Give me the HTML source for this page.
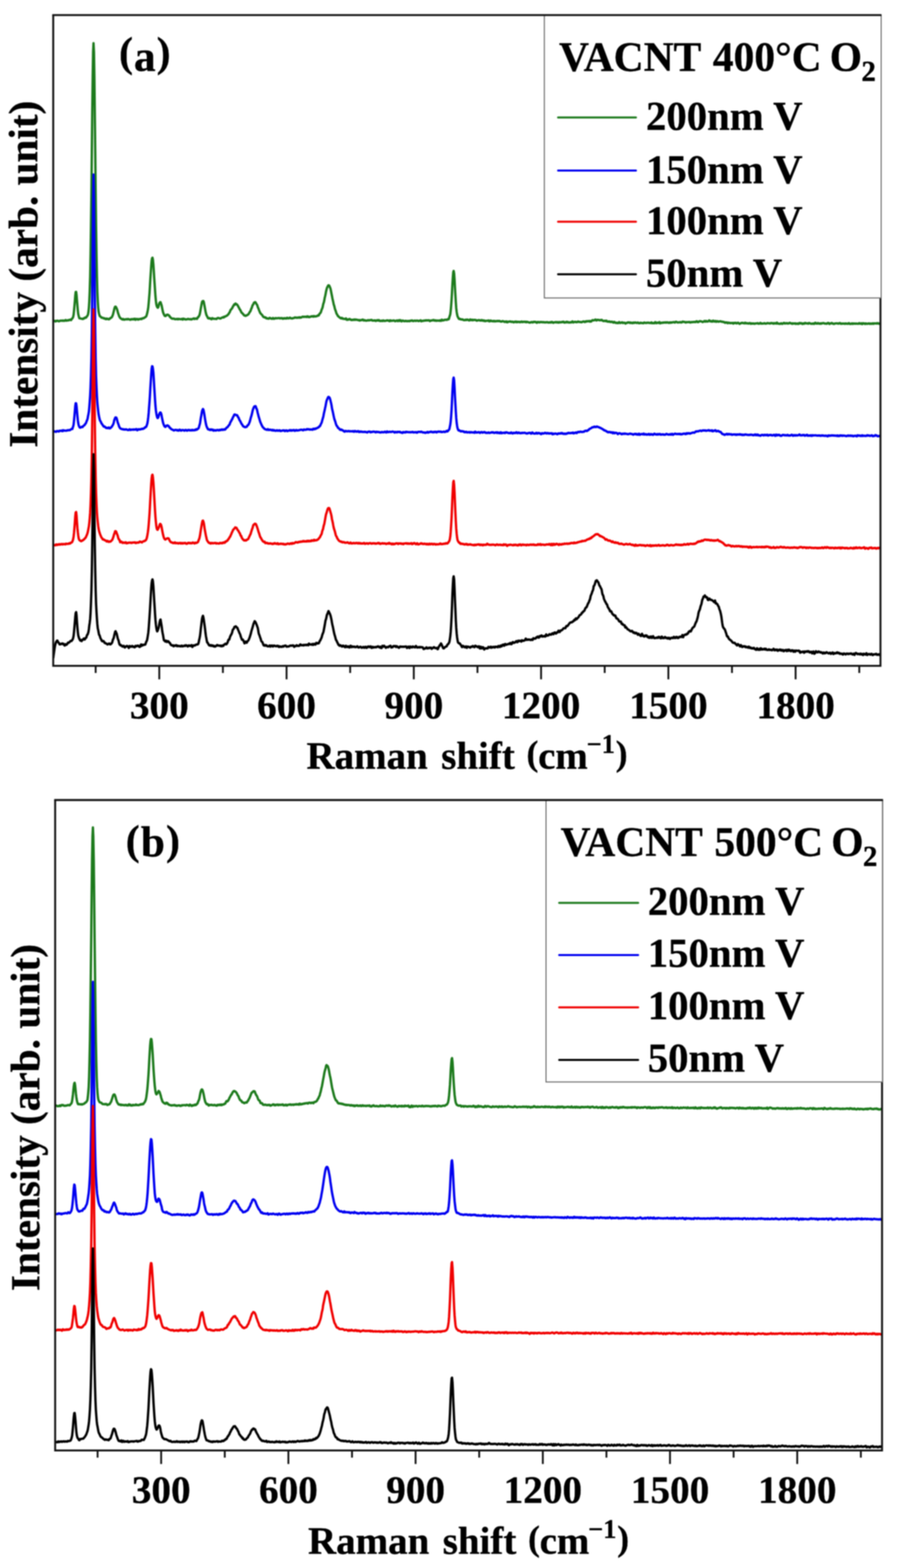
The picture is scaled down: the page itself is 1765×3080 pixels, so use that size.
<!DOCTYPE html>
<html><head><meta charset="utf-8"><style>
html,body{margin:0;padding:0;background:#fff;overflow:hidden;}
svg{display:block;filter:blur(1px);}
.t{font-family:'Liberation Serif', 'Times New Roman', serif;font-weight:bold;stroke:#000;stroke-width:0.6px;stroke-linejoin:round;font-size:76.5px;fill:#000;}
.yl{font-family:'Liberation Serif', 'Times New Roman', serif;font-weight:bold;stroke:#000;stroke-width:0.6px;stroke-linejoin:round;font-size:81px;fill:#000;}
.pl{font-family:'Liberation Serif', 'Times New Roman', serif;font-weight:bold;stroke:#000;stroke-width:0.6px;stroke-linejoin:round;font-size:85px;fill:#000;}
.lt{font-family:'Liberation Serif', 'Times New Roman', serif;font-weight:bold;stroke:#000;stroke-width:0.6px;stroke-linejoin:round;font-size:81.5px;fill:#000;}
.lt2{font-family:'Liberation Serif', 'Times New Roman', serif;font-weight:bold;stroke:#000;stroke-width:0.6px;stroke-linejoin:round;font-size:80px;fill:#000;}
</style></head><body>
<svg width="1765" height="3080" viewBox="0 0 1765 3080">
<rect width="100%" height="100%" fill="#fff"/>
<clipPath id="clipa"><rect x="104.5" y="29.6" width="1624.1" height="1278.3"/></clipPath>
<g clip-path="url(#clipa)">
<path d="M104.5,630.2 L105.3,629.8 L106.2,630.5 L107.0,630.3 L107.8,630.7 L108.7,631.4 L109.5,630.5 L110.3,630.2 L111.2,630.6 L112.0,630.1 L112.8,629.9 L113.7,630.2 L114.5,630.4 L115.3,631.3 L116.2,631.1 L117.0,630.5 L117.8,630.1 L118.7,629.9 L119.5,630.0 L120.3,629.7 L121.2,629.9 L122.0,630.2 L122.8,629.6 L123.7,629.6 L124.5,630.2 L125.3,629.7 L126.2,630.0 L127.0,630.1 L127.8,629.4 L128.7,628.6 L129.5,628.9 L130.3,630.0 L131.2,629.8 L132.0,629.4 L132.8,629.2 L133.7,628.9 L134.5,629.4 L135.3,629.0 L136.1,628.4 L137.0,628.5 L137.8,627.8 L138.6,627.9 L139.5,628.8 L140.3,627.6 L141.1,626.1 L142.0,625.5 L142.8,624.4 L143.6,622.5 L144.5,618.2 L145.3,610.6 L146.1,601.6 L147.0,591.2 L147.8,580.3 L148.6,573.5 L149.5,573.4 L150.3,579.5 L151.1,589.8 L152.0,600.4 L152.8,610.1 L153.6,616.9 L154.5,620.6 L155.3,623.8 L156.1,625.3 L157.0,625.3 L157.8,625.6 L158.6,625.8 L159.5,625.9 L160.3,626.2 L161.1,626.2 L162.0,626.4 L162.8,626.6 L163.6,625.5 L164.5,625.4 L165.3,625.6 L166.1,624.3 L167.0,623.9 L167.8,623.8 L168.6,624.2 L169.5,623.3 L170.3,621.7 L171.1,621.0 L172.0,619.6 L172.8,617.5 L173.6,613.0 L174.5,604.8 L175.3,592.2 L176.1,573.6 L177.0,543.2 L177.8,499.7 L178.6,444.6 L179.5,376.2 L180.3,299.1 L181.1,220.7 L182.0,150.4 L182.8,101.7 L183.6,84.8 L184.5,102.5 L185.3,150.6 L186.1,220.2 L187.0,298.4 L187.8,375.3 L188.6,444.4 L189.5,500.4 L190.3,542.6 L191.1,572.7 L192.0,592.4 L192.8,604.6 L193.6,612.1 L194.5,616.2 L195.3,619.3 L196.1,621.1 L196.9,621.5 L197.8,622.3 L198.6,623.2 L199.4,624.0 L200.3,624.1 L201.1,624.0 L201.9,624.3 L202.8,624.8 L203.6,625.5 L204.4,625.5 L205.3,625.1 L206.1,626.2 L206.9,626.5 L207.8,627.0 L208.6,626.4 L209.4,625.6 L210.3,626.7 L211.1,626.5 L211.9,626.3 L212.8,626.7 L213.6,627.3 L214.4,627.2 L215.3,626.0 L216.1,625.2 L216.9,625.0 L217.8,624.1 L218.6,623.7 L219.4,623.2 L220.3,621.5 L221.1,619.7 L221.9,617.4 L222.8,613.8 L223.6,610.5 L224.4,606.9 L225.3,603.9 L226.1,602.4 L226.9,602.2 L227.8,603.2 L228.6,604.9 L229.4,606.7 L230.3,609.0 L231.1,612.4 L231.9,615.4 L232.8,617.6 L233.6,620.1 L234.4,622.2 L235.3,623.4 L236.1,624.8 L236.9,625.3 L237.8,625.8 L238.6,626.7 L239.4,626.6 L240.3,627.5 L241.1,627.6 L241.9,626.7 L242.8,627.1 L243.6,627.9 L244.4,628.0 L245.3,627.6 L246.1,627.2 L246.9,627.1 L247.8,627.2 L248.6,626.9 L249.4,627.4 L250.3,627.3 L251.1,626.5 L251.9,626.8 L252.8,627.0 L253.6,627.3 L254.4,627.7 L255.2,628.0 L256.1,628.1 L256.9,627.3 L257.7,626.9 L258.6,627.0 L259.4,627.4 L260.2,627.3 L261.1,626.5 L261.9,626.7 L262.7,627.3 L263.6,626.5 L264.4,626.2 L265.2,627.7 L266.1,628.2 L266.9,626.8 L267.7,626.5 L268.6,627.0 L269.4,626.5 L270.2,627.2 L271.1,627.9 L271.9,626.9 L272.7,626.8 L273.6,627.1 L274.4,626.9 L275.2,626.5 L276.1,626.2 L276.9,626.1 L277.7,626.8 L278.6,626.4 L279.4,625.4 L280.2,625.0 L281.1,625.1 L281.9,625.3 L282.7,624.6 L283.6,623.9 L284.4,623.5 L285.2,623.1 L286.1,622.2 L286.9,621.6 L287.7,619.9 L288.6,616.6 L289.4,613.4 L290.2,609.4 L291.1,603.9 L291.9,595.5 L292.7,585.9 L293.6,575.1 L294.4,561.7 L295.2,547.6 L296.1,534.2 L296.9,522.1 L297.7,512.2 L298.6,507.1 L299.4,506.2 L300.2,510.0 L301.1,519.3 L301.9,531.4 L302.7,544.9 L303.6,558.0 L304.4,570.1 L305.2,581.8 L306.1,591.2 L306.9,597.6 L307.7,601.1 L308.6,603.1 L309.4,604.4 L310.2,604.4 L311.1,602.2 L311.9,598.6 L312.7,595.8 L313.6,594.7 L314.4,593.6 L315.2,593.5 L316.0,596.0 L316.9,598.6 L317.7,601.8 L318.5,606.0 L319.4,610.4 L320.2,613.6 L321.0,615.8 L321.9,617.7 L322.7,619.3 L323.5,620.7 L324.4,620.7 L325.2,620.7 L326.0,620.0 L326.9,618.5 L327.7,618.4 L328.5,618.3 L329.4,618.1 L330.2,618.5 L331.0,619.5 L331.9,619.7 L332.7,620.7 L333.5,622.5 L334.4,623.1 L335.2,623.7 L336.0,624.7 L336.9,625.4 L337.7,625.9 L338.5,626.1 L339.4,625.9 L340.2,625.9 L341.0,625.9 L341.9,626.1 L342.7,626.7 L343.5,627.0 L344.4,626.7 L345.2,626.8 L346.0,626.9 L346.9,626.7 L347.7,626.3 L348.5,626.8 L349.4,627.4 L350.2,626.6 L351.0,626.2 L351.9,626.7 L352.7,626.8 L353.5,626.9 L354.4,627.1 L355.2,626.9 L356.0,626.9 L356.9,626.2 L357.7,626.2 L358.5,627.8 L359.4,627.3 L360.2,625.9 L361.0,626.4 L361.9,627.0 L362.7,626.5 L363.5,627.1 L364.4,627.7 L365.2,627.4 L366.0,627.2 L366.9,627.3 L367.7,627.1 L368.5,626.6 L369.4,626.4 L370.2,626.8 L371.0,627.0 L371.9,627.0 L372.7,627.1 L373.5,626.7 L374.4,626.7 L375.2,627.4 L376.0,627.5 L376.8,626.7 L377.7,626.6 L378.5,626.5 L379.3,625.9 L380.2,625.3 L381.0,626.0 L381.8,626.7 L382.7,625.9 L383.5,625.5 L384.3,625.9 L385.2,625.8 L386.0,626.3 L386.8,626.4 L387.7,624.7 L388.5,623.2 L389.3,622.9 L390.2,621.6 L391.0,620.1 L391.8,618.4 L392.7,614.8 L393.5,610.2 L394.3,605.4 L395.2,600.6 L396.0,596.2 L396.8,592.9 L397.7,591.6 L398.5,591.3 L399.3,591.3 L400.2,593.6 L401.0,598.2 L401.8,602.3 L402.7,607.1 L403.5,611.7 L404.3,615.1 L405.2,618.6 L406.0,620.1 L406.8,621.6 L407.7,623.6 L408.5,625.0 L409.3,625.4 L410.2,625.0 L411.0,624.8 L411.8,625.8 L412.7,625.7 L413.5,625.5 L414.3,626.8 L415.2,627.1 L416.0,625.7 L416.8,624.9 L417.7,625.8 L418.5,626.1 L419.3,625.9 L420.2,626.2 L421.0,626.3 L421.8,626.2 L422.7,626.2 L423.5,626.4 L424.3,626.4 L425.2,626.6 L426.0,625.6 L426.8,624.8 L427.7,624.8 L428.5,624.6 L429.3,624.7 L430.2,624.9 L431.0,625.5 L431.8,625.7 L432.7,625.5 L433.5,625.4 L434.3,624.8 L435.2,624.1 L436.0,623.8 L436.8,623.7 L437.6,623.1 L438.5,623.7 L439.3,623.5 L440.1,622.1 L441.0,622.3 L441.8,622.1 L442.6,621.5 L443.5,620.8 L444.3,620.7 L445.1,620.3 L446.0,619.6 L446.8,619.0 L447.6,617.8 L448.5,617.2 L449.3,615.9 L450.1,614.2 L451.0,613.4 L451.8,611.3 L452.6,609.0 L453.5,608.1 L454.3,607.3 L455.1,606.1 L456.0,605.0 L456.8,603.2 L457.6,601.5 L458.5,600.4 L459.3,598.7 L460.1,597.8 L461.0,598.6 L461.8,597.8 L462.6,596.2 L463.5,597.2 L464.3,597.7 L465.1,597.7 L466.0,599.0 L466.8,600.1 L467.6,601.7 L468.5,603.5 L469.3,604.6 L470.1,606.5 L471.0,608.0 L471.8,609.0 L472.6,610.6 L473.5,612.6 L474.3,614.1 L475.1,614.6 L476.0,615.5 L476.8,616.4 L477.6,617.5 L478.5,618.4 L479.3,619.5 L480.1,619.8 L481.0,619.5 L481.8,620.4 L482.6,620.4 L483.5,619.8 L484.3,619.5 L485.1,619.1 L486.0,618.4 L486.8,618.1 L487.6,617.2 L488.5,616.3 L489.3,614.7 L490.1,613.1 L491.0,612.2 L491.8,610.9 L492.6,608.6 L493.5,606.0 L494.3,604.7 L495.1,601.9 L495.9,599.5 L496.8,598.6 L497.6,597.0 L498.4,595.1 L499.3,594.1 L500.1,594.1 L500.9,593.4 L501.8,593.9 L502.6,595.7 L503.4,597.0 L504.3,598.3 L505.1,599.6 L505.9,602.5 L506.8,604.8 L507.6,606.5 L508.4,608.8 L509.3,611.0 L510.1,612.9 L510.9,614.7 L511.8,615.8 L512.6,616.6 L513.4,617.7 L514.3,618.3 L515.1,619.2 L515.9,620.9 L516.8,622.1 L517.6,622.9 L518.4,622.7 L519.3,623.1 L520.1,623.9 L520.9,623.4 L521.8,623.8 L522.6,625.0 L523.4,625.5 L524.3,625.1 L525.1,625.4 L525.9,626.0 L526.8,625.9 L527.6,626.0 L528.4,625.3 L529.3,624.4 L530.1,624.6 L530.9,625.2 L531.8,625.6 L532.6,625.6 L533.4,626.1 L534.3,626.2 L535.1,625.3 L535.9,624.6 L536.8,625.2 L537.6,626.2 L538.4,626.0 L539.3,625.8 L540.1,625.2 L540.9,624.8 L541.8,625.1 L542.6,625.0 L543.4,625.3 L544.3,625.3 L545.1,625.1 L545.9,624.8 L546.8,624.8 L547.6,624.8 L548.4,624.9 L549.3,625.5 L550.1,625.1 L550.9,625.0 L551.8,625.2 L552.6,624.9 L553.4,624.9 L554.3,625.6 L555.1,626.2 L555.9,625.8 L556.7,625.2 L557.6,625.7 L558.4,625.5 L559.2,624.9 L560.1,625.5 L560.9,625.2 L561.7,625.7 L562.6,625.5 L563.4,624.2 L564.2,624.3 L565.1,625.0 L565.9,625.4 L566.7,625.3 L567.6,625.0 L568.4,624.4 L569.2,623.9 L570.1,624.8 L570.9,625.3 L571.7,625.2 L572.6,625.4 L573.4,625.1 L574.2,625.6 L575.1,625.1 L575.9,624.7 L576.7,624.7 L577.6,624.5 L578.4,623.8 L579.2,623.6 L580.1,624.0 L580.9,623.9 L581.7,624.2 L582.6,623.8 L583.4,624.0 L584.2,624.3 L585.1,624.1 L585.9,623.6 L586.7,623.3 L587.6,624.2 L588.4,623.5 L589.2,623.2 L590.1,624.0 L590.9,623.8 L591.7,623.5 L592.6,622.9 L593.4,622.2 L594.2,622.1 L595.1,622.0 L595.9,622.3 L596.7,622.7 L597.6,622.1 L598.4,622.2 L599.2,622.3 L600.1,622.1 L600.9,622.7 L601.7,622.6 L602.6,621.7 L603.4,621.4 L604.2,622.5 L605.1,622.7 L605.9,621.9 L606.7,622.7 L607.6,623.0 L608.4,622.6 L609.2,622.2 L610.1,621.7 L610.9,621.5 L611.7,621.4 L612.6,621.7 L613.4,621.1 L614.2,621.2 L615.1,622.1 L615.9,621.0 L616.7,620.8 L617.5,621.6 L618.4,621.4 L619.2,621.6 L620.0,621.5 L620.9,621.0 L621.7,621.1 L622.5,620.5 L623.4,620.5 L624.2,619.7 L625.0,618.9 L625.9,619.5 L626.7,617.9 L627.5,616.1 L628.4,615.4 L629.2,614.6 L630.0,613.2 L630.9,610.1 L631.7,607.6 L632.5,606.1 L633.4,603.5 L634.2,599.4 L635.0,596.0 L635.9,593.6 L636.7,590.0 L637.5,585.0 L638.4,581.5 L639.2,577.8 L640.0,573.1 L640.9,569.4 L641.7,566.2 L642.5,564.1 L643.4,562.6 L644.2,560.9 L645.0,560.3 L645.9,560.7 L646.7,561.6 L647.5,563.7 L648.4,565.6 L649.2,568.4 L650.0,572.5 L650.9,577.2 L651.7,581.0 L652.5,585.4 L653.4,589.4 L654.2,592.9 L655.0,597.2 L655.9,599.9 L656.7,602.9 L657.5,606.5 L658.4,609.0 L659.2,611.1 L660.0,613.8 L660.9,616.4 L661.7,617.4 L662.5,618.9 L663.4,620.9 L664.2,621.1 L665.0,622.0 L665.9,623.0 L666.7,623.6 L667.5,624.2 L668.4,624.2 L669.2,625.5 L670.0,625.3 L670.9,624.4 L671.7,624.7 L672.5,626.0 L673.4,626.2 L674.2,625.9 L675.0,626.4 L675.9,626.3 L676.7,626.6 L677.5,626.8 L678.3,626.5 L679.2,625.5 L680.0,626.4 L680.8,628.2 L681.7,627.6 L682.5,627.9 L683.3,628.2 L684.2,627.0 L685.0,627.1 L685.8,626.7 L686.7,626.5 L687.5,627.7 L688.3,627.9 L689.2,628.1 L690.0,628.7 L690.8,628.2 L691.7,628.0 L692.5,628.5 L693.3,628.2 L694.2,628.4 L695.0,627.6 L695.8,627.5 L696.7,628.3 L697.5,627.7 L698.3,627.6 L699.2,628.1 L700.0,628.0 L700.8,628.1 L701.7,628.3 L702.5,628.6 L703.3,628.9 L704.2,629.0 L705.0,628.7 L705.8,629.5 L706.7,629.7 L707.5,628.9 L708.3,628.8 L709.2,628.7 L710.0,628.9 L710.8,628.2 L711.7,627.8 L712.5,627.8 L713.3,628.7 L714.2,629.6 L715.0,628.9 L715.8,628.7 L716.7,629.4 L717.5,629.6 L718.3,629.9 L719.2,629.7 L720.0,629.8 L720.8,629.7 L721.7,629.1 L722.5,628.9 L723.3,629.3 L724.2,629.5 L725.0,628.9 L725.8,629.2 L726.7,628.8 L727.5,628.7 L728.3,628.8 L729.2,628.3 L730.0,628.7 L730.8,629.6 L731.7,629.8 L732.5,629.6 L733.3,629.8 L734.2,629.8 L735.0,629.5 L735.8,629.2 L736.6,629.5 L737.5,630.5 L738.3,630.2 L739.1,629.7 L740.0,629.2 L740.8,628.9 L741.6,629.7 L742.5,629.6 L743.3,628.7 L744.1,628.8 L745.0,630.0 L745.8,630.5 L746.6,630.4 L747.5,630.6 L748.3,630.3 L749.1,629.8 L750.0,630.1 L750.8,630.7 L751.6,630.3 L752.5,629.4 L753.3,629.7 L754.1,630.3 L755.0,630.5 L755.8,630.2 L756.6,630.1 L757.5,630.0 L758.3,629.9 L759.1,629.6 L760.0,629.2 L760.8,629.2 L761.6,629.6 L762.5,629.7 L763.3,629.8 L764.1,630.8 L765.0,630.9 L765.8,629.4 L766.6,629.3 L767.5,630.1 L768.3,629.8 L769.1,630.1 L770.0,630.1 L770.8,629.9 L771.6,629.6 L772.5,629.6 L773.3,629.9 L774.1,629.5 L775.0,630.2 L775.8,630.9 L776.6,630.5 L777.5,630.5 L778.3,629.9 L779.1,629.3 L780.0,629.9 L780.8,630.8 L781.6,630.1 L782.5,629.1 L783.3,630.0 L784.1,630.5 L785.0,628.9 L785.8,628.9 L786.6,629.8 L787.5,630.5 L788.3,631.2 L789.1,629.8 L790.0,629.7 L790.8,630.2 L791.6,629.8 L792.5,630.3 L793.3,630.9 L794.1,630.7 L795.0,630.8 L795.8,630.8 L796.6,630.0 L797.4,630.4 L798.3,630.7 L799.1,630.9 L799.9,630.9 L800.8,630.4 L801.6,630.7 L802.4,630.6 L803.3,630.9 L804.1,631.0 L804.9,630.2 L805.8,629.9 L806.6,629.8 L807.4,630.1 L808.3,629.8 L809.1,629.4 L809.9,630.1 L810.8,630.7 L811.6,630.7 L812.4,630.4 L813.3,629.9 L814.1,629.8 L814.9,629.9 L815.8,630.3 L816.6,630.4 L817.4,629.7 L818.3,629.7 L819.1,629.7 L819.9,629.8 L820.8,630.5 L821.6,630.7 L822.4,630.5 L823.3,630.1 L824.1,630.3 L824.9,629.9 L825.8,629.2 L826.6,630.2 L827.4,631.1 L828.3,630.3 L829.1,630.3 L829.9,630.4 L830.8,629.8 L831.6,630.1 L832.4,630.0 L833.3,629.5 L834.1,629.6 L834.9,629.8 L835.8,629.5 L836.6,629.1 L837.4,629.4 L838.3,629.5 L839.1,629.2 L839.9,629.4 L840.8,629.2 L841.6,629.0 L842.4,629.4 L843.3,630.0 L844.1,630.8 L844.9,630.1 L845.8,629.6 L846.6,629.7 L847.4,629.7 L848.3,629.2 L849.1,629.0 L849.9,629.3 L850.8,628.6 L851.6,628.6 L852.4,629.6 L853.3,629.9 L854.1,629.8 L854.9,629.2 L855.8,630.0 L856.6,630.2 L857.4,629.6 L858.2,630.0 L859.1,629.7 L859.9,629.6 L860.7,629.7 L861.6,629.7 L862.4,630.1 L863.2,629.9 L864.1,629.0 L864.9,629.4 L865.7,630.3 L866.6,629.4 L867.4,628.0 L868.2,628.8 L869.1,629.6 L869.9,628.9 L870.7,628.8 L871.6,629.1 L872.4,628.5 L873.2,628.1 L874.1,628.1 L874.9,628.1 L875.7,628.1 L876.6,628.3 L877.4,628.4 L878.2,627.8 L879.1,627.0 L879.9,626.7 L880.7,627.2 L881.6,625.8 L882.4,622.2 L883.2,620.2 L884.1,616.8 L884.9,610.1 L885.7,600.7 L886.6,588.7 L887.4,574.5 L888.2,559.2 L889.1,544.4 L889.9,534.4 L890.7,532.1 L891.6,537.4 L892.4,549.0 L893.2,564.3 L894.1,579.8 L894.9,593.6 L895.7,605.0 L896.6,612.6 L897.4,617.6 L898.2,621.1 L899.1,622.9 L899.9,624.4 L900.7,626.0 L901.6,626.6 L902.4,626.5 L903.2,626.3 L904.1,627.1 L904.9,627.5 L905.7,627.2 L906.6,627.5 L907.4,627.8 L908.2,627.3 L909.1,627.9 L909.9,628.8 L910.7,628.7 L911.6,628.7 L912.4,628.9 L913.2,628.5 L914.1,627.9 L914.9,628.6 L915.7,628.7 L916.5,627.9 L917.4,627.6 L918.2,628.3 L919.0,628.4 L919.9,628.6 L920.7,629.5 L921.5,629.4 L922.4,628.4 L923.2,627.5 L924.0,628.0 L924.9,628.9 L925.7,628.7 L926.5,628.0 L927.4,628.1 L928.2,629.2 L929.0,628.9 L929.9,628.3 L930.7,628.3 L931.5,628.6 L932.4,628.3 L933.2,628.5 L934.0,628.7 L934.9,628.7 L935.7,629.8 L936.5,629.9 L937.4,629.2 L938.2,629.2 L939.0,629.2 L939.9,628.6 L940.7,628.9 L941.5,629.5 L942.4,629.2 L943.2,629.1 L944.0,629.8 L944.9,629.5 L945.7,628.6 L946.5,629.2 L947.4,629.8 L948.2,629.2 L949.0,629.5 L949.9,630.3 L950.7,629.5 L951.5,629.8 L952.4,630.9 L953.2,630.6 L954.0,630.2 L954.9,630.1 L955.7,630.1 L956.5,630.0 L957.4,630.0 L958.2,630.2 L959.0,629.4 L959.9,629.8 L960.7,631.3 L961.5,631.3 L962.4,630.3 L963.2,629.5 L964.0,629.9 L964.9,630.8 L965.7,630.8 L966.5,630.8 L967.4,631.1 L968.2,630.3 L969.0,630.7 L969.9,631.1 L970.7,630.3 L971.5,631.0 L972.4,631.3 L973.2,630.7 L974.0,630.8 L974.9,631.0 L975.7,630.7 L976.5,630.3 L977.3,630.5 L978.2,630.9 L979.0,630.8 L979.8,630.3 L980.7,630.6 L981.5,630.8 L982.3,631.4 L983.2,631.7 L984.0,631.6 L984.8,631.7 L985.7,631.2 L986.5,630.9 L987.3,630.8 L988.2,631.3 L989.0,631.3 L989.8,631.9 L990.7,632.4 L991.5,631.8 L992.3,631.6 L993.2,632.3 L994.0,632.7 L994.8,631.3 L995.7,632.0 L996.5,633.0 L997.3,632.2 L998.2,632.0 L999.0,631.9 L999.8,631.5 L1000.7,631.8 L1001.5,631.8 L1002.3,631.4 L1003.2,632.1 L1004.0,632.4 L1004.8,632.3 L1005.7,632.0 L1006.5,631.8 L1007.3,632.5 L1008.2,633.1 L1009.0,633.1 L1009.8,632.4 L1010.7,631.9 L1011.5,631.6 L1012.3,632.3 L1013.2,632.9 L1014.0,632.0 L1014.8,631.7 L1015.7,632.2 L1016.5,632.8 L1017.3,632.4 L1018.2,632.0 L1019.0,632.0 L1019.8,632.6 L1020.7,633.1 L1021.5,632.3 L1022.3,632.3 L1023.2,631.9 L1024.0,631.5 L1024.8,632.6 L1025.7,632.6 L1026.5,632.0 L1027.3,632.1 L1028.2,632.5 L1029.0,631.9 L1029.8,632.1 L1030.7,632.4 L1031.5,631.8 L1032.3,632.7 L1033.2,633.0 L1034.0,632.0 L1034.8,632.1 L1035.7,632.6 L1036.5,632.8 L1037.3,632.8 L1038.1,633.1 L1039.0,633.6 L1039.8,633.7 L1040.6,633.5 L1041.5,633.5 L1042.3,633.2 L1043.1,632.6 L1044.0,632.5 L1044.8,633.0 L1045.6,633.4 L1046.5,633.1 L1047.3,632.2 L1048.1,632.0 L1049.0,632.4 L1049.8,632.5 L1050.6,632.1 L1051.5,632.2 L1052.3,633.0 L1053.1,633.5 L1054.0,634.1 L1054.8,633.4 L1055.6,632.4 L1056.5,632.9 L1057.3,633.0 L1058.1,632.6 L1059.0,633.4 L1059.8,633.1 L1060.6,632.5 L1061.5,632.7 L1062.3,632.5 L1063.1,632.6 L1064.0,633.0 L1064.8,633.0 L1065.6,632.6 L1066.5,633.2 L1067.3,632.9 L1068.1,632.8 L1069.0,633.3 L1069.8,633.4 L1070.6,633.1 L1071.5,633.0 L1072.3,633.2 L1073.1,633.0 L1074.0,632.7 L1074.8,632.8 L1075.6,633.4 L1076.5,633.2 L1077.3,633.7 L1078.1,633.4 L1079.0,633.1 L1079.8,633.5 L1080.6,632.9 L1081.5,633.5 L1082.3,633.5 L1083.1,632.4 L1084.0,632.5 L1084.8,632.9 L1085.6,633.9 L1086.5,634.1 L1087.3,633.4 L1088.1,633.4 L1089.0,633.1 L1089.8,632.9 L1090.6,632.6 L1091.5,632.8 L1092.3,633.4 L1093.1,632.9 L1094.0,632.5 L1094.8,633.0 L1095.6,633.7 L1096.5,633.8 L1097.3,632.8 L1098.1,632.5 L1098.9,633.3 L1099.8,633.4 L1100.6,632.9 L1101.4,632.8 L1102.3,633.0 L1103.1,632.9 L1103.9,632.2 L1104.8,632.6 L1105.6,632.5 L1106.4,631.9 L1107.3,633.0 L1108.1,633.7 L1108.9,633.2 L1109.8,632.9 L1110.6,633.4 L1111.4,633.1 L1112.3,632.0 L1113.1,632.1 L1113.9,633.2 L1114.8,633.1 L1115.6,632.5 L1116.4,633.1 L1117.3,633.7 L1118.1,633.6 L1118.9,633.1 L1119.8,633.0 L1120.6,633.1 L1121.4,633.4 L1122.3,633.0 L1123.1,631.8 L1123.9,631.4 L1124.8,632.7 L1125.6,633.3 L1126.4,632.7 L1127.3,632.5 L1128.1,632.3 L1128.9,632.0 L1129.8,632.6 L1130.6,632.5 L1131.4,632.4 L1132.3,632.9 L1133.1,632.8 L1133.9,632.3 L1134.8,631.5 L1135.6,631.7 L1136.4,632.2 L1137.3,632.4 L1138.1,632.4 L1138.9,632.7 L1139.8,632.5 L1140.6,632.7 L1141.4,632.9 L1142.3,633.0 L1143.1,632.4 L1143.9,631.8 L1144.8,631.8 L1145.6,631.3 L1146.4,631.6 L1147.3,632.1 L1148.1,632.7 L1148.9,631.9 L1149.8,631.2 L1150.6,632.0 L1151.4,631.5 L1152.3,630.8 L1153.1,630.7 L1153.9,631.1 L1154.8,631.1 L1155.6,631.0 L1156.4,630.5 L1157.2,630.9 L1158.1,631.8 L1158.9,630.7 L1159.7,631.1 L1160.6,631.6 L1161.4,630.6 L1162.2,629.7 L1163.1,628.9 L1163.9,629.0 L1164.7,629.3 L1165.6,629.4 L1166.4,628.9 L1167.2,628.9 L1168.1,628.2 L1168.9,627.7 L1169.7,628.2 L1170.6,629.4 L1171.4,629.4 L1172.2,628.3 L1173.1,628.5 L1173.9,628.4 L1174.7,628.3 L1175.6,628.6 L1176.4,628.9 L1177.2,629.2 L1178.1,628.7 L1178.9,628.6 L1179.7,629.0 L1180.6,628.7 L1181.4,628.3 L1182.2,629.3 L1183.1,630.0 L1183.9,630.1 L1184.7,630.7 L1185.6,630.6 L1186.4,630.1 L1187.2,630.2 L1188.1,630.0 L1188.9,630.8 L1189.7,630.3 L1190.6,629.9 L1191.4,631.1 L1192.2,631.7 L1193.1,631.7 L1193.9,631.5 L1194.7,632.0 L1195.6,631.4 L1196.4,631.2 L1197.2,632.0 L1198.1,632.5 L1198.9,632.4 L1199.7,632.5 L1200.6,632.0 L1201.4,631.8 L1202.2,632.6 L1203.1,632.8 L1203.9,633.6 L1204.7,633.8 L1205.6,632.3 L1206.4,632.5 L1207.2,633.4 L1208.1,633.6 L1208.9,634.2 L1209.7,634.4 L1210.6,634.0 L1211.4,633.8 L1212.2,634.4 L1213.1,634.8 L1213.9,634.6 L1214.7,633.9 L1215.6,632.7 L1216.4,633.4 L1217.2,634.5 L1218.0,634.4 L1218.9,633.9 L1219.7,633.6 L1220.5,633.5 L1221.4,633.0 L1222.2,633.9 L1223.0,634.6 L1223.9,634.1 L1224.7,634.0 L1225.5,633.9 L1226.4,634.0 L1227.2,634.7 L1228.0,635.6 L1228.9,635.2 L1229.7,634.4 L1230.5,634.3 L1231.4,634.3 L1232.2,633.5 L1233.0,633.2 L1233.9,633.5 L1234.7,633.4 L1235.5,633.4 L1236.4,634.2 L1237.2,634.5 L1238.0,633.5 L1238.9,633.8 L1239.7,634.0 L1240.5,634.5 L1241.4,634.9 L1242.2,634.1 L1243.0,633.5 L1243.9,633.8 L1244.7,634.5 L1245.5,634.1 L1246.4,633.6 L1247.2,633.4 L1248.0,633.8 L1248.9,634.1 L1249.7,634.2 L1250.5,634.4 L1251.4,633.7 L1252.2,633.5 L1253.0,633.8 L1253.9,634.8 L1254.7,635.0 L1255.5,634.5 L1256.4,634.8 L1257.2,634.3 L1258.0,633.8 L1258.9,634.4 L1259.7,634.5 L1260.5,634.6 L1261.4,634.4 L1262.2,634.7 L1263.0,635.0 L1263.9,634.4 L1264.7,633.5 L1265.5,633.6 L1266.4,634.2 L1267.2,634.2 L1268.0,634.5 L1268.9,634.4 L1269.7,633.8 L1270.5,633.9 L1271.4,634.1 L1272.2,634.0 L1273.0,633.7 L1273.9,634.1 L1274.7,634.3 L1275.5,634.5 L1276.4,634.5 L1277.2,634.2 L1278.0,634.4 L1278.8,633.3 L1279.7,633.6 L1280.5,634.9 L1281.3,634.5 L1282.2,634.5 L1283.0,634.6 L1283.8,634.7 L1284.7,635.0 L1285.5,633.7 L1286.3,632.7 L1287.2,632.9 L1288.0,634.5 L1288.8,634.9 L1289.7,634.3 L1290.5,634.1 L1291.3,633.6 L1292.2,634.0 L1293.0,634.4 L1293.8,633.5 L1294.7,632.8 L1295.5,634.2 L1296.3,635.1 L1297.2,634.5 L1298.0,633.9 L1298.8,633.9 L1299.7,634.2 L1300.5,634.3 L1301.3,633.8 L1302.2,633.4 L1303.0,633.8 L1303.8,633.9 L1304.7,633.6 L1305.5,633.1 L1306.3,633.3 L1307.2,633.7 L1308.0,633.9 L1308.8,633.3 L1309.7,633.0 L1310.5,633.2 L1311.3,633.6 L1312.2,634.2 L1313.0,634.1 L1313.8,633.5 L1314.7,633.2 L1315.5,634.1 L1316.3,633.8 L1317.2,633.2 L1318.0,633.7 L1318.8,633.7 L1319.7,633.3 L1320.5,633.2 L1321.3,632.9 L1322.2,632.9 L1323.0,632.7 L1323.8,632.7 L1324.7,633.6 L1325.5,633.3 L1326.3,632.2 L1327.2,632.0 L1328.0,632.0 L1328.8,632.6 L1329.7,633.2 L1330.5,633.4 L1331.3,633.4 L1332.2,633.0 L1333.0,633.1 L1333.8,633.3 L1334.7,633.2 L1335.5,632.6 L1336.3,633.0 L1337.2,633.5 L1338.0,633.1 L1338.8,633.1 L1339.6,632.0 L1340.5,631.7 L1341.3,632.2 L1342.1,632.2 L1343.0,632.0 L1343.8,632.6 L1344.6,632.6 L1345.5,632.7 L1346.3,633.5 L1347.1,632.9 L1348.0,632.8 L1348.8,633.0 L1349.6,632.7 L1350.5,632.7 L1351.3,632.7 L1352.1,632.7 L1353.0,632.2 L1353.8,632.6 L1354.6,633.5 L1355.5,633.5 L1356.3,633.0 L1357.1,632.6 L1358.0,633.0 L1358.8,632.8 L1359.6,632.6 L1360.5,632.9 L1361.3,632.4 L1362.1,632.4 L1363.0,632.5 L1363.8,632.3 L1364.6,632.8 L1365.5,632.7 L1366.3,631.7 L1367.1,631.2 L1368.0,631.0 L1368.8,631.5 L1369.6,632.8 L1370.5,632.8 L1371.3,632.5 L1372.1,631.9 L1373.0,631.1 L1373.8,630.8 L1374.6,631.0 L1375.5,631.2 L1376.3,631.1 L1377.1,631.4 L1378.0,631.7 L1378.8,632.1 L1379.6,632.7 L1380.5,632.1 L1381.3,631.6 L1382.1,631.5 L1383.0,630.5 L1383.8,631.0 L1384.6,631.8 L1385.5,631.0 L1386.3,630.5 L1387.1,631.4 L1388.0,631.6 L1388.8,631.2 L1389.6,631.4 L1390.5,631.2 L1391.3,630.4 L1392.1,629.4 L1393.0,629.5 L1393.8,630.6 L1394.6,631.4 L1395.5,631.1 L1396.3,630.6 L1397.1,631.0 L1397.9,631.9 L1398.8,631.6 L1399.6,630.0 L1400.4,629.9 L1401.3,630.6 L1402.1,631.5 L1402.9,631.6 L1403.8,630.9 L1404.6,630.4 L1405.4,631.1 L1406.3,632.1 L1407.1,631.6 L1407.9,630.7 L1408.8,630.9 L1409.6,631.7 L1410.4,632.0 L1411.3,631.7 L1412.1,631.4 L1412.9,631.4 L1413.8,631.3 L1414.6,631.1 L1415.4,631.3 L1416.3,631.8 L1417.1,632.1 L1417.9,632.0 L1418.8,631.9 L1419.6,632.3 L1420.4,632.8 L1421.3,632.5 L1422.1,632.7 L1422.9,633.7 L1423.8,634.1 L1424.6,633.5 L1425.4,633.2 L1426.3,633.6 L1427.1,633.4 L1427.9,634.5 L1428.8,634.9 L1429.6,633.7 L1430.4,633.8 L1431.3,634.0 L1432.1,634.0 L1432.9,634.8 L1433.8,634.7 L1434.6,634.3 L1435.4,634.6 L1436.3,634.4 L1437.1,634.7 L1437.9,634.3 L1438.8,634.5 L1439.6,635.6 L1440.4,634.4 L1441.3,634.1 L1442.1,634.7 L1442.9,634.8 L1443.8,634.1 L1444.6,634.0 L1445.4,635.1 L1446.3,635.3 L1447.1,634.7 L1447.9,634.4 L1448.8,633.8 L1449.6,634.3 L1450.4,635.1 L1451.3,635.5 L1452.1,636.2 L1452.9,635.8 L1453.8,635.1 L1454.6,635.0 L1455.4,634.3 L1456.3,634.4 L1457.1,634.2 L1457.9,634.1 L1458.7,634.6 L1459.6,634.6 L1460.4,634.9 L1461.2,635.3 L1462.1,635.0 L1462.9,633.8 L1463.7,634.1 L1464.6,635.0 L1465.4,635.3 L1466.2,634.9 L1467.1,634.9 L1467.9,635.3 L1468.7,635.2 L1469.6,635.7 L1470.4,635.1 L1471.2,634.5 L1472.1,634.8 L1472.9,634.8 L1473.7,636.1 L1474.6,635.8 L1475.4,635.1 L1476.2,635.5 L1477.1,635.8 L1477.9,635.8 L1478.7,635.2 L1479.6,635.2 L1480.4,635.6 L1481.2,636.1 L1482.1,635.9 L1482.9,635.4 L1483.7,635.3 L1484.6,635.2 L1485.4,635.3 L1486.2,635.3 L1487.1,634.8 L1487.9,634.7 L1488.7,635.6 L1489.6,636.0 L1490.4,635.6 L1491.2,635.5 L1492.1,635.3 L1492.9,634.3 L1493.7,635.1 L1494.6,635.8 L1495.4,635.4 L1496.2,635.5 L1497.1,635.6 L1497.9,635.5 L1498.7,635.5 L1499.6,635.5 L1500.4,634.9 L1501.2,634.8 L1502.1,635.5 L1502.9,635.8 L1503.7,635.8 L1504.6,635.6 L1505.4,635.1 L1506.2,634.6 L1507.1,635.0 L1507.9,634.8 L1508.7,634.9 L1509.6,635.1 L1510.4,635.0 L1511.2,635.4 L1512.1,635.4 L1512.9,634.7 L1513.7,634.5 L1514.6,634.7 L1515.4,634.6 L1516.2,635.0 L1517.1,635.5 L1517.9,635.0 L1518.7,634.8 L1519.5,635.8 L1520.4,635.3 L1521.2,634.7 L1522.0,634.8 L1522.9,635.2 L1523.7,635.6 L1524.5,634.6 L1525.4,633.7 L1526.2,634.4 L1527.0,635.7 L1527.9,635.8 L1528.7,635.7 L1529.5,635.9 L1530.4,635.9 L1531.2,636.2 L1532.0,636.0 L1532.9,635.4 L1533.7,634.9 L1534.5,635.4 L1535.4,636.1 L1536.2,636.1 L1537.0,635.4 L1537.9,635.0 L1538.7,634.2 L1539.5,634.2 L1540.4,635.5 L1541.2,635.4 L1542.0,634.8 L1542.9,635.2 L1543.7,635.3 L1544.5,634.7 L1545.4,634.7 L1546.2,635.3 L1547.0,635.6 L1547.9,635.3 L1548.7,635.3 L1549.5,634.6 L1550.4,634.0 L1551.2,634.3 L1552.0,634.9 L1552.9,635.3 L1553.7,635.1 L1554.5,635.7 L1555.4,636.1 L1556.2,635.1 L1557.0,635.1 L1557.9,635.7 L1558.7,635.5 L1559.5,635.4 L1560.4,635.3 L1561.2,635.0 L1562.0,636.2 L1562.9,636.1 L1563.7,635.6 L1564.5,635.9 L1565.4,635.3 L1566.2,635.6 L1567.0,636.4 L1567.9,636.0 L1568.7,635.0 L1569.5,634.4 L1570.4,634.7 L1571.2,635.4 L1572.0,634.9 L1572.9,634.5 L1573.7,635.2 L1574.5,635.7 L1575.4,636.4 L1576.2,635.8 L1577.0,635.1 L1577.9,635.8 L1578.7,636.0 L1579.5,635.2 L1580.3,634.4 L1581.2,634.4 L1582.0,634.9 L1582.8,635.5 L1583.7,635.1 L1584.5,635.2 L1585.3,635.2 L1586.2,635.0 L1587.0,635.9 L1587.8,635.4 L1588.7,634.4 L1589.5,634.9 L1590.3,635.0 L1591.2,635.5 L1592.0,635.9 L1592.8,636.0 L1593.7,635.9 L1594.5,635.6 L1595.3,636.0 L1596.2,635.7 L1597.0,635.3 L1597.8,636.1 L1598.7,636.3 L1599.5,635.0 L1600.3,634.1 L1601.2,634.1 L1602.0,634.9 L1602.8,635.8 L1603.7,635.8 L1604.5,635.6 L1605.3,634.8 L1606.2,634.6 L1607.0,635.4 L1607.8,635.6 L1608.7,635.9 L1609.5,635.2 L1610.3,635.5 L1611.2,636.0 L1612.0,635.0 L1612.8,635.3 L1613.7,635.4 L1614.5,634.7 L1615.3,634.8 L1616.2,634.7 L1617.0,634.6 L1617.8,635.0 L1618.7,635.5 L1619.5,635.6 L1620.3,635.5 L1621.2,635.5 L1622.0,635.7 L1622.8,635.9 L1623.7,635.7 L1624.5,634.9 L1625.3,634.4 L1626.2,634.3 L1627.0,634.6 L1627.8,636.0 L1628.7,636.4 L1629.5,635.3 L1630.3,635.2 L1631.2,635.3 L1632.0,635.2 L1632.8,634.4 L1633.7,634.8 L1634.5,635.5 L1635.3,635.3 L1636.2,636.2 L1637.0,636.3 L1637.8,636.3 L1638.6,635.7 L1639.5,635.2 L1640.3,635.3 L1641.1,635.2 L1642.0,635.2 L1642.8,635.1 L1643.6,635.2 L1644.5,635.3 L1645.3,635.6 L1646.1,635.9 L1647.0,635.1 L1647.8,635.0 L1648.6,634.6 L1649.5,634.8 L1650.3,635.9 L1651.1,635.3 L1652.0,635.9 L1652.8,636.0 L1653.6,635.6 L1654.5,635.8 L1655.3,635.6 L1656.1,635.7 L1657.0,635.6 L1657.8,635.8 L1658.6,636.1 L1659.5,635.4 L1660.3,635.2 L1661.1,635.6 L1662.0,635.7 L1662.8,636.0 L1663.6,635.9 L1664.5,636.0 L1665.3,635.9 L1666.1,634.8 L1667.0,634.9 L1667.8,635.9 L1668.6,636.3 L1669.5,636.4 L1670.3,635.8 L1671.1,635.9 L1672.0,636.1 L1672.8,635.1 L1673.6,635.7 L1674.5,636.2 L1675.3,635.5 L1676.1,635.4 L1677.0,635.8 L1677.8,635.6 L1678.6,635.9 L1679.5,635.9 L1680.3,635.4 L1681.1,635.7 L1682.0,635.7 L1682.8,635.9 L1683.6,635.8 L1684.5,635.8 L1685.3,636.0 L1686.1,635.2 L1687.0,634.7 L1687.8,635.5 L1688.6,635.7 L1689.5,635.9 L1690.3,635.9 L1691.1,634.9 L1692.0,635.4 L1692.8,636.6 L1693.6,635.9 L1694.5,634.9 L1695.3,635.3 L1696.1,635.5 L1697.0,635.3 L1697.8,636.3 L1698.6,636.4 L1699.4,635.3 L1700.3,635.4 L1701.1,635.8 L1701.9,636.1 L1702.8,636.1 L1703.6,635.5 L1704.4,635.8 L1705.3,635.7 L1706.1,635.2 L1706.9,635.7 L1707.8,636.3 L1708.6,636.1 L1709.4,635.4 L1710.3,635.6 L1711.1,636.2 L1711.9,636.2 L1712.8,635.5 L1713.6,635.0 L1714.4,635.5 L1715.3,636.2 L1716.1,635.4 L1716.9,635.1 L1717.8,635.2 L1718.6,635.3 L1719.4,635.4 L1720.3,635.6 L1721.1,635.1 L1721.9,634.7 L1722.8,635.5 L1723.6,635.5 L1724.4,634.9 L1725.3,635.8 L1726.1,635.9 L1726.9,635.9 L1727.8,636.2 L1728.6,635.8" fill="none" stroke="#1c7a1c" stroke-width="4.6" stroke-linejoin="round"/>
<path d="M104.5,848.0 L105.3,847.9 L106.2,847.7 L107.0,847.0 L107.8,847.6 L108.7,848.0 L109.5,848.1 L110.3,848.3 L111.2,847.0 L112.0,846.6 L112.8,846.9 L113.7,846.9 L114.5,847.2 L115.3,847.6 L116.2,846.9 L117.0,846.0 L117.8,846.3 L118.7,846.3 L119.5,846.0 L120.3,846.5 L121.2,846.1 L122.0,845.4 L122.8,846.8 L123.7,846.5 L124.5,845.1 L125.3,845.7 L126.2,845.8 L127.0,845.8 L127.8,846.0 L128.7,846.0 L129.5,845.9 L130.3,845.9 L131.2,845.9 L132.0,845.3 L132.8,845.0 L133.7,845.0 L134.5,845.2 L135.3,845.0 L136.1,844.9 L137.0,845.0 L137.8,844.6 L138.6,844.0 L139.5,843.3 L140.3,842.6 L141.1,842.7 L142.0,842.7 L142.8,840.1 L143.6,837.8 L144.5,834.0 L145.3,826.4 L146.1,817.7 L147.0,807.2 L147.8,797.3 L148.6,792.0 L149.5,792.2 L150.3,798.0 L151.1,807.3 L152.0,817.3 L152.8,825.3 L153.6,831.1 L154.5,835.2 L155.3,837.4 L156.1,839.1 L157.0,840.0 L157.8,839.9 L158.6,839.7 L159.5,839.0 L160.3,838.3 L161.1,838.8 L162.0,838.9 L162.8,837.7 L163.6,836.9 L164.5,836.0 L165.3,835.5 L166.1,834.9 L167.0,833.1 L167.8,832.5 L168.6,831.4 L169.5,829.0 L170.3,826.7 L171.1,825.1 L172.0,822.3 L172.8,817.5 L173.6,813.7 L174.5,808.7 L175.3,800.3 L176.1,789.8 L177.0,777.0 L177.8,760.3 L178.6,736.6 L179.5,702.3 L180.3,652.7 L181.1,581.8 L182.0,487.9 L182.8,389.9 L183.6,342.8 L184.5,388.2 L185.3,485.8 L186.1,580.1 L187.0,652.4 L187.8,703.4 L188.6,738.0 L189.5,761.1 L190.3,777.8 L191.1,790.8 L192.0,800.0 L192.8,807.4 L193.6,813.7 L194.5,818.4 L195.3,822.2 L196.1,825.2 L196.9,827.0 L197.8,828.0 L198.6,830.2 L199.4,832.0 L200.3,832.7 L201.1,834.3 L201.9,835.5 L202.8,836.4 L203.6,837.9 L204.4,838.3 L205.3,837.8 L206.1,838.4 L206.9,839.2 L207.8,840.2 L208.6,840.8 L209.4,840.5 L210.3,840.2 L211.1,840.9 L211.9,841.1 L212.8,840.2 L213.6,839.7 L214.4,840.6 L215.3,841.5 L216.1,841.3 L216.9,840.8 L217.8,839.7 L218.6,839.1 L219.4,838.4 L220.3,836.7 L221.1,835.6 L221.9,834.2 L222.8,832.0 L223.6,828.7 L224.4,825.0 L225.3,822.8 L226.1,820.8 L226.9,819.9 L227.8,820.1 L228.6,820.7 L229.4,823.1 L230.3,826.5 L231.1,829.7 L231.9,831.9 L232.8,834.1 L233.6,837.0 L234.4,838.9 L235.3,840.2 L236.1,841.6 L236.9,841.8 L237.8,842.1 L238.6,842.8 L239.4,842.8 L240.3,843.2 L241.1,842.9 L241.9,843.2 L242.8,843.8 L243.6,843.6 L244.4,843.8 L245.3,843.5 L246.1,843.9 L246.9,843.6 L247.8,843.2 L248.6,843.7 L249.4,844.0 L250.3,844.5 L251.1,844.7 L251.9,844.7 L252.8,844.7 L253.6,843.6 L254.4,843.2 L255.2,844.1 L256.1,844.7 L256.9,844.5 L257.7,843.9 L258.6,843.8 L259.4,843.9 L260.2,843.8 L261.1,844.2 L261.9,843.8 L262.7,843.4 L263.6,844.0 L264.4,843.8 L265.2,843.9 L266.1,843.8 L266.9,843.0 L267.7,842.8 L268.6,843.9 L269.4,845.2 L270.2,844.9 L271.1,843.7 L271.9,843.1 L272.7,843.3 L273.6,843.7 L274.4,843.8 L275.2,843.2 L276.1,842.9 L276.9,843.1 L277.7,842.9 L278.6,842.2 L279.4,842.0 L280.2,842.6 L281.1,842.3 L281.9,841.7 L282.7,841.2 L283.6,841.0 L284.4,839.8 L285.2,839.1 L286.1,839.2 L286.9,838.4 L287.7,836.8 L288.6,834.0 L289.4,831.3 L290.2,826.1 L291.1,819.2 L291.9,811.0 L292.7,800.0 L293.6,788.4 L294.4,776.2 L295.2,761.4 L296.1,747.5 L296.9,735.0 L297.7,724.4 L298.6,719.4 L299.4,719.7 L300.2,724.0 L301.1,731.8 L301.9,744.3 L302.7,758.4 L303.6,772.5 L304.4,785.7 L305.2,797.1 L306.1,806.2 L306.9,811.9 L307.7,816.3 L308.6,819.6 L309.4,821.2 L310.2,820.8 L311.1,818.7 L311.9,815.8 L312.7,813.1 L313.6,811.6 L314.4,810.2 L315.2,810.3 L316.0,811.5 L316.9,814.5 L317.7,818.8 L318.5,822.7 L319.4,826.9 L320.2,830.5 L321.0,833.0 L321.9,835.2 L322.7,837.1 L323.5,837.7 L324.4,838.6 L325.2,838.3 L326.0,836.6 L326.9,836.0 L327.7,836.1 L328.5,835.5 L329.4,835.8 L330.2,836.9 L331.0,836.8 L331.9,837.8 L332.7,839.7 L333.5,840.5 L334.4,840.8 L335.2,841.8 L336.0,842.8 L336.9,843.3 L337.7,843.6 L338.5,844.0 L339.4,844.3 L340.2,844.7 L341.0,845.4 L341.9,845.4 L342.7,844.7 L343.5,844.6 L344.4,844.5 L345.2,844.3 L346.0,844.6 L346.9,845.2 L347.7,845.4 L348.5,844.7 L349.4,845.1 L350.2,845.9 L351.0,845.7 L351.9,844.9 L352.7,844.0 L353.5,844.5 L354.4,845.4 L355.2,845.9 L356.0,845.7 L356.9,844.7 L357.7,844.8 L358.5,845.0 L359.4,844.9 L360.2,844.7 L361.0,845.4 L361.9,846.0 L362.7,845.7 L363.5,844.9 L364.4,844.4 L365.2,845.0 L366.0,845.5 L366.9,845.9 L367.7,845.9 L368.5,844.8 L369.4,844.7 L370.2,844.9 L371.0,844.5 L371.9,844.7 L372.7,845.4 L373.5,845.4 L374.4,844.7 L375.2,845.0 L376.0,845.5 L376.8,845.3 L377.7,844.4 L378.5,844.7 L379.3,845.2 L380.2,844.9 L381.0,845.2 L381.8,844.7 L382.7,844.2 L383.5,844.8 L384.3,844.1 L385.2,843.2 L386.0,844.1 L386.8,843.7 L387.7,842.6 L388.5,842.4 L389.3,841.8 L390.2,840.5 L391.0,837.5 L391.8,834.7 L392.7,831.5 L393.5,826.2 L394.3,820.7 L395.2,816.3 L396.0,811.1 L396.8,806.9 L397.7,804.8 L398.5,803.4 L399.3,804.7 L400.2,808.6 L401.0,813.0 L401.8,818.0 L402.7,823.8 L403.5,828.4 L404.3,832.6 L405.2,836.1 L406.0,838.6 L406.8,840.1 L407.7,842.0 L408.5,843.4 L409.3,843.5 L410.2,843.2 L411.0,843.6 L411.8,844.6 L412.7,844.8 L413.5,844.3 L414.3,843.4 L415.2,843.7 L416.0,844.5 L416.8,844.8 L417.7,843.8 L418.5,844.4 L419.3,845.9 L420.2,845.7 L421.0,845.3 L421.8,844.9 L422.7,845.1 L423.5,845.8 L424.3,845.7 L425.2,845.1 L426.0,844.5 L426.8,844.6 L427.7,844.8 L428.5,845.2 L429.3,845.5 L430.2,844.6 L431.0,844.3 L431.8,844.7 L432.7,845.0 L433.5,844.0 L434.3,844.3 L435.2,844.3 L436.0,843.5 L436.8,844.5 L437.6,844.2 L438.5,844.1 L439.3,844.1 L440.1,843.1 L441.0,843.2 L441.8,843.8 L442.6,843.0 L443.5,842.0 L444.3,840.6 L445.1,839.8 L446.0,839.6 L446.8,839.0 L447.6,837.9 L448.5,836.4 L449.3,835.5 L450.1,834.7 L451.0,833.2 L451.8,830.6 L452.6,829.0 L453.5,827.6 L454.3,826.0 L455.1,824.3 L456.0,823.2 L456.8,820.9 L457.6,819.1 L458.5,818.0 L459.3,815.9 L460.1,814.4 L461.0,814.0 L461.8,814.8 L462.6,814.7 L463.5,815.3 L464.3,815.6 L465.1,815.3 L466.0,816.3 L466.8,818.1 L467.6,819.8 L468.5,820.4 L469.3,822.7 L470.1,825.0 L471.0,826.2 L471.8,827.7 L472.6,829.2 L473.5,831.1 L474.3,832.9 L475.1,833.4 L476.0,835.0 L476.8,836.5 L477.6,837.5 L478.5,837.9 L479.3,838.0 L480.1,838.8 L481.0,839.0 L481.8,839.2 L482.6,838.9 L483.5,838.5 L484.3,838.4 L485.1,837.2 L486.0,835.4 L486.8,835.2 L487.6,834.6 L488.5,832.7 L489.3,830.9 L490.1,829.0 L491.0,826.0 L491.8,822.8 L492.6,819.8 L493.5,817.0 L494.3,814.2 L495.1,810.7 L495.9,807.0 L496.8,803.9 L497.6,801.8 L498.4,800.0 L499.3,798.5 L500.1,798.2 L500.9,797.9 L501.8,797.8 L502.6,800.1 L503.4,802.4 L504.3,803.8 L505.1,807.1 L505.9,811.0 L506.8,814.2 L507.6,817.4 L508.4,820.3 L509.3,823.0 L510.1,825.8 L510.9,828.5 L511.8,830.6 L512.6,832.4 L513.4,834.4 L514.3,836.0 L515.1,837.7 L515.9,839.0 L516.8,839.7 L517.6,840.7 L518.4,841.5 L519.3,842.4 L520.1,843.0 L520.9,843.2 L521.8,843.2 L522.6,843.9 L523.4,844.1 L524.3,844.4 L525.1,843.7 L525.9,842.9 L526.8,844.0 L527.6,844.6 L528.4,844.8 L529.3,844.3 L530.1,843.9 L530.9,844.3 L531.8,844.5 L532.6,844.8 L533.4,845.3 L534.3,844.5 L535.1,844.4 L535.9,845.5 L536.8,845.8 L537.6,845.1 L538.4,844.9 L539.3,845.6 L540.1,846.2 L540.9,846.0 L541.8,846.1 L542.6,845.9 L543.4,845.0 L544.3,845.5 L545.1,845.6 L545.9,846.3 L546.8,846.1 L547.6,845.4 L548.4,845.2 L549.3,845.3 L550.1,846.6 L550.9,846.6 L551.8,846.5 L552.6,846.2 L553.4,846.0 L554.3,845.9 L555.1,845.3 L555.9,845.8 L556.7,845.7 L557.6,845.4 L558.4,845.8 L559.2,846.8 L560.1,846.5 L560.9,845.6 L561.7,846.0 L562.6,845.4 L563.4,845.8 L564.2,846.8 L565.1,846.4 L565.9,846.0 L566.7,846.0 L567.6,845.9 L568.4,844.9 L569.2,845.5 L570.1,845.9 L570.9,844.9 L571.7,845.8 L572.6,846.0 L573.4,845.0 L574.2,845.3 L575.1,845.4 L575.9,845.2 L576.7,844.6 L577.6,844.9 L578.4,846.1 L579.2,846.2 L580.1,845.8 L580.9,845.3 L581.7,844.6 L582.6,845.0 L583.4,845.7 L584.2,845.5 L585.1,845.5 L585.9,845.0 L586.7,845.2 L587.6,845.1 L588.4,844.6 L589.2,844.5 L590.1,844.2 L590.9,844.1 L591.7,844.0 L592.6,844.2 L593.4,844.5 L594.2,844.9 L595.1,845.3 L595.9,844.7 L596.7,843.6 L597.6,843.9 L598.4,844.2 L599.2,844.1 L600.1,844.2 L600.9,844.0 L601.7,843.7 L602.6,842.8 L603.4,843.3 L604.2,843.5 L605.1,843.0 L605.9,843.0 L606.7,843.2 L607.6,843.8 L608.4,844.0 L609.2,843.7 L610.1,843.4 L610.9,843.5 L611.7,843.7 L612.6,843.8 L613.4,844.2 L614.2,843.0 L615.1,842.1 L615.9,842.7 L616.7,843.2 L617.5,843.0 L618.4,841.8 L619.2,842.0 L620.0,842.3 L620.9,841.4 L621.7,841.1 L622.5,841.0 L623.4,840.4 L624.2,840.0 L625.0,839.2 L625.9,839.3 L626.7,838.0 L627.5,836.8 L628.4,836.7 L629.2,834.9 L630.0,832.9 L630.9,831.3 L631.7,829.4 L632.5,826.3 L633.4,823.0 L634.2,820.5 L635.0,817.2 L635.9,812.1 L636.7,808.8 L637.5,805.2 L638.4,800.9 L639.2,797.4 L640.0,792.9 L640.9,788.3 L641.7,785.7 L642.5,784.0 L643.4,782.0 L644.2,780.2 L645.0,779.5 L645.9,780.1 L646.7,780.6 L647.5,782.2 L648.4,785.1 L649.2,788.6 L650.0,791.6 L650.9,796.1 L651.7,801.5 L652.5,805.2 L653.4,809.1 L654.2,812.8 L655.0,816.8 L655.9,820.8 L656.7,823.8 L657.5,826.2 L658.4,828.5 L659.2,831.7 L660.0,833.9 L660.9,836.1 L661.7,837.3 L662.5,837.8 L663.4,840.1 L664.2,840.9 L665.0,841.1 L665.9,841.8 L666.7,843.2 L667.5,844.0 L668.4,844.2 L669.2,844.5 L670.0,843.7 L670.9,844.1 L671.7,845.1 L672.5,845.2 L673.4,845.2 L674.2,846.1 L675.0,847.2 L675.9,847.6 L676.7,847.9 L677.5,847.2 L678.3,846.4 L679.2,846.6 L680.0,846.9 L680.8,847.1 L681.7,847.5 L682.5,846.9 L683.3,846.7 L684.2,846.9 L685.0,846.6 L685.8,847.3 L686.7,847.4 L687.5,847.1 L688.3,847.0 L689.2,847.1 L690.0,847.2 L690.8,847.3 L691.7,847.5 L692.5,846.7 L693.3,846.8 L694.2,847.6 L695.0,848.2 L695.8,847.8 L696.7,846.5 L697.5,846.8 L698.3,847.3 L699.2,847.8 L700.0,848.0 L700.8,847.2 L701.7,847.1 L702.5,847.6 L703.3,846.8 L704.2,847.2 L705.0,848.6 L705.8,848.4 L706.7,847.7 L707.5,847.6 L708.3,848.3 L709.2,848.0 L710.0,847.7 L710.8,848.2 L711.7,848.4 L712.5,848.4 L713.3,848.6 L714.2,848.4 L715.0,848.1 L715.8,848.2 L716.7,848.6 L717.5,848.1 L718.3,848.6 L719.2,848.7 L720.0,848.9 L720.8,849.5 L721.7,848.6 L722.5,848.1 L723.3,848.2 L724.2,847.9 L725.0,847.8 L725.8,847.8 L726.7,848.2 L727.5,849.1 L728.3,848.5 L729.2,848.4 L730.0,848.6 L730.8,848.6 L731.7,848.1 L732.5,847.7 L733.3,847.9 L734.2,848.0 L735.0,848.2 L735.8,848.1 L736.6,848.8 L737.5,849.3 L738.3,848.7 L739.1,848.1 L740.0,848.1 L740.8,848.7 L741.6,848.8 L742.5,848.6 L743.3,848.6 L744.1,848.5 L745.0,849.0 L745.8,849.5 L746.6,849.3 L747.5,849.5 L748.3,849.2 L749.1,848.5 L750.0,848.6 L750.8,849.1 L751.6,849.0 L752.5,848.7 L753.3,849.1 L754.1,849.0 L755.0,848.3 L755.8,847.9 L756.6,848.5 L757.5,849.3 L758.3,849.5 L759.1,848.5 L760.0,847.5 L760.8,848.3 L761.6,848.9 L762.5,848.5 L763.3,848.8 L764.1,848.4 L765.0,847.9 L765.8,848.2 L766.6,848.4 L767.5,848.6 L768.3,848.4 L769.1,848.0 L770.0,847.9 L770.8,847.9 L771.6,847.8 L772.5,848.2 L773.3,848.2 L774.1,849.2 L775.0,849.7 L775.8,848.6 L776.6,848.3 L777.5,848.7 L778.3,848.8 L779.1,849.4 L780.0,849.0 L780.8,848.2 L781.6,848.5 L782.5,848.3 L783.3,848.6 L784.1,848.5 L785.0,848.1 L785.8,849.0 L786.6,849.5 L787.5,849.4 L788.3,849.5 L789.1,850.1 L790.0,850.5 L790.8,849.3 L791.6,848.6 L792.5,849.0 L793.3,849.5 L794.1,849.2 L795.0,848.6 L795.8,849.5 L796.6,849.2 L797.4,848.2 L798.3,848.5 L799.1,848.8 L799.9,848.6 L800.8,848.7 L801.6,848.9 L802.4,849.0 L803.3,848.9 L804.1,848.8 L804.9,849.2 L805.8,848.9 L806.6,848.9 L807.4,849.2 L808.3,848.8 L809.1,848.6 L809.9,848.2 L810.8,848.7 L811.6,849.4 L812.4,849.0 L813.3,849.2 L814.1,849.3 L814.9,848.8 L815.8,849.2 L816.6,848.9 L817.4,848.9 L818.3,849.9 L819.1,849.8 L819.9,849.2 L820.8,848.2 L821.6,848.3 L822.4,848.3 L823.3,848.3 L824.1,848.4 L824.9,848.3 L825.8,848.7 L826.6,848.1 L827.4,847.9 L828.3,848.4 L829.1,849.0 L829.9,849.4 L830.8,849.4 L831.6,849.4 L832.4,849.7 L833.3,849.6 L834.1,849.5 L834.9,850.3 L835.8,849.5 L836.6,849.5 L837.4,849.8 L838.3,849.1 L839.1,848.4 L839.9,848.7 L840.8,849.9 L841.6,849.4 L842.4,848.8 L843.3,848.8 L844.1,848.2 L844.9,848.5 L845.8,848.0 L846.6,847.8 L847.4,848.6 L848.3,848.5 L849.1,848.5 L849.9,849.2 L850.8,848.7 L851.6,848.3 L852.4,849.0 L853.3,848.8 L854.1,848.0 L854.9,848.1 L855.8,848.3 L856.6,849.0 L857.4,849.4 L858.2,848.3 L859.1,848.2 L859.9,847.9 L860.7,847.6 L861.6,848.1 L862.4,848.1 L863.2,847.8 L864.1,848.1 L864.9,847.8 L865.7,847.9 L866.6,848.7 L867.4,848.6 L868.2,848.7 L869.1,848.2 L869.9,848.3 L870.7,848.2 L871.6,847.7 L872.4,848.4 L873.2,848.6 L874.1,848.2 L874.9,848.0 L875.7,847.5 L876.6,846.4 L877.4,846.6 L878.2,847.6 L879.1,847.1 L879.9,845.8 L880.7,844.8 L881.6,844.2 L882.4,842.1 L883.2,838.1 L884.1,833.7 L884.9,827.4 L885.7,817.8 L886.6,804.4 L887.4,787.9 L888.2,770.6 L889.1,755.0 L889.9,744.4 L890.7,741.6 L891.6,747.3 L892.4,761.1 L893.2,777.8 L894.1,794.1 L894.9,808.6 L895.7,820.9 L896.6,830.6 L897.4,836.3 L898.2,840.6 L899.1,843.4 L899.9,845.1 L900.7,845.7 L901.6,845.2 L902.4,846.2 L903.2,846.3 L904.1,846.7 L904.9,847.5 L905.7,847.2 L906.6,846.7 L907.4,846.9 L908.2,847.3 L909.1,847.7 L909.9,847.4 L910.7,847.7 L911.6,849.0 L912.4,848.8 L913.2,848.4 L914.1,849.0 L914.9,848.5 L915.7,848.1 L916.5,849.1 L917.4,849.4 L918.2,849.5 L919.0,849.1 L919.9,848.8 L920.7,848.8 L921.5,848.7 L922.4,849.8 L923.2,848.9 L924.0,849.0 L924.9,849.3 L925.7,848.8 L926.5,849.2 L927.4,849.5 L928.2,849.5 L929.0,849.5 L929.9,849.3 L930.7,848.9 L931.5,850.1 L932.4,849.4 L933.2,848.0 L934.0,848.8 L934.9,849.8 L935.7,849.8 L936.5,849.4 L937.4,849.5 L938.2,849.4 L939.0,848.8 L939.9,848.9 L940.7,849.1 L941.5,849.9 L942.4,850.3 L943.2,849.2 L944.0,849.1 L944.9,848.9 L945.7,848.6 L946.5,849.4 L947.4,849.9 L948.2,849.3 L949.0,849.4 L949.9,848.9 L950.7,848.6 L951.5,849.0 L952.4,849.3 L953.2,850.2 L954.0,850.2 L954.9,849.7 L955.7,850.1 L956.5,850.5 L957.4,850.1 L958.2,850.1 L959.0,849.4 L959.9,849.7 L960.7,850.4 L961.5,850.5 L962.4,850.1 L963.2,849.8 L964.0,849.7 L964.9,849.1 L965.7,849.1 L966.5,849.7 L967.4,849.3 L968.2,849.0 L969.0,849.6 L969.9,850.4 L970.7,850.5 L971.5,849.9 L972.4,849.7 L973.2,849.2 L974.0,849.3 L974.9,850.3 L975.7,850.4 L976.5,849.2 L977.3,849.8 L978.2,850.5 L979.0,849.9 L979.8,849.8 L980.7,850.9 L981.5,850.9 L982.3,849.4 L983.2,849.1 L984.0,850.4 L984.8,851.1 L985.7,850.3 L986.5,850.1 L987.3,850.2 L988.2,850.4 L989.0,850.1 L989.8,849.8 L990.7,850.1 L991.5,850.7 L992.3,849.4 L993.2,849.2 L994.0,849.7 L994.8,849.2 L995.7,849.8 L996.5,850.0 L997.3,850.2 L998.2,850.7 L999.0,850.7 L999.8,850.4 L1000.7,850.7 L1001.5,851.0 L1002.3,850.8 L1003.2,849.5 L1004.0,849.6 L1004.8,850.7 L1005.7,850.8 L1006.5,851.5 L1007.3,851.1 L1008.2,850.1 L1009.0,850.1 L1009.8,850.5 L1010.7,850.6 L1011.5,850.7 L1012.3,850.3 L1013.2,849.3 L1014.0,849.1 L1014.8,850.3 L1015.7,850.9 L1016.5,850.7 L1017.3,850.1 L1018.2,849.5 L1019.0,849.7 L1019.8,850.7 L1020.7,850.8 L1021.5,851.0 L1022.3,851.0 L1023.2,850.4 L1024.0,850.8 L1024.8,850.6 L1025.7,850.1 L1026.5,850.5 L1027.3,850.4 L1028.2,850.2 L1029.0,850.2 L1029.8,850.0 L1030.7,850.2 L1031.5,850.4 L1032.3,851.1 L1033.2,851.2 L1034.0,851.3 L1034.8,851.7 L1035.7,850.7 L1036.5,850.7 L1037.3,850.9 L1038.1,850.8 L1039.0,850.1 L1039.8,850.2 L1040.6,850.2 L1041.5,850.6 L1042.3,851.8 L1043.1,851.5 L1044.0,850.7 L1044.8,849.6 L1045.6,849.8 L1046.5,851.2 L1047.3,851.3 L1048.1,851.4 L1049.0,851.7 L1049.8,851.7 L1050.6,851.8 L1051.5,851.2 L1052.3,850.5 L1053.1,850.2 L1054.0,851.2 L1054.8,851.7 L1055.6,851.1 L1056.5,850.6 L1057.3,850.3 L1058.1,851.0 L1059.0,851.1 L1059.8,850.9 L1060.6,851.6 L1061.5,852.4 L1062.3,852.8 L1063.1,852.2 L1064.0,851.0 L1064.8,850.9 L1065.6,851.2 L1066.5,851.7 L1067.3,851.3 L1068.1,851.2 L1069.0,850.9 L1069.8,850.1 L1070.6,850.5 L1071.5,851.1 L1072.3,851.0 L1073.1,850.6 L1074.0,851.5 L1074.8,851.0 L1075.6,850.6 L1076.5,851.1 L1077.3,851.0 L1078.1,851.7 L1079.0,851.4 L1079.8,851.0 L1080.6,851.2 L1081.5,851.5 L1082.3,851.4 L1083.1,850.9 L1084.0,852.1 L1084.8,853.0 L1085.6,852.2 L1086.5,851.7 L1087.3,852.4 L1088.1,852.2 L1089.0,851.9 L1089.8,851.8 L1090.6,851.5 L1091.5,851.8 L1092.3,852.0 L1093.1,852.4 L1094.0,853.0 L1094.8,852.8 L1095.6,851.6 L1096.5,851.3 L1097.3,851.6 L1098.1,851.7 L1098.9,851.3 L1099.8,851.7 L1100.6,851.4 L1101.4,850.7 L1102.3,851.5 L1103.1,851.5 L1103.9,850.6 L1104.8,851.4 L1105.6,852.3 L1106.4,852.2 L1107.3,852.3 L1108.1,851.6 L1108.9,851.7 L1109.8,852.4 L1110.6,852.0 L1111.4,851.8 L1112.3,852.2 L1113.1,851.4 L1113.9,850.8 L1114.8,851.2 L1115.6,850.6 L1116.4,850.0 L1117.3,850.7 L1118.1,850.7 L1118.9,850.7 L1119.8,851.0 L1120.6,850.4 L1121.4,850.6 L1122.3,850.3 L1123.1,850.2 L1123.9,850.7 L1124.8,849.6 L1125.6,850.2 L1126.4,851.2 L1127.3,850.5 L1128.1,850.3 L1128.9,850.5 L1129.8,849.7 L1130.6,849.4 L1131.4,850.2 L1132.3,850.7 L1133.1,849.8 L1133.9,849.0 L1134.8,848.4 L1135.6,848.2 L1136.4,848.8 L1137.3,848.9 L1138.1,848.5 L1138.9,848.0 L1139.8,847.8 L1140.6,848.0 L1141.4,848.4 L1142.3,848.6 L1143.1,848.5 L1143.9,848.4 L1144.8,847.8 L1145.6,848.2 L1146.4,848.2 L1147.3,847.5 L1148.1,846.6 L1148.9,846.2 L1149.8,846.1 L1150.6,846.1 L1151.4,846.6 L1152.3,846.6 L1153.1,845.5 L1153.9,845.6 L1154.8,845.2 L1155.6,844.1 L1156.4,843.8 L1157.2,842.7 L1158.1,842.1 L1158.9,841.8 L1159.7,841.4 L1160.6,841.1 L1161.4,840.6 L1162.2,839.6 L1163.1,839.3 L1163.9,839.2 L1164.7,839.1 L1165.6,839.1 L1166.4,838.1 L1167.2,838.1 L1168.1,838.2 L1168.9,838.8 L1169.7,839.0 L1170.6,838.4 L1171.4,837.8 L1172.2,837.9 L1173.1,838.4 L1173.9,838.4 L1174.7,839.1 L1175.6,839.3 L1176.4,839.4 L1177.2,840.2 L1178.1,840.2 L1178.9,840.4 L1179.7,841.0 L1180.6,841.6 L1181.4,842.0 L1182.2,842.2 L1183.1,842.9 L1183.9,843.5 L1184.7,844.3 L1185.6,844.4 L1186.4,845.3 L1187.2,845.8 L1188.1,845.6 L1188.9,846.1 L1189.7,846.5 L1190.6,847.0 L1191.4,848.0 L1192.2,848.0 L1193.1,848.2 L1193.9,849.3 L1194.7,849.1 L1195.6,848.5 L1196.4,848.7 L1197.2,848.6 L1198.1,848.7 L1198.9,849.6 L1199.7,849.6 L1200.6,849.3 L1201.4,849.0 L1202.2,849.5 L1203.1,851.0 L1203.9,850.0 L1204.7,849.4 L1205.6,850.6 L1206.4,851.1 L1207.2,850.7 L1208.1,850.1 L1208.9,850.0 L1209.7,850.3 L1210.6,850.5 L1211.4,850.9 L1212.2,852.0 L1213.1,852.8 L1213.9,851.6 L1214.7,851.3 L1215.6,851.1 L1216.4,850.8 L1217.2,851.4 L1218.0,851.4 L1218.9,851.9 L1219.7,852.3 L1220.5,853.0 L1221.4,852.8 L1222.2,851.9 L1223.0,852.2 L1223.9,852.0 L1224.7,851.8 L1225.5,852.3 L1226.4,851.6 L1227.2,851.6 L1228.0,852.2 L1228.9,852.0 L1229.7,852.3 L1230.5,852.3 L1231.4,852.5 L1232.2,852.8 L1233.0,852.9 L1233.9,852.7 L1234.7,852.3 L1235.5,852.2 L1236.4,852.1 L1237.2,851.6 L1238.0,852.2 L1238.9,852.2 L1239.7,852.2 L1240.5,852.7 L1241.4,852.5 L1242.2,853.1 L1243.0,853.8 L1243.9,853.4 L1244.7,852.8 L1245.5,852.5 L1246.4,852.3 L1247.2,852.8 L1248.0,852.2 L1248.9,852.2 L1249.7,853.5 L1250.5,853.4 L1251.4,852.6 L1252.2,853.2 L1253.0,853.9 L1253.9,853.3 L1254.7,851.9 L1255.5,852.6 L1256.4,854.0 L1257.2,853.4 L1258.0,853.2 L1258.9,852.8 L1259.7,852.5 L1260.5,852.5 L1261.4,852.6 L1262.2,853.3 L1263.0,852.7 L1263.9,851.7 L1264.7,853.1 L1265.5,853.6 L1266.4,853.2 L1267.2,853.2 L1268.0,852.6 L1268.9,853.4 L1269.7,854.0 L1270.5,853.7 L1271.4,853.1 L1272.2,853.4 L1273.0,852.7 L1273.9,852.3 L1274.7,853.7 L1275.5,853.9 L1276.4,853.8 L1277.2,853.0 L1278.0,852.7 L1278.8,853.6 L1279.7,853.3 L1280.5,853.1 L1281.3,853.9 L1282.2,854.2 L1283.0,853.4 L1283.8,852.6 L1284.7,851.8 L1285.5,852.4 L1286.3,853.2 L1287.2,852.8 L1288.0,853.3 L1288.8,853.7 L1289.7,853.1 L1290.5,852.6 L1291.3,853.6 L1292.2,853.5 L1293.0,852.6 L1293.8,853.2 L1294.7,853.2 L1295.5,852.4 L1296.3,853.1 L1297.2,853.9 L1298.0,853.8 L1298.8,853.3 L1299.7,853.4 L1300.5,853.4 L1301.3,853.1 L1302.2,853.3 L1303.0,853.9 L1303.8,853.8 L1304.7,853.5 L1305.5,854.0 L1306.3,853.8 L1307.2,853.1 L1308.0,852.4 L1308.8,852.4 L1309.7,852.8 L1310.5,853.3 L1311.3,853.5 L1312.2,853.3 L1313.0,853.8 L1313.8,853.7 L1314.7,853.5 L1315.5,852.9 L1316.3,852.6 L1317.2,853.7 L1318.0,853.7 L1318.8,852.7 L1319.7,852.2 L1320.5,852.8 L1321.3,854.0 L1322.2,853.1 L1323.0,852.8 L1323.8,852.8 L1324.7,852.0 L1325.5,851.8 L1326.3,852.2 L1327.2,852.3 L1328.0,852.5 L1328.8,852.8 L1329.7,852.6 L1330.5,852.4 L1331.3,852.7 L1332.2,852.6 L1333.0,852.2 L1333.8,852.6 L1334.7,852.2 L1335.5,852.2 L1336.3,853.2 L1337.2,853.0 L1338.0,852.7 L1338.8,853.1 L1339.6,852.8 L1340.5,852.1 L1341.3,852.3 L1342.1,851.7 L1343.0,851.7 L1343.8,852.0 L1344.6,851.8 L1345.5,852.7 L1346.3,852.8 L1347.1,851.4 L1348.0,850.9 L1348.8,851.5 L1349.6,851.9 L1350.5,851.2 L1351.3,850.7 L1352.1,851.1 L1353.0,851.0 L1353.8,851.1 L1354.6,851.8 L1355.5,851.4 L1356.3,851.0 L1357.1,850.8 L1358.0,850.5 L1358.8,850.3 L1359.6,849.8 L1360.5,849.8 L1361.3,849.6 L1362.1,849.7 L1363.0,850.1 L1363.8,849.6 L1364.6,848.9 L1365.5,848.0 L1366.3,847.4 L1367.1,847.7 L1368.0,847.5 L1368.8,847.2 L1369.6,847.1 L1370.5,847.0 L1371.3,847.1 L1372.1,846.7 L1373.0,846.4 L1373.8,846.0 L1374.6,846.0 L1375.5,845.8 L1376.3,846.1 L1377.1,846.8 L1378.0,846.1 L1378.8,845.9 L1379.6,845.6 L1380.5,845.2 L1381.3,845.6 L1382.1,845.6 L1383.0,845.7 L1383.8,845.5 L1384.6,845.3 L1385.5,846.0 L1386.3,846.3 L1387.1,846.1 L1388.0,845.8 L1388.8,845.8 L1389.6,845.6 L1390.5,845.2 L1391.3,844.8 L1392.1,845.2 L1393.0,846.1 L1393.8,846.0 L1394.6,845.7 L1395.5,845.6 L1396.3,846.1 L1397.1,846.6 L1397.9,845.3 L1398.8,845.6 L1399.6,847.1 L1400.4,846.7 L1401.3,846.0 L1402.1,846.0 L1402.9,846.1 L1403.8,845.3 L1404.6,845.1 L1405.4,846.2 L1406.3,847.2 L1407.1,847.3 L1407.9,846.5 L1408.8,846.6 L1409.6,846.6 L1410.4,846.4 L1411.3,847.2 L1412.1,847.8 L1412.9,848.3 L1413.8,848.3 L1414.6,848.2 L1415.4,849.3 L1416.3,850.2 L1417.1,851.4 L1417.9,852.5 L1418.8,852.2 L1419.6,852.9 L1420.4,853.3 L1421.3,853.3 L1422.1,854.2 L1422.9,854.2 L1423.8,853.4 L1424.6,853.0 L1425.4,853.2 L1426.3,852.6 L1427.1,852.1 L1427.9,853.5 L1428.8,853.5 L1429.6,853.0 L1430.4,852.8 L1431.3,852.3 L1432.1,853.1 L1432.9,853.2 L1433.8,853.2 L1434.6,853.0 L1435.4,852.8 L1436.3,853.7 L1437.1,854.1 L1437.9,853.5 L1438.8,853.5 L1439.6,853.7 L1440.4,853.4 L1441.3,853.3 L1442.1,853.2 L1442.9,853.5 L1443.8,854.1 L1444.6,853.4 L1445.4,853.7 L1446.3,854.2 L1447.1,853.3 L1447.9,853.3 L1448.8,853.5 L1449.6,853.7 L1450.4,853.8 L1451.3,853.3 L1452.1,852.8 L1452.9,853.4 L1453.8,853.9 L1454.6,853.4 L1455.4,853.4 L1456.3,853.9 L1457.1,854.6 L1457.9,854.3 L1458.7,853.7 L1459.6,854.2 L1460.4,854.5 L1461.2,854.4 L1462.1,853.6 L1462.9,853.2 L1463.7,853.4 L1464.6,853.7 L1465.4,854.0 L1466.2,853.9 L1467.1,854.0 L1467.9,854.3 L1468.7,854.4 L1469.6,854.5 L1470.4,854.1 L1471.2,854.3 L1472.1,854.4 L1472.9,853.7 L1473.7,853.7 L1474.6,854.0 L1475.4,853.9 L1476.2,854.0 L1477.1,854.6 L1477.9,854.7 L1478.7,854.4 L1479.6,855.0 L1480.4,854.7 L1481.2,853.9 L1482.1,853.4 L1482.9,853.5 L1483.7,854.9 L1484.6,854.8 L1485.4,853.8 L1486.2,854.5 L1487.1,854.8 L1487.9,853.7 L1488.7,854.2 L1489.6,855.3 L1490.4,855.1 L1491.2,855.2 L1492.1,855.5 L1492.9,856.0 L1493.7,855.4 L1494.6,854.7 L1495.4,854.2 L1496.2,854.2 L1497.1,854.4 L1497.9,854.4 L1498.7,855.3 L1499.6,855.2 L1500.4,854.7 L1501.2,854.1 L1502.1,854.0 L1502.9,854.7 L1503.7,855.0 L1504.6,854.7 L1505.4,854.2 L1506.2,853.9 L1507.1,854.9 L1507.9,855.6 L1508.7,855.0 L1509.6,854.7 L1510.4,854.8 L1511.2,854.3 L1512.1,854.5 L1512.9,854.7 L1513.7,854.3 L1514.6,854.5 L1515.4,855.2 L1516.2,855.4 L1517.1,855.1 L1517.9,855.0 L1518.7,854.2 L1519.5,854.1 L1520.4,854.3 L1521.2,855.0 L1522.0,856.2 L1522.9,854.6 L1523.7,853.8 L1524.5,855.0 L1525.4,855.3 L1526.2,854.2 L1527.0,854.1 L1527.9,854.8 L1528.7,854.5 L1529.5,854.0 L1530.4,854.4 L1531.2,855.5 L1532.0,855.9 L1532.9,855.8 L1533.7,856.1 L1534.5,855.9 L1535.4,855.0 L1536.2,854.5 L1537.0,854.4 L1537.9,854.5 L1538.7,854.4 L1539.5,854.7 L1540.4,855.2 L1541.2,855.0 L1542.0,854.6 L1542.9,854.9 L1543.7,855.4 L1544.5,855.2 L1545.4,854.7 L1546.2,854.2 L1547.0,855.1 L1547.9,855.7 L1548.7,855.2 L1549.5,855.2 L1550.4,855.2 L1551.2,855.7 L1552.0,855.1 L1552.9,854.8 L1553.7,854.5 L1554.5,853.9 L1555.4,854.4 L1556.2,855.3 L1557.0,856.1 L1557.9,855.6 L1558.7,854.7 L1559.5,854.6 L1560.4,855.2 L1561.2,855.6 L1562.0,855.0 L1562.9,854.6 L1563.7,855.1 L1564.5,855.5 L1565.4,855.1 L1566.2,855.1 L1567.0,854.7 L1567.9,854.7 L1568.7,854.2 L1569.5,853.4 L1570.4,854.4 L1571.2,855.2 L1572.0,855.3 L1572.9,855.1 L1573.7,854.8 L1574.5,855.3 L1575.4,855.0 L1576.2,854.4 L1577.0,854.8 L1577.9,854.9 L1578.7,854.3 L1579.5,855.2 L1580.3,855.9 L1581.2,855.1 L1582.0,855.1 L1582.8,855.1 L1583.7,854.2 L1584.5,854.1 L1585.3,855.5 L1586.2,856.0 L1587.0,855.3 L1587.8,855.7 L1588.7,855.6 L1589.5,855.3 L1590.3,855.9 L1591.2,855.4 L1592.0,854.8 L1592.8,855.7 L1593.7,856.3 L1594.5,855.8 L1595.3,854.9 L1596.2,855.0 L1597.0,855.4 L1597.8,855.3 L1598.7,855.2 L1599.5,855.1 L1600.3,855.2 L1601.2,855.1 L1602.0,855.3 L1602.8,855.2 L1603.7,855.8 L1604.5,855.8 L1605.3,855.5 L1606.2,855.7 L1607.0,855.2 L1607.8,855.4 L1608.7,855.8 L1609.5,855.3 L1610.3,855.8 L1611.2,856.3 L1612.0,855.9 L1612.8,855.6 L1613.7,855.0 L1614.5,855.6 L1615.3,855.9 L1616.2,855.3 L1617.0,855.9 L1617.8,855.9 L1618.7,855.8 L1619.5,856.3 L1620.3,856.3 L1621.2,855.6 L1622.0,855.8 L1622.8,856.3 L1623.7,856.4 L1624.5,857.1 L1625.3,856.7 L1626.2,855.4 L1627.0,855.5 L1627.8,856.1 L1628.7,855.4 L1629.5,855.6 L1630.3,855.9 L1631.2,855.7 L1632.0,855.5 L1632.8,855.0 L1633.7,855.5 L1634.5,855.5 L1635.3,855.3 L1636.2,855.8 L1637.0,855.6 L1637.8,855.4 L1638.6,855.8 L1639.5,856.0 L1640.3,855.8 L1641.1,855.6 L1642.0,855.9 L1642.8,856.4 L1643.6,855.5 L1644.5,855.3 L1645.3,856.4 L1646.1,856.6 L1647.0,855.9 L1647.8,856.4 L1648.6,855.7 L1649.5,855.1 L1650.3,855.9 L1651.1,855.8 L1652.0,855.4 L1652.8,855.2 L1653.6,856.1 L1654.5,856.2 L1655.3,855.6 L1656.1,855.6 L1657.0,855.8 L1657.8,855.9 L1658.6,855.9 L1659.5,856.1 L1660.3,856.4 L1661.1,856.5 L1662.0,856.8 L1662.8,856.1 L1663.6,856.0 L1664.5,855.8 L1665.3,855.3 L1666.1,856.3 L1667.0,856.1 L1667.8,855.9 L1668.6,856.1 L1669.5,855.4 L1670.3,855.9 L1671.1,856.4 L1672.0,856.0 L1672.8,855.7 L1673.6,855.7 L1674.5,856.8 L1675.3,857.0 L1676.1,856.5 L1677.0,856.1 L1677.8,856.0 L1678.6,856.3 L1679.5,856.0 L1680.3,855.9 L1681.1,856.6 L1682.0,857.2 L1682.8,856.5 L1683.6,855.0 L1684.5,855.2 L1685.3,855.8 L1686.1,855.4 L1687.0,855.9 L1687.8,855.5 L1688.6,855.6 L1689.5,856.4 L1690.3,856.4 L1691.1,856.4 L1692.0,855.3 L1692.8,855.0 L1693.6,856.4 L1694.5,856.4 L1695.3,855.8 L1696.1,855.8 L1697.0,855.8 L1697.8,856.2 L1698.6,856.4 L1699.4,856.0 L1700.3,855.9 L1701.1,856.3 L1701.9,856.1 L1702.8,854.9 L1703.6,855.4 L1704.4,855.6 L1705.3,855.2 L1706.1,855.6 L1706.9,855.5 L1707.8,856.3 L1708.6,856.3 L1709.4,855.8 L1710.3,855.7 L1711.1,855.1 L1711.9,855.1 L1712.8,856.0 L1713.6,856.8 L1714.4,856.2 L1715.3,856.4 L1716.1,856.0 L1716.9,856.0 L1717.8,856.1 L1718.6,854.7 L1719.4,855.1 L1720.3,855.2 L1721.1,855.3 L1721.9,856.3 L1722.8,856.8 L1723.6,857.0 L1724.4,857.0 L1725.3,856.3 L1726.1,856.2 L1726.9,856.7 L1727.8,856.2 L1728.6,856.4" fill="none" stroke="#0000f0" stroke-width="4.6" stroke-linejoin="round"/>
<path d="M104.5,1070.4 L105.3,1070.6 L106.2,1070.5 L107.0,1070.8 L107.8,1071.2 L108.7,1071.0 L109.5,1070.2 L110.3,1069.3 L111.2,1070.0 L112.0,1070.5 L112.8,1069.5 L113.7,1069.8 L114.5,1069.9 L115.3,1069.2 L116.2,1068.9 L117.0,1069.3 L117.8,1069.9 L118.7,1069.1 L119.5,1068.9 L120.3,1069.3 L121.2,1068.6 L122.0,1068.6 L122.8,1069.5 L123.7,1069.2 L124.5,1068.8 L125.3,1068.5 L126.2,1068.9 L127.0,1069.0 L127.8,1069.1 L128.7,1069.1 L129.5,1067.9 L130.3,1068.1 L131.2,1068.3 L132.0,1068.4 L132.8,1068.3 L133.7,1068.1 L134.5,1068.2 L135.3,1068.0 L136.1,1067.0 L137.0,1067.0 L137.8,1067.6 L138.6,1066.6 L139.5,1065.7 L140.3,1065.6 L141.1,1065.4 L142.0,1063.8 L142.8,1062.0 L143.6,1059.1 L144.5,1054.1 L145.3,1046.9 L146.1,1037.8 L147.0,1025.9 L147.8,1013.9 L148.6,1006.5 L149.5,1005.8 L150.3,1013.0 L151.1,1025.4 L152.0,1037.2 L152.8,1045.3 L153.6,1051.8 L154.5,1057.3 L155.3,1059.9 L156.1,1061.0 L157.0,1061.8 L157.8,1062.3 L158.6,1062.7 L159.5,1063.1 L160.3,1062.6 L161.1,1061.9 L162.0,1061.8 L162.8,1061.0 L163.6,1060.4 L164.5,1059.9 L165.3,1059.0 L166.1,1058.3 L167.0,1057.1 L167.8,1056.4 L168.6,1055.2 L169.5,1053.1 L170.3,1051.3 L171.1,1049.2 L172.0,1046.4 L172.8,1042.7 L173.6,1038.8 L174.5,1033.9 L175.3,1027.6 L176.1,1018.9 L177.0,1007.2 L177.8,991.1 L178.6,969.0 L179.5,937.3 L180.3,892.2 L181.1,827.0 L182.0,739.5 L182.8,649.6 L183.6,607.7 L184.5,649.9 L185.3,739.7 L186.1,827.0 L187.0,892.2 L187.8,936.5 L188.6,968.1 L189.5,990.9 L190.3,1006.8 L191.1,1017.8 L192.0,1026.2 L192.8,1033.3 L193.6,1038.8 L194.5,1043.1 L195.3,1045.9 L196.1,1048.1 L196.9,1050.6 L197.8,1052.5 L198.6,1054.4 L199.4,1056.1 L200.3,1056.9 L201.1,1058.4 L201.9,1059.8 L202.8,1059.7 L203.6,1059.5 L204.4,1060.2 L205.3,1061.1 L206.1,1061.1 L206.9,1061.7 L207.8,1062.0 L208.6,1062.2 L209.4,1063.7 L210.3,1063.5 L211.1,1062.4 L211.9,1063.0 L212.8,1064.1 L213.6,1064.5 L214.4,1063.8 L215.3,1063.5 L216.1,1064.0 L216.9,1063.9 L217.8,1063.1 L218.6,1062.2 L219.4,1061.4 L220.3,1060.4 L221.1,1058.7 L221.9,1056.4 L222.8,1054.0 L223.6,1050.8 L224.4,1048.5 L225.3,1046.0 L226.1,1043.5 L226.9,1043.3 L227.8,1043.9 L228.6,1045.8 L229.4,1048.4 L230.3,1050.2 L231.1,1052.5 L231.9,1055.8 L232.8,1058.5 L233.6,1059.8 L234.4,1060.1 L235.3,1063.0 L236.1,1065.1 L236.9,1063.8 L237.8,1063.7 L238.6,1064.2 L239.4,1065.3 L240.3,1066.4 L241.1,1066.2 L241.9,1065.5 L242.8,1065.8 L243.6,1066.3 L244.4,1065.8 L245.3,1066.4 L246.1,1066.1 L246.9,1065.2 L247.8,1065.9 L248.6,1067.2 L249.4,1066.7 L250.3,1066.3 L251.1,1066.7 L251.9,1066.3 L252.8,1065.9 L253.6,1066.0 L254.4,1065.9 L255.2,1065.8 L256.1,1066.2 L256.9,1065.8 L257.7,1066.0 L258.6,1066.6 L259.4,1066.1 L260.2,1065.6 L261.1,1065.7 L261.9,1065.7 L262.7,1065.5 L263.6,1065.6 L264.4,1065.2 L265.2,1065.4 L266.1,1066.6 L266.9,1066.7 L267.7,1065.9 L268.6,1066.2 L269.4,1065.8 L270.2,1065.5 L271.1,1065.9 L271.9,1065.7 L272.7,1065.7 L273.6,1064.8 L274.4,1063.8 L275.2,1064.0 L276.1,1064.4 L276.9,1064.4 L277.7,1065.0 L278.6,1065.6 L279.4,1064.6 L280.2,1063.9 L281.1,1063.6 L281.9,1063.0 L282.7,1063.1 L283.6,1063.0 L284.4,1062.0 L285.2,1061.8 L286.1,1061.4 L286.9,1059.9 L287.7,1058.5 L288.6,1055.1 L289.4,1050.9 L290.2,1046.0 L291.1,1039.4 L291.9,1031.0 L292.7,1020.6 L293.6,1008.5 L294.4,994.2 L295.2,978.8 L296.1,963.7 L296.9,950.0 L297.7,939.8 L298.6,933.5 L299.4,932.5 L300.2,937.2 L301.1,946.9 L301.9,959.5 L302.7,973.9 L303.6,989.7 L304.4,1003.6 L305.2,1015.7 L306.1,1025.9 L306.9,1033.2 L307.7,1037.9 L308.6,1040.3 L309.4,1040.6 L310.2,1039.1 L311.1,1037.5 L311.9,1035.8 L312.7,1033.3 L313.6,1030.5 L314.4,1029.1 L315.2,1029.5 L316.0,1030.8 L316.9,1033.6 L317.7,1037.5 L318.5,1042.3 L319.4,1046.7 L320.2,1050.4 L321.0,1053.6 L321.9,1056.4 L322.7,1058.1 L323.5,1059.1 L324.4,1059.9 L325.2,1059.5 L326.0,1058.8 L326.9,1058.3 L327.7,1057.9 L328.5,1057.2 L329.4,1057.4 L330.2,1057.5 L331.0,1057.5 L331.9,1059.2 L332.7,1061.3 L333.5,1062.6 L334.4,1063.7 L335.2,1064.7 L336.0,1065.3 L336.9,1065.4 L337.7,1065.6 L338.5,1066.0 L339.4,1066.7 L340.2,1066.1 L341.0,1066.1 L341.9,1066.9 L342.7,1066.5 L343.5,1065.5 L344.4,1066.1 L345.2,1067.1 L346.0,1066.7 L346.9,1066.6 L347.7,1067.0 L348.5,1066.6 L349.4,1067.0 L350.2,1067.6 L351.0,1066.8 L351.9,1066.9 L352.7,1066.7 L353.5,1066.4 L354.4,1067.5 L355.2,1067.6 L356.0,1066.7 L356.9,1066.5 L357.7,1066.9 L358.5,1067.7 L359.4,1067.2 L360.2,1066.5 L361.0,1066.9 L361.9,1067.1 L362.7,1066.7 L363.5,1066.4 L364.4,1066.8 L365.2,1067.7 L366.0,1068.1 L366.9,1067.8 L367.7,1067.9 L368.5,1066.9 L369.4,1066.2 L370.2,1066.7 L371.0,1066.5 L371.9,1066.4 L372.7,1067.3 L373.5,1067.1 L374.4,1066.6 L375.2,1066.8 L376.0,1067.3 L376.8,1067.1 L377.7,1066.4 L378.5,1065.6 L379.3,1066.0 L380.2,1066.5 L381.0,1066.8 L381.8,1067.5 L382.7,1066.6 L383.5,1065.9 L384.3,1066.2 L385.2,1066.7 L386.0,1066.4 L386.8,1066.0 L387.7,1065.3 L388.5,1064.9 L389.3,1063.0 L390.2,1060.4 L391.0,1058.8 L391.8,1055.8 L392.7,1051.6 L393.5,1046.2 L394.3,1041.0 L395.2,1035.7 L396.0,1030.7 L396.8,1026.3 L397.7,1022.9 L398.5,1022.7 L399.3,1024.5 L400.2,1027.9 L401.0,1033.2 L401.8,1039.0 L402.7,1043.7 L403.5,1048.2 L404.3,1052.3 L405.2,1056.1 L406.0,1059.8 L406.8,1061.8 L407.7,1063.1 L408.5,1064.3 L409.3,1065.6 L410.2,1066.4 L411.0,1066.5 L411.8,1066.4 L412.7,1067.2 L413.5,1067.7 L414.3,1066.6 L415.2,1066.5 L416.0,1067.1 L416.8,1066.6 L417.7,1067.0 L418.5,1067.3 L419.3,1066.9 L420.2,1066.9 L421.0,1066.8 L421.8,1066.8 L422.7,1066.3 L423.5,1066.9 L424.3,1067.7 L425.2,1067.2 L426.0,1066.9 L426.8,1067.2 L427.7,1067.5 L428.5,1067.5 L429.3,1067.6 L430.2,1067.6 L431.0,1067.2 L431.8,1066.3 L432.7,1066.7 L433.5,1067.0 L434.3,1066.6 L435.2,1067.3 L436.0,1067.2 L436.8,1066.0 L437.6,1066.2 L438.5,1066.5 L439.3,1065.5 L440.1,1065.3 L441.0,1066.2 L441.8,1065.5 L442.6,1063.8 L443.5,1063.4 L444.3,1063.7 L445.1,1062.4 L446.0,1062.2 L446.8,1061.9 L447.6,1059.8 L448.5,1059.0 L449.3,1058.3 L450.1,1056.3 L451.0,1054.9 L451.8,1054.4 L452.6,1052.2 L453.5,1050.3 L454.3,1048.7 L455.1,1046.2 L456.0,1044.7 L456.8,1042.9 L457.6,1040.8 L458.5,1040.1 L459.3,1039.0 L460.1,1038.3 L461.0,1037.2 L461.8,1035.9 L462.6,1036.4 L463.5,1036.6 L464.3,1036.8 L465.1,1038.3 L466.0,1040.2 L466.8,1041.4 L467.6,1042.0 L468.5,1043.5 L469.3,1045.4 L470.1,1046.7 L471.0,1047.6 L471.8,1050.4 L472.6,1052.4 L473.5,1052.5 L474.3,1055.1 L475.1,1057.1 L476.0,1057.9 L476.8,1059.5 L477.6,1060.2 L478.5,1060.6 L479.3,1061.7 L480.1,1061.2 L481.0,1061.1 L481.8,1061.5 L482.6,1061.8 L483.5,1061.4 L484.3,1060.3 L485.1,1060.1 L486.0,1059.7 L486.8,1059.1 L487.6,1058.3 L488.5,1056.0 L489.3,1054.4 L490.1,1052.7 L491.0,1050.6 L491.8,1049.5 L492.6,1046.8 L493.5,1043.7 L494.3,1041.3 L495.1,1038.8 L495.9,1036.8 L496.8,1033.4 L497.6,1031.0 L498.4,1030.8 L499.3,1029.7 L500.1,1028.8 L500.9,1028.9 L501.8,1029.0 L502.6,1029.9 L503.4,1031.8 L504.3,1034.1 L505.1,1036.4 L505.9,1038.8 L506.8,1042.0 L507.6,1044.8 L508.4,1046.8 L509.3,1049.7 L510.1,1052.5 L510.9,1054.6 L511.8,1056.4 L512.6,1057.2 L513.4,1059.2 L514.3,1060.5 L515.1,1061.4 L515.9,1063.0 L516.8,1063.6 L517.6,1064.1 L518.4,1064.7 L519.3,1063.9 L520.1,1065.1 L520.9,1066.9 L521.8,1066.5 L522.6,1066.6 L523.4,1066.3 L524.3,1066.2 L525.1,1067.1 L525.9,1067.7 L526.8,1067.4 L527.6,1067.4 L528.4,1067.9 L529.3,1067.8 L530.1,1067.4 L530.9,1067.3 L531.8,1067.5 L532.6,1068.0 L533.4,1068.1 L534.3,1068.1 L535.1,1068.7 L535.9,1067.9 L536.8,1067.5 L537.6,1068.2 L538.4,1067.8 L539.3,1066.8 L540.1,1067.3 L540.9,1067.9 L541.8,1067.8 L542.6,1068.2 L543.4,1068.4 L544.3,1067.4 L545.1,1067.1 L545.9,1068.5 L546.8,1069.1 L547.6,1068.6 L548.4,1068.3 L549.3,1068.5 L550.1,1068.5 L550.9,1068.0 L551.8,1067.8 L552.6,1068.3 L553.4,1068.4 L554.3,1068.6 L555.1,1068.3 L555.9,1068.0 L556.7,1069.1 L557.6,1069.4 L558.4,1068.8 L559.2,1068.9 L560.1,1069.5 L560.9,1069.4 L561.7,1068.7 L562.6,1068.5 L563.4,1068.6 L564.2,1067.9 L565.1,1067.6 L565.9,1068.0 L566.7,1068.1 L567.6,1068.5 L568.4,1068.7 L569.2,1068.0 L570.1,1067.5 L570.9,1067.2 L571.7,1067.5 L572.6,1068.4 L573.4,1067.7 L574.2,1066.7 L575.1,1067.0 L575.9,1067.4 L576.7,1067.5 L577.6,1066.9 L578.4,1066.2 L579.2,1066.1 L580.1,1065.3 L580.9,1064.8 L581.7,1065.3 L582.6,1065.5 L583.4,1065.3 L584.2,1065.8 L585.1,1065.5 L585.9,1064.7 L586.7,1064.4 L587.6,1064.5 L588.4,1064.8 L589.2,1064.3 L590.1,1063.7 L590.9,1064.3 L591.7,1064.1 L592.6,1064.0 L593.4,1063.9 L594.2,1062.9 L595.1,1063.7 L595.9,1063.1 L596.7,1062.7 L597.6,1063.7 L598.4,1063.6 L599.2,1063.7 L600.1,1063.0 L600.9,1063.0 L601.7,1063.6 L602.6,1062.6 L603.4,1062.4 L604.2,1063.3 L605.1,1062.4 L605.9,1062.2 L606.7,1063.5 L607.6,1063.1 L608.4,1062.4 L609.2,1062.6 L610.1,1063.2 L610.9,1062.8 L611.7,1061.3 L612.6,1061.8 L613.4,1062.3 L614.2,1061.6 L615.1,1061.8 L615.9,1062.2 L616.7,1060.4 L617.5,1060.8 L618.4,1061.7 L619.2,1061.4 L620.0,1061.2 L620.9,1060.8 L621.7,1061.2 L622.5,1060.5 L623.4,1060.1 L624.2,1059.8 L625.0,1058.8 L625.9,1057.9 L626.7,1056.7 L627.5,1055.7 L628.4,1054.9 L629.2,1052.7 L630.0,1051.1 L630.9,1050.0 L631.7,1047.7 L632.5,1043.9 L633.4,1041.1 L634.2,1039.4 L635.0,1035.1 L635.9,1031.4 L636.7,1029.0 L637.5,1024.6 L638.4,1019.6 L639.2,1014.9 L640.0,1010.8 L640.9,1008.1 L641.7,1005.4 L642.5,1002.5 L643.4,999.8 L644.2,998.3 L645.0,998.2 L645.9,997.8 L646.7,998.7 L647.5,1001.4 L648.4,1004.3 L649.2,1007.3 L650.0,1009.9 L650.9,1014.2 L651.7,1019.7 L652.5,1022.9 L653.4,1026.9 L654.2,1031.6 L655.0,1035.6 L655.9,1039.1 L656.7,1041.5 L657.5,1044.0 L658.4,1047.6 L659.2,1051.1 L660.0,1052.9 L660.9,1054.1 L661.7,1056.2 L662.5,1058.0 L663.4,1059.1 L664.2,1060.3 L665.0,1061.6 L665.9,1062.4 L666.7,1063.1 L667.5,1063.2 L668.4,1063.5 L669.2,1064.2 L670.0,1063.9 L670.9,1064.1 L671.7,1065.1 L672.5,1065.4 L673.4,1065.0 L674.2,1064.9 L675.0,1064.7 L675.9,1065.2 L676.7,1065.9 L677.5,1066.1 L678.3,1065.8 L679.2,1065.8 L680.0,1066.2 L680.8,1065.9 L681.7,1065.4 L682.5,1065.4 L683.3,1065.8 L684.2,1066.4 L685.0,1067.3 L685.8,1067.1 L686.7,1067.2 L687.5,1066.7 L688.3,1065.7 L689.2,1066.9 L690.0,1067.4 L690.8,1067.6 L691.7,1067.3 L692.5,1067.1 L693.3,1066.5 L694.2,1066.5 L695.0,1067.2 L695.8,1066.7 L696.7,1066.8 L697.5,1067.3 L698.3,1067.2 L699.2,1066.5 L700.0,1066.4 L700.8,1066.6 L701.7,1066.7 L702.5,1067.5 L703.3,1067.5 L704.2,1066.5 L705.0,1067.1 L705.8,1067.6 L706.7,1066.8 L707.5,1066.9 L708.3,1067.7 L709.2,1067.8 L710.0,1067.5 L710.8,1067.8 L711.7,1067.4 L712.5,1067.4 L713.3,1067.7 L714.2,1066.8 L715.0,1066.6 L715.8,1067.4 L716.7,1068.3 L717.5,1067.9 L718.3,1067.8 L719.2,1067.2 L720.0,1067.0 L720.8,1067.4 L721.7,1067.3 L722.5,1068.1 L723.3,1068.1 L724.2,1067.3 L725.0,1067.1 L725.8,1067.0 L726.7,1066.9 L727.5,1066.8 L728.3,1067.5 L729.2,1068.0 L730.0,1067.7 L730.8,1067.6 L731.7,1067.0 L732.5,1067.2 L733.3,1067.4 L734.2,1067.1 L735.0,1067.1 L735.8,1067.7 L736.6,1068.0 L737.5,1067.3 L738.3,1067.7 L739.1,1067.9 L740.0,1067.3 L740.8,1067.3 L741.6,1067.1 L742.5,1066.4 L743.3,1067.3 L744.1,1067.5 L745.0,1066.9 L745.8,1068.1 L746.6,1068.4 L747.5,1068.1 L748.3,1067.9 L749.1,1067.5 L750.0,1067.2 L750.8,1067.0 L751.6,1067.3 L752.5,1067.7 L753.3,1067.6 L754.1,1067.2 L755.0,1067.4 L755.8,1067.8 L756.6,1067.6 L757.5,1068.3 L758.3,1068.6 L759.1,1068.0 L760.0,1067.7 L760.8,1067.5 L761.6,1067.4 L762.5,1068.0 L763.3,1067.8 L764.1,1066.5 L765.0,1067.0 L765.8,1067.8 L766.6,1068.1 L767.5,1067.9 L768.3,1067.9 L769.1,1069.2 L770.0,1069.0 L770.8,1067.9 L771.6,1068.0 L772.5,1069.1 L773.3,1068.5 L774.1,1068.0 L775.0,1068.7 L775.8,1068.3 L776.6,1067.8 L777.5,1067.3 L778.3,1067.2 L779.1,1067.5 L780.0,1067.2 L780.8,1067.6 L781.6,1068.6 L782.5,1067.8 L783.3,1067.3 L784.1,1067.8 L785.0,1067.5 L785.8,1067.6 L786.6,1067.2 L787.5,1067.6 L788.3,1068.4 L789.1,1068.1 L790.0,1067.9 L790.8,1067.9 L791.6,1068.9 L792.5,1068.4 L793.3,1067.5 L794.1,1067.5 L795.0,1067.5 L795.8,1067.4 L796.6,1067.2 L797.4,1067.1 L798.3,1067.2 L799.1,1068.0 L799.9,1067.4 L800.8,1067.4 L801.6,1068.2 L802.4,1067.6 L803.3,1067.6 L804.1,1068.2 L804.9,1068.0 L805.8,1067.6 L806.6,1067.5 L807.4,1066.8 L808.3,1067.7 L809.1,1068.9 L809.9,1067.7 L810.8,1067.4 L811.6,1068.0 L812.4,1067.3 L813.3,1066.6 L814.1,1067.3 L814.9,1067.5 L815.8,1068.3 L816.6,1069.0 L817.4,1068.2 L818.3,1067.5 L819.1,1067.2 L819.9,1068.0 L820.8,1069.4 L821.6,1069.3 L822.4,1069.1 L823.3,1068.8 L824.1,1068.2 L824.9,1068.2 L825.8,1067.5 L826.6,1067.0 L827.4,1067.8 L828.3,1068.1 L829.1,1067.7 L829.9,1068.4 L830.8,1068.4 L831.6,1068.2 L832.4,1068.6 L833.3,1067.7 L834.1,1067.9 L834.9,1068.5 L835.8,1068.5 L836.6,1069.1 L837.4,1068.5 L838.3,1068.2 L839.1,1069.3 L839.9,1069.1 L840.8,1068.7 L841.6,1069.4 L842.4,1069.1 L843.3,1067.9 L844.1,1068.7 L844.9,1069.1 L845.8,1069.0 L846.6,1068.5 L847.4,1068.0 L848.3,1068.3 L849.1,1068.6 L849.9,1069.4 L850.8,1069.2 L851.6,1068.4 L852.4,1068.4 L853.3,1068.5 L854.1,1068.9 L854.9,1069.7 L855.8,1069.0 L856.6,1068.9 L857.4,1069.4 L858.2,1069.1 L859.1,1069.1 L859.9,1069.0 L860.7,1069.1 L861.6,1068.9 L862.4,1069.0 L863.2,1068.6 L864.1,1067.5 L864.9,1067.7 L865.7,1068.4 L866.6,1068.9 L867.4,1068.5 L868.2,1068.8 L869.1,1068.8 L869.9,1068.3 L870.7,1068.4 L871.6,1067.8 L872.4,1067.7 L873.2,1068.1 L874.1,1068.1 L874.9,1067.3 L875.7,1066.9 L876.6,1067.1 L877.4,1067.6 L878.2,1067.7 L879.1,1067.0 L879.9,1065.7 L880.7,1064.7 L881.6,1063.5 L882.4,1062.0 L883.2,1058.9 L884.1,1053.4 L884.9,1044.4 L885.7,1032.0 L886.6,1016.7 L887.4,997.7 L888.2,978.2 L889.1,960.1 L889.9,947.3 L890.7,944.5 L891.6,952.6 L892.4,967.3 L893.2,986.4 L894.1,1007.1 L894.9,1024.1 L895.7,1038.0 L896.6,1048.5 L897.4,1055.7 L898.2,1060.4 L899.1,1062.8 L899.9,1064.0 L900.7,1065.3 L901.6,1066.2 L902.4,1065.9 L903.2,1067.3 L904.1,1068.4 L904.9,1067.8 L905.7,1068.1 L906.6,1067.8 L907.4,1068.1 L908.2,1068.8 L909.1,1068.5 L909.9,1068.5 L910.7,1068.7 L911.6,1069.6 L912.4,1069.5 L913.2,1069.1 L914.1,1069.1 L914.9,1068.4 L915.7,1069.3 L916.5,1069.6 L917.4,1069.0 L918.2,1070.0 L919.0,1070.1 L919.9,1069.6 L920.7,1069.8 L921.5,1069.8 L922.4,1069.3 L923.2,1069.0 L924.0,1069.4 L924.9,1069.9 L925.7,1070.0 L926.5,1070.1 L927.4,1070.5 L928.2,1070.6 L929.0,1070.3 L929.9,1070.4 L930.7,1071.1 L931.5,1070.5 L932.4,1069.8 L933.2,1070.2 L934.0,1070.8 L934.9,1070.5 L935.7,1069.7 L936.5,1069.7 L937.4,1069.6 L938.2,1069.6 L939.0,1069.8 L939.9,1069.3 L940.7,1069.2 L941.5,1070.2 L942.4,1070.7 L943.2,1070.3 L944.0,1069.7 L944.9,1070.5 L945.7,1070.5 L946.5,1070.0 L947.4,1071.0 L948.2,1071.2 L949.0,1070.1 L949.9,1069.8 L950.7,1070.1 L951.5,1070.4 L952.4,1070.2 L953.2,1069.8 L954.0,1070.1 L954.9,1070.0 L955.7,1069.2 L956.5,1068.1 L957.4,1068.6 L958.2,1069.4 L959.0,1069.5 L959.9,1070.2 L960.7,1070.1 L961.5,1070.0 L962.4,1070.1 L963.2,1070.2 L964.0,1070.4 L964.9,1069.9 L965.7,1069.9 L966.5,1070.1 L967.4,1069.8 L968.2,1069.8 L969.0,1069.8 L969.9,1070.2 L970.7,1070.3 L971.5,1070.2 L972.4,1071.1 L973.2,1070.8 L974.0,1070.3 L974.9,1069.8 L975.7,1069.3 L976.5,1069.7 L977.3,1070.2 L978.2,1070.6 L979.0,1070.1 L979.8,1070.1 L980.7,1070.3 L981.5,1070.2 L982.3,1069.8 L983.2,1070.6 L984.0,1070.5 L984.8,1070.2 L985.7,1070.8 L986.5,1070.6 L987.3,1071.0 L988.2,1070.1 L989.0,1069.2 L989.8,1070.4 L990.7,1070.5 L991.5,1069.7 L992.3,1069.6 L993.2,1069.5 L994.0,1070.2 L994.8,1071.6 L995.7,1072.3 L996.5,1071.5 L997.3,1070.8 L998.2,1070.2 L999.0,1070.3 L999.8,1070.6 L1000.7,1070.2 L1001.5,1069.9 L1002.3,1069.7 L1003.2,1070.2 L1004.0,1070.3 L1004.8,1070.3 L1005.7,1070.9 L1006.5,1070.8 L1007.3,1071.1 L1008.2,1070.8 L1009.0,1070.0 L1009.8,1070.6 L1010.7,1070.7 L1011.5,1070.2 L1012.3,1069.8 L1013.2,1070.3 L1014.0,1070.7 L1014.8,1071.1 L1015.7,1070.8 L1016.5,1070.5 L1017.3,1071.4 L1018.2,1070.5 L1019.0,1069.6 L1019.8,1070.4 L1020.7,1070.2 L1021.5,1069.4 L1022.3,1070.0 L1023.2,1071.2 L1024.0,1071.0 L1024.8,1070.1 L1025.7,1070.2 L1026.5,1069.6 L1027.3,1069.7 L1028.2,1070.5 L1029.0,1070.4 L1029.8,1070.0 L1030.7,1070.2 L1031.5,1070.2 L1032.3,1070.4 L1033.2,1071.2 L1034.0,1070.9 L1034.8,1069.9 L1035.7,1070.0 L1036.5,1070.2 L1037.3,1070.4 L1038.1,1070.8 L1039.0,1070.1 L1039.8,1070.1 L1040.6,1070.1 L1041.5,1069.6 L1042.3,1070.1 L1043.1,1070.3 L1044.0,1069.7 L1044.8,1070.3 L1045.6,1070.3 L1046.5,1069.8 L1047.3,1069.5 L1048.1,1069.5 L1049.0,1070.7 L1049.8,1070.4 L1050.6,1070.2 L1051.5,1070.5 L1052.3,1070.7 L1053.1,1070.8 L1054.0,1070.1 L1054.8,1070.5 L1055.6,1069.9 L1056.5,1068.9 L1057.3,1069.9 L1058.1,1070.2 L1059.0,1069.8 L1059.8,1069.2 L1060.6,1068.7 L1061.5,1069.8 L1062.3,1070.6 L1063.1,1069.8 L1064.0,1069.6 L1064.8,1069.7 L1065.6,1069.7 L1066.5,1070.1 L1067.3,1069.9 L1068.1,1070.0 L1069.0,1070.6 L1069.8,1070.1 L1070.6,1070.0 L1071.5,1070.3 L1072.3,1069.6 L1073.1,1069.4 L1074.0,1069.2 L1074.8,1069.4 L1075.6,1069.6 L1076.5,1069.7 L1077.3,1069.6 L1078.1,1068.6 L1079.0,1068.5 L1079.8,1069.5 L1080.6,1070.3 L1081.5,1070.9 L1082.3,1069.9 L1083.1,1068.4 L1084.0,1069.4 L1084.8,1070.9 L1085.6,1070.1 L1086.5,1068.5 L1087.3,1068.4 L1088.1,1070.1 L1089.0,1070.2 L1089.8,1069.0 L1090.6,1068.9 L1091.5,1069.3 L1092.3,1068.4 L1093.1,1068.1 L1094.0,1068.9 L1094.8,1069.0 L1095.6,1069.1 L1096.5,1070.2 L1097.3,1070.4 L1098.1,1068.9 L1098.9,1068.6 L1099.8,1069.3 L1100.6,1069.6 L1101.4,1069.4 L1102.3,1069.7 L1103.1,1069.2 L1103.9,1068.4 L1104.8,1068.9 L1105.6,1069.0 L1106.4,1068.8 L1107.3,1068.6 L1108.1,1067.7 L1108.9,1068.1 L1109.8,1068.3 L1110.6,1068.3 L1111.4,1068.0 L1112.3,1067.6 L1113.1,1068.0 L1113.9,1067.9 L1114.8,1068.4 L1115.6,1068.0 L1116.4,1067.6 L1117.3,1067.8 L1118.1,1068.0 L1118.9,1067.5 L1119.8,1066.8 L1120.6,1067.1 L1121.4,1066.7 L1122.3,1066.4 L1123.1,1066.7 L1123.9,1066.7 L1124.8,1066.6 L1125.6,1067.2 L1126.4,1066.3 L1127.3,1065.7 L1128.1,1066.5 L1128.9,1066.9 L1129.8,1066.6 L1130.6,1066.2 L1131.4,1066.1 L1132.3,1066.3 L1133.1,1065.7 L1133.9,1065.0 L1134.8,1065.2 L1135.6,1065.2 L1136.4,1064.6 L1137.3,1064.4 L1138.1,1064.4 L1138.9,1063.9 L1139.8,1063.5 L1140.6,1063.8 L1141.4,1064.0 L1142.3,1063.3 L1143.1,1062.4 L1143.9,1062.7 L1144.8,1062.9 L1145.6,1062.7 L1146.4,1062.7 L1147.3,1062.1 L1148.1,1061.9 L1148.9,1062.4 L1149.8,1061.9 L1150.6,1061.4 L1151.4,1060.9 L1152.3,1059.9 L1153.1,1059.7 L1153.9,1059.7 L1154.8,1059.3 L1155.6,1058.6 L1156.4,1058.4 L1157.2,1058.9 L1158.1,1058.1 L1158.9,1056.9 L1159.7,1057.0 L1160.6,1057.1 L1161.4,1056.1 L1162.2,1054.7 L1163.1,1054.6 L1163.9,1054.2 L1164.7,1053.3 L1165.6,1052.7 L1166.4,1052.4 L1167.2,1051.6 L1168.1,1050.5 L1168.9,1050.1 L1169.7,1049.5 L1170.6,1049.4 L1171.4,1049.7 L1172.2,1049.5 L1173.1,1049.1 L1173.9,1049.2 L1174.7,1050.1 L1175.6,1050.8 L1176.4,1051.1 L1177.2,1052.5 L1178.1,1053.2 L1178.9,1052.6 L1179.7,1053.1 L1180.6,1053.7 L1181.4,1054.0 L1182.2,1054.3 L1183.1,1055.3 L1183.9,1055.3 L1184.7,1055.7 L1185.6,1056.4 L1186.4,1057.1 L1187.2,1058.0 L1188.1,1059.0 L1188.9,1060.2 L1189.7,1059.9 L1190.6,1059.1 L1191.4,1059.7 L1192.2,1060.4 L1193.1,1060.9 L1193.9,1061.9 L1194.7,1061.6 L1195.6,1062.0 L1196.4,1062.2 L1197.2,1061.6 L1198.1,1062.4 L1198.9,1063.1 L1199.7,1063.3 L1200.6,1064.4 L1201.4,1064.8 L1202.2,1063.5 L1203.1,1063.6 L1203.9,1064.8 L1204.7,1065.1 L1205.6,1065.4 L1206.4,1066.1 L1207.2,1066.0 L1208.1,1065.1 L1208.9,1065.2 L1209.7,1066.4 L1210.6,1066.4 L1211.4,1066.3 L1212.2,1066.2 L1213.1,1066.0 L1213.9,1067.3 L1214.7,1068.0 L1215.6,1067.7 L1216.4,1068.4 L1217.2,1068.5 L1218.0,1068.0 L1218.9,1068.3 L1219.7,1067.7 L1220.5,1067.9 L1221.4,1068.6 L1222.2,1068.9 L1223.0,1069.1 L1223.9,1069.4 L1224.7,1070.0 L1225.5,1069.6 L1226.4,1069.5 L1227.2,1069.2 L1228.0,1068.8 L1228.9,1068.6 L1229.7,1068.8 L1230.5,1068.5 L1231.4,1069.0 L1232.2,1069.5 L1233.0,1069.2 L1233.9,1069.2 L1234.7,1069.2 L1235.5,1068.8 L1236.4,1068.4 L1237.2,1068.7 L1238.0,1069.4 L1238.9,1069.7 L1239.7,1069.7 L1240.5,1070.4 L1241.4,1070.2 L1242.2,1069.9 L1243.0,1070.6 L1243.9,1071.4 L1244.7,1070.9 L1245.5,1070.8 L1246.4,1072.1 L1247.2,1071.1 L1248.0,1069.9 L1248.9,1070.9 L1249.7,1071.8 L1250.5,1071.9 L1251.4,1071.3 L1252.2,1071.1 L1253.0,1071.5 L1253.9,1071.3 L1254.7,1070.7 L1255.5,1070.5 L1256.4,1070.6 L1257.2,1070.5 L1258.0,1070.6 L1258.9,1071.1 L1259.7,1071.5 L1260.5,1071.2 L1261.4,1070.8 L1262.2,1071.0 L1263.0,1071.4 L1263.9,1071.6 L1264.7,1071.1 L1265.5,1071.2 L1266.4,1072.2 L1267.2,1072.4 L1268.0,1072.0 L1268.9,1071.7 L1269.7,1071.5 L1270.5,1070.8 L1271.4,1071.0 L1272.2,1071.4 L1273.0,1071.7 L1273.9,1072.1 L1274.7,1072.2 L1275.5,1071.6 L1276.4,1070.8 L1277.2,1072.2 L1278.0,1072.9 L1278.8,1071.9 L1279.7,1071.4 L1280.5,1071.3 L1281.3,1072.2 L1282.2,1071.7 L1283.0,1071.3 L1283.8,1072.0 L1284.7,1071.5 L1285.5,1071.4 L1286.3,1071.8 L1287.2,1071.5 L1288.0,1070.9 L1288.8,1071.6 L1289.7,1072.1 L1290.5,1071.7 L1291.3,1071.3 L1292.2,1070.9 L1293.0,1070.3 L1293.8,1070.6 L1294.7,1072.0 L1295.5,1072.0 L1296.3,1071.7 L1297.2,1071.7 L1298.0,1071.4 L1298.8,1071.6 L1299.7,1071.4 L1300.5,1070.9 L1301.3,1071.1 L1302.2,1071.1 L1303.0,1071.1 L1303.8,1071.6 L1304.7,1072.0 L1305.5,1071.6 L1306.3,1071.3 L1307.2,1071.4 L1308.0,1071.2 L1308.8,1070.2 L1309.7,1070.0 L1310.5,1070.2 L1311.3,1070.3 L1312.2,1071.2 L1313.0,1071.6 L1313.8,1071.4 L1314.7,1071.5 L1315.5,1071.4 L1316.3,1070.6 L1317.2,1070.6 L1318.0,1070.8 L1318.8,1070.7 L1319.7,1070.8 L1320.5,1071.4 L1321.3,1071.3 L1322.2,1071.3 L1323.0,1071.2 L1323.8,1071.0 L1324.7,1070.4 L1325.5,1070.2 L1326.3,1069.9 L1327.2,1069.3 L1328.0,1070.1 L1328.8,1070.2 L1329.7,1069.8 L1330.5,1070.0 L1331.3,1070.4 L1332.2,1070.4 L1333.0,1069.8 L1333.8,1070.2 L1334.7,1070.8 L1335.5,1070.7 L1336.3,1070.2 L1337.2,1070.0 L1338.0,1070.9 L1338.8,1070.5 L1339.6,1070.0 L1340.5,1070.2 L1341.3,1070.4 L1342.1,1069.8 L1343.0,1068.9 L1343.8,1068.7 L1344.6,1069.6 L1345.5,1070.0 L1346.3,1069.8 L1347.1,1069.7 L1348.0,1069.2 L1348.8,1068.9 L1349.6,1068.3 L1350.5,1068.4 L1351.3,1069.7 L1352.1,1069.6 L1353.0,1068.9 L1353.8,1068.6 L1354.6,1068.2 L1355.5,1068.0 L1356.3,1068.0 L1357.1,1068.5 L1358.0,1068.5 L1358.8,1068.2 L1359.6,1068.4 L1360.5,1068.8 L1361.3,1068.6 L1362.1,1067.7 L1363.0,1067.7 L1363.8,1068.4 L1364.6,1068.1 L1365.5,1067.4 L1366.3,1067.3 L1367.1,1066.6 L1368.0,1065.9 L1368.8,1065.3 L1369.6,1064.3 L1370.5,1063.8 L1371.3,1064.4 L1372.1,1064.2 L1373.0,1063.2 L1373.8,1063.6 L1374.6,1063.6 L1375.5,1063.5 L1376.3,1063.2 L1377.1,1061.9 L1378.0,1061.5 L1378.8,1062.1 L1379.6,1062.6 L1380.5,1062.1 L1381.3,1061.2 L1382.1,1060.6 L1383.0,1060.3 L1383.8,1060.1 L1384.6,1060.1 L1385.5,1060.1 L1386.3,1060.3 L1387.1,1060.7 L1388.0,1060.6 L1388.8,1060.0 L1389.6,1060.6 L1390.5,1060.9 L1391.3,1060.5 L1392.1,1060.4 L1393.0,1061.0 L1393.8,1061.2 L1394.6,1061.7 L1395.5,1061.4 L1396.3,1060.7 L1397.1,1061.2 L1397.9,1061.6 L1398.8,1062.0 L1399.6,1061.4 L1400.4,1061.2 L1401.3,1062.0 L1402.1,1062.3 L1402.9,1061.7 L1403.8,1061.4 L1404.6,1061.9 L1405.4,1061.5 L1406.3,1061.6 L1407.1,1061.4 L1407.9,1060.9 L1408.8,1060.3 L1409.6,1060.5 L1410.4,1061.5 L1411.3,1062.1 L1412.1,1063.2 L1412.9,1063.2 L1413.8,1062.8 L1414.6,1063.9 L1415.4,1064.4 L1416.3,1064.5 L1417.1,1065.0 L1417.9,1065.7 L1418.8,1066.3 L1419.6,1066.5 L1420.4,1067.4 L1421.3,1068.7 L1422.1,1069.1 L1422.9,1069.8 L1423.8,1071.1 L1424.6,1070.7 L1425.4,1071.1 L1426.3,1071.9 L1427.1,1071.6 L1427.9,1071.4 L1428.8,1071.1 L1429.6,1070.5 L1430.4,1070.8 L1431.3,1071.3 L1432.1,1071.4 L1432.9,1071.3 L1433.8,1071.7 L1434.6,1072.3 L1435.4,1072.9 L1436.3,1073.4 L1437.1,1073.0 L1437.9,1072.3 L1438.8,1072.3 L1439.6,1072.6 L1440.4,1073.1 L1441.3,1073.4 L1442.1,1073.0 L1442.9,1073.1 L1443.8,1073.3 L1444.6,1072.9 L1445.4,1072.4 L1446.3,1072.7 L1447.1,1073.3 L1447.9,1073.0 L1448.8,1072.7 L1449.6,1072.4 L1450.4,1072.6 L1451.3,1073.2 L1452.1,1072.9 L1452.9,1072.9 L1453.8,1073.7 L1454.6,1073.5 L1455.4,1073.0 L1456.3,1073.1 L1457.1,1073.5 L1457.9,1074.4 L1458.7,1073.9 L1459.6,1073.5 L1460.4,1074.0 L1461.2,1073.9 L1462.1,1074.0 L1462.9,1074.2 L1463.7,1073.8 L1464.6,1073.8 L1465.4,1074.1 L1466.2,1074.0 L1467.1,1073.7 L1467.9,1074.6 L1468.7,1075.2 L1469.6,1074.5 L1470.4,1075.6 L1471.2,1075.4 L1472.1,1073.9 L1472.9,1073.8 L1473.7,1074.0 L1474.6,1074.9 L1475.4,1075.9 L1476.2,1075.3 L1477.1,1074.9 L1477.9,1074.9 L1478.7,1074.6 L1479.6,1074.5 L1480.4,1074.9 L1481.2,1074.7 L1482.1,1074.7 L1482.9,1074.8 L1483.7,1074.5 L1484.6,1074.8 L1485.4,1074.5 L1486.2,1074.1 L1487.1,1074.6 L1487.9,1075.0 L1488.7,1074.9 L1489.6,1074.6 L1490.4,1074.4 L1491.2,1074.4 L1492.1,1074.6 L1492.9,1074.6 L1493.7,1074.8 L1494.6,1075.0 L1495.4,1074.0 L1496.2,1074.0 L1497.1,1074.9 L1497.9,1075.0 L1498.7,1074.4 L1499.6,1074.4 L1500.4,1075.1 L1501.2,1074.7 L1502.1,1073.9 L1502.9,1074.8 L1503.7,1074.6 L1504.6,1073.7 L1505.4,1074.0 L1506.2,1073.7 L1507.1,1073.9 L1507.9,1074.1 L1508.7,1074.0 L1509.6,1075.0 L1510.4,1075.6 L1511.2,1075.4 L1512.1,1074.7 L1512.9,1075.1 L1513.7,1076.3 L1514.6,1075.9 L1515.4,1075.8 L1516.2,1075.9 L1517.1,1075.8 L1517.9,1075.4 L1518.7,1074.5 L1519.5,1075.4 L1520.4,1076.3 L1521.2,1075.5 L1522.0,1076.0 L1522.9,1076.3 L1523.7,1075.9 L1524.5,1075.3 L1525.4,1074.6 L1526.2,1074.9 L1527.0,1075.2 L1527.9,1075.5 L1528.7,1075.7 L1529.5,1075.2 L1530.4,1074.9 L1531.2,1074.9 L1532.0,1074.3 L1532.9,1073.9 L1533.7,1074.4 L1534.5,1075.0 L1535.4,1075.2 L1536.2,1074.7 L1537.0,1075.1 L1537.9,1075.6 L1538.7,1074.8 L1539.5,1074.5 L1540.4,1074.9 L1541.2,1075.4 L1542.0,1075.8 L1542.9,1075.9 L1543.7,1075.8 L1544.5,1075.8 L1545.4,1075.5 L1546.2,1075.3 L1547.0,1075.5 L1547.9,1075.6 L1548.7,1076.0 L1549.5,1075.9 L1550.4,1075.8 L1551.2,1076.2 L1552.0,1076.1 L1552.9,1075.6 L1553.7,1075.9 L1554.5,1075.6 L1555.4,1075.5 L1556.2,1076.1 L1557.0,1075.8 L1557.9,1075.6 L1558.7,1075.0 L1559.5,1075.1 L1560.4,1075.6 L1561.2,1075.5 L1562.0,1075.8 L1562.9,1075.9 L1563.7,1075.6 L1564.5,1075.7 L1565.4,1076.6 L1566.2,1076.4 L1567.0,1075.7 L1567.9,1076.0 L1568.7,1075.7 L1569.5,1074.9 L1570.4,1074.5 L1571.2,1074.6 L1572.0,1075.0 L1572.9,1074.6 L1573.7,1074.6 L1574.5,1075.1 L1575.4,1075.8 L1576.2,1076.2 L1577.0,1075.4 L1577.9,1075.0 L1578.7,1075.1 L1579.5,1075.4 L1580.3,1075.2 L1581.2,1075.3 L1582.0,1075.9 L1582.8,1076.6 L1583.7,1076.2 L1584.5,1075.3 L1585.3,1075.6 L1586.2,1075.9 L1587.0,1076.5 L1587.8,1075.9 L1588.7,1075.3 L1589.5,1075.5 L1590.3,1075.6 L1591.2,1075.7 L1592.0,1075.6 L1592.8,1076.2 L1593.7,1076.4 L1594.5,1076.0 L1595.3,1076.0 L1596.2,1076.2 L1597.0,1076.2 L1597.8,1076.6 L1598.7,1076.3 L1599.5,1076.1 L1600.3,1076.3 L1601.2,1076.0 L1602.0,1076.1 L1602.8,1076.6 L1603.7,1076.5 L1604.5,1076.1 L1605.3,1076.8 L1606.2,1076.4 L1607.0,1076.2 L1607.8,1076.7 L1608.7,1076.1 L1609.5,1076.3 L1610.3,1076.6 L1611.2,1076.3 L1612.0,1076.5 L1612.8,1076.1 L1613.7,1075.2 L1614.5,1075.2 L1615.3,1076.2 L1616.2,1076.7 L1617.0,1076.2 L1617.8,1076.1 L1618.7,1075.2 L1619.5,1074.9 L1620.3,1075.3 L1621.2,1075.9 L1622.0,1076.4 L1622.8,1075.6 L1623.7,1074.6 L1624.5,1075.1 L1625.3,1075.6 L1626.2,1075.3 L1627.0,1075.7 L1627.8,1076.3 L1628.7,1076.8 L1629.5,1076.4 L1630.3,1075.7 L1631.2,1076.0 L1632.0,1076.6 L1632.8,1076.0 L1633.7,1076.0 L1634.5,1075.9 L1635.3,1076.1 L1636.2,1076.6 L1637.0,1076.7 L1637.8,1077.2 L1638.6,1076.4 L1639.5,1075.7 L1640.3,1076.2 L1641.1,1076.6 L1642.0,1076.5 L1642.8,1076.1 L1643.6,1076.6 L1644.5,1076.7 L1645.3,1076.2 L1646.1,1075.7 L1647.0,1075.7 L1647.8,1075.7 L1648.6,1076.7 L1649.5,1077.1 L1650.3,1075.7 L1651.1,1076.4 L1652.0,1077.0 L1652.8,1076.0 L1653.6,1075.5 L1654.5,1075.9 L1655.3,1076.3 L1656.1,1076.5 L1657.0,1076.2 L1657.8,1076.6 L1658.6,1077.1 L1659.5,1076.4 L1660.3,1076.3 L1661.1,1076.6 L1662.0,1076.7 L1662.8,1076.0 L1663.6,1076.6 L1664.5,1077.4 L1665.3,1077.0 L1666.1,1077.0 L1667.0,1077.0 L1667.8,1077.1 L1668.6,1076.9 L1669.5,1076.1 L1670.3,1075.8 L1671.1,1076.6 L1672.0,1076.9 L1672.8,1076.6 L1673.6,1077.1 L1674.5,1077.4 L1675.3,1077.4 L1676.1,1075.9 L1677.0,1076.4 L1677.8,1077.0 L1678.6,1075.8 L1679.5,1076.6 L1680.3,1076.2 L1681.1,1075.2 L1682.0,1076.1 L1682.8,1076.8 L1683.6,1076.5 L1684.5,1076.3 L1685.3,1075.8 L1686.1,1076.3 L1687.0,1076.2 L1687.8,1075.4 L1688.6,1076.2 L1689.5,1076.6 L1690.3,1076.4 L1691.1,1076.9 L1692.0,1076.5 L1692.8,1076.2 L1693.6,1076.2 L1694.5,1075.9 L1695.3,1076.0 L1696.1,1075.0 L1697.0,1075.3 L1697.8,1077.3 L1698.6,1077.8 L1699.4,1076.9 L1700.3,1076.9 L1701.1,1076.3 L1701.9,1076.7 L1702.8,1077.1 L1703.6,1077.1 L1704.4,1078.1 L1705.3,1077.8 L1706.1,1076.5 L1706.9,1075.9 L1707.8,1076.3 L1708.6,1076.3 L1709.4,1076.0 L1710.3,1075.3 L1711.1,1076.0 L1711.9,1077.1 L1712.8,1076.7 L1713.6,1076.7 L1714.4,1076.9 L1715.3,1076.5 L1716.1,1076.6 L1716.9,1076.8 L1717.8,1076.4 L1718.6,1076.4 L1719.4,1076.7 L1720.3,1077.7 L1721.1,1077.3 L1721.9,1076.8 L1722.8,1076.6 L1723.6,1076.1 L1724.4,1077.1 L1725.3,1076.9 L1726.1,1076.2 L1726.9,1076.0 L1727.8,1076.3 L1728.6,1076.9" fill="none" stroke="#f00000" stroke-width="4.6" stroke-linejoin="round"/>
<path d="M104.5,1292.9 L105.3,1286.6 L106.2,1280.3 L107.0,1274.5 L107.8,1269.4 L108.7,1265.5 L109.5,1262.9 L110.3,1260.8 L111.2,1259.7 L112.0,1258.4 L112.8,1258.3 L113.7,1260.7 L114.5,1261.9 L115.3,1262.4 L116.2,1264.1 L117.0,1265.8 L117.8,1265.7 L118.7,1264.9 L119.5,1265.1 L120.3,1265.1 L121.2,1264.2 L122.0,1263.9 L122.8,1265.0 L123.7,1265.2 L124.5,1264.5 L125.3,1265.8 L126.2,1267.2 L127.0,1268.0 L127.8,1267.3 L128.7,1265.4 L129.5,1265.9 L130.3,1266.6 L131.2,1265.7 L132.0,1265.2 L132.8,1263.3 L133.7,1262.1 L134.5,1262.6 L135.3,1262.2 L136.1,1261.7 L137.0,1260.7 L137.8,1259.8 L138.6,1259.1 L139.5,1258.9 L140.3,1259.1 L141.1,1257.9 L142.0,1257.0 L142.8,1255.8 L143.6,1253.3 L144.5,1249.1 L145.3,1241.5 L146.1,1232.1 L147.0,1221.7 L147.8,1211.6 L148.6,1204.3 L149.5,1202.4 L150.3,1208.8 L151.1,1221.2 L152.0,1233.0 L152.8,1241.6 L153.6,1247.9 L154.5,1251.3 L155.3,1253.8 L156.1,1255.6 L157.0,1257.2 L157.8,1258.2 L158.6,1257.2 L159.5,1258.5 L160.3,1259.2 L161.1,1256.8 L162.0,1256.8 L162.8,1256.7 L163.6,1255.5 L164.5,1254.3 L165.3,1255.1 L166.1,1256.2 L167.0,1255.5 L167.8,1253.4 L168.6,1252.6 L169.5,1252.6 L170.3,1249.1 L171.1,1247.1 L172.0,1246.4 L172.8,1244.1 L173.6,1241.5 L174.5,1235.8 L175.3,1228.7 L176.1,1223.6 L177.0,1216.0 L177.8,1203.3 L178.6,1184.5 L179.5,1159.0 L180.3,1122.4 L181.1,1070.5 L182.0,1000.4 L182.8,926.6 L183.6,892.3 L184.5,926.5 L185.3,999.6 L186.1,1069.3 L187.0,1121.8 L187.8,1159.8 L188.6,1185.2 L189.5,1202.5 L190.3,1215.3 L191.1,1226.0 L192.0,1234.5 L192.8,1237.7 L193.6,1242.3 L194.5,1246.8 L195.3,1247.6 L196.1,1249.8 L196.9,1252.7 L197.8,1254.6 L198.6,1256.0 L199.4,1257.8 L200.3,1259.2 L201.1,1259.6 L201.9,1258.9 L202.8,1259.5 L203.6,1259.6 L204.4,1261.0 L205.3,1262.8 L206.1,1262.6 L206.9,1263.3 L207.8,1264.0 L208.6,1264.2 L209.4,1264.5 L210.3,1265.2 L211.1,1265.9 L211.9,1265.2 L212.8,1264.8 L213.6,1264.6 L214.4,1263.9 L215.3,1264.7 L216.1,1265.7 L216.9,1265.6 L217.8,1265.2 L218.6,1264.1 L219.4,1263.2 L220.3,1261.7 L221.1,1258.5 L221.9,1255.8 L222.8,1254.4 L223.6,1251.6 L224.4,1247.6 L225.3,1244.1 L226.1,1240.8 L226.9,1240.0 L227.8,1242.0 L228.6,1243.5 L229.4,1246.0 L230.3,1250.4 L231.1,1253.6 L231.9,1256.3 L232.8,1258.1 L233.6,1262.1 L234.4,1265.2 L235.3,1266.5 L236.1,1267.3 L236.9,1266.7 L237.8,1268.2 L238.6,1268.4 L239.4,1268.6 L240.3,1270.0 L241.1,1270.1 L241.9,1269.0 L242.8,1268.6 L243.6,1269.7 L244.4,1271.2 L245.3,1271.9 L246.1,1270.1 L246.9,1270.2 L247.8,1270.0 L248.6,1269.0 L249.4,1268.8 L250.3,1269.3 L251.1,1270.2 L251.9,1270.9 L252.8,1272.9 L253.6,1271.4 L254.4,1268.9 L255.2,1270.0 L256.1,1270.4 L256.9,1269.6 L257.7,1270.3 L258.6,1270.3 L259.4,1268.8 L260.2,1270.1 L261.1,1270.5 L261.9,1269.9 L262.7,1271.0 L263.6,1271.2 L264.4,1271.5 L265.2,1270.1 L266.1,1268.7 L266.9,1269.6 L267.7,1269.6 L268.6,1268.5 L269.4,1268.7 L270.2,1268.6 L271.1,1268.1 L271.9,1269.3 L272.7,1269.9 L273.6,1270.6 L274.4,1270.8 L275.2,1269.8 L276.1,1267.2 L276.9,1266.0 L277.7,1268.9 L278.6,1268.0 L279.4,1266.4 L280.2,1267.6 L281.1,1267.3 L281.9,1266.9 L282.7,1266.4 L283.6,1266.0 L284.4,1266.4 L285.2,1266.1 L286.1,1263.9 L286.9,1261.2 L287.7,1259.7 L288.6,1257.9 L289.4,1254.0 L290.2,1249.0 L291.1,1243.0 L291.9,1235.1 L292.7,1223.7 L293.6,1210.7 L294.4,1198.4 L295.2,1184.1 L296.1,1168.3 L296.9,1155.0 L297.7,1145.1 L298.6,1139.8 L299.4,1138.1 L300.2,1141.8 L301.1,1151.3 L301.9,1164.6 L302.7,1178.7 L303.6,1192.5 L304.4,1206.2 L305.2,1217.4 L306.1,1227.0 L306.9,1232.9 L307.7,1237.5 L308.6,1240.2 L309.4,1239.1 L310.2,1236.7 L311.1,1234.2 L311.9,1231.2 L312.7,1225.7 L313.6,1221.2 L314.4,1218.0 L315.2,1216.9 L316.0,1221.9 L316.9,1227.2 L317.7,1232.3 L318.5,1239.4 L319.4,1244.2 L320.2,1248.0 L321.0,1253.3 L321.9,1257.7 L322.7,1258.1 L323.5,1258.5 L324.4,1260.2 L325.2,1259.5 L326.0,1258.5 L326.9,1259.6 L327.7,1261.0 L328.5,1259.9 L329.4,1259.4 L330.2,1259.5 L331.0,1260.1 L331.9,1261.8 L332.7,1262.6 L333.5,1262.8 L334.4,1264.4 L335.2,1266.5 L336.0,1266.7 L336.9,1267.6 L337.7,1267.8 L338.5,1267.5 L339.4,1267.8 L340.2,1269.2 L341.0,1269.4 L341.9,1267.8 L342.7,1268.1 L343.5,1268.5 L344.4,1268.2 L345.2,1267.5 L346.0,1267.3 L346.9,1268.9 L347.7,1269.4 L348.5,1268.4 L349.4,1268.4 L350.2,1269.2 L351.0,1269.1 L351.9,1269.3 L352.7,1269.0 L353.5,1268.8 L354.4,1269.7 L355.2,1269.7 L356.0,1268.8 L356.9,1268.2 L357.7,1268.9 L358.5,1269.7 L359.4,1269.4 L360.2,1268.8 L361.0,1268.9 L361.9,1268.3 L362.7,1267.9 L363.5,1268.9 L364.4,1268.1 L365.2,1267.4 L366.0,1268.2 L366.9,1268.1 L367.7,1268.8 L368.5,1269.9 L369.4,1269.2 L370.2,1268.1 L371.0,1267.7 L371.9,1268.7 L372.7,1268.8 L373.5,1268.3 L374.4,1268.9 L375.2,1267.6 L376.0,1267.2 L376.8,1269.7 L377.7,1270.7 L378.5,1269.8 L379.3,1268.3 L380.2,1267.5 L381.0,1268.0 L381.8,1268.0 L382.7,1267.9 L383.5,1267.3 L384.3,1266.5 L385.2,1266.4 L386.0,1266.1 L386.8,1265.9 L387.7,1266.0 L388.5,1265.5 L389.3,1264.6 L390.2,1261.3 L391.0,1256.9 L391.8,1253.7 L392.7,1248.9 L393.5,1242.2 L394.3,1234.6 L395.2,1227.3 L396.0,1220.3 L396.8,1214.6 L397.7,1211.3 L398.5,1209.6 L399.3,1212.6 L400.2,1218.0 L401.0,1223.7 L401.8,1229.3 L402.7,1236.4 L403.5,1243.7 L404.3,1249.3 L405.2,1254.1 L406.0,1258.8 L406.8,1262.1 L407.7,1262.3 L408.5,1263.9 L409.3,1265.7 L410.2,1266.8 L411.0,1268.0 L411.8,1267.8 L412.7,1267.2 L413.5,1268.2 L414.3,1268.6 L415.2,1267.4 L416.0,1267.7 L416.8,1268.6 L417.7,1267.8 L418.5,1268.4 L419.3,1269.6 L420.2,1268.7 L421.0,1269.2 L421.8,1270.1 L422.7,1270.0 L423.5,1268.7 L424.3,1268.9 L425.2,1268.5 L426.0,1267.1 L426.8,1267.1 L427.7,1267.5 L428.5,1268.2 L429.3,1268.3 L430.2,1268.0 L431.0,1268.5 L431.8,1268.2 L432.7,1268.0 L433.5,1269.3 L434.3,1268.4 L435.2,1269.0 L436.0,1269.4 L436.8,1267.8 L437.6,1268.4 L438.5,1268.6 L439.3,1267.2 L440.1,1265.9 L441.0,1265.7 L441.8,1265.5 L442.6,1264.4 L443.5,1265.0 L444.3,1265.6 L445.1,1264.8 L446.0,1263.5 L446.8,1261.9 L447.6,1259.6 L448.5,1256.8 L449.3,1256.2 L450.1,1256.3 L451.0,1253.1 L451.8,1250.6 L452.6,1248.9 L453.5,1247.1 L454.3,1245.9 L455.1,1244.3 L456.0,1241.1 L456.8,1237.7 L457.6,1236.3 L458.5,1235.5 L459.3,1234.4 L460.1,1231.7 L461.0,1231.1 L461.8,1231.0 L462.6,1230.3 L463.5,1230.6 L464.3,1232.2 L465.1,1232.6 L466.0,1233.0 L466.8,1235.4 L467.6,1237.4 L468.5,1239.4 L469.3,1241.2 L470.1,1243.6 L471.0,1245.0 L471.8,1247.0 L472.6,1250.2 L473.5,1252.5 L474.3,1254.8 L475.1,1256.7 L476.0,1256.0 L476.8,1256.5 L477.6,1258.1 L478.5,1259.5 L479.3,1261.9 L480.1,1263.7 L481.0,1262.6 L481.8,1260.3 L482.6,1260.4 L483.5,1261.8 L484.3,1262.6 L485.1,1261.0 L486.0,1259.5 L486.8,1258.9 L487.6,1257.9 L488.5,1256.2 L489.3,1254.1 L490.1,1252.2 L491.0,1249.3 L491.8,1246.8 L492.6,1244.0 L493.5,1239.9 L494.3,1237.4 L495.1,1234.8 L495.9,1232.1 L496.8,1229.0 L497.6,1225.8 L498.4,1224.1 L499.3,1221.7 L500.1,1220.2 L500.9,1221.1 L501.8,1222.5 L502.6,1224.3 L503.4,1226.1 L504.3,1228.3 L505.1,1230.7 L505.9,1232.8 L506.8,1237.1 L507.6,1242.5 L508.4,1245.7 L509.3,1247.6 L510.1,1250.1 L510.9,1252.5 L511.8,1254.8 L512.6,1258.1 L513.4,1259.9 L514.3,1260.5 L515.1,1261.4 L515.9,1263.3 L516.8,1265.6 L517.6,1267.5 L518.4,1267.9 L519.3,1268.3 L520.1,1268.1 L520.9,1266.9 L521.8,1268.3 L522.6,1268.4 L523.4,1267.7 L524.3,1268.8 L525.1,1269.4 L525.9,1269.7 L526.8,1269.7 L527.6,1269.3 L528.4,1269.3 L529.3,1267.9 L530.1,1268.5 L530.9,1270.1 L531.8,1268.2 L532.6,1268.2 L533.4,1268.1 L534.3,1268.0 L535.1,1269.6 L535.9,1270.0 L536.8,1269.0 L537.6,1268.1 L538.4,1268.3 L539.3,1268.3 L540.1,1269.0 L540.9,1269.3 L541.8,1269.2 L542.6,1269.4 L543.4,1268.5 L544.3,1268.5 L545.1,1269.4 L545.9,1268.6 L546.8,1269.0 L547.6,1270.8 L548.4,1270.5 L549.3,1269.6 L550.1,1269.7 L550.9,1270.4 L551.8,1270.2 L552.6,1270.5 L553.4,1270.7 L554.3,1270.0 L555.1,1269.2 L555.9,1269.9 L556.7,1270.1 L557.6,1268.9 L558.4,1268.4 L559.2,1268.2 L560.1,1268.3 L560.9,1268.1 L561.7,1269.4 L562.6,1270.2 L563.4,1270.3 L564.2,1269.7 L565.1,1269.7 L565.9,1270.0 L566.7,1269.6 L567.6,1269.6 L568.4,1269.0 L569.2,1268.4 L570.1,1268.0 L570.9,1268.1 L571.7,1268.2 L572.6,1268.5 L573.4,1268.0 L574.2,1267.8 L575.1,1267.8 L575.9,1267.8 L576.7,1269.3 L577.6,1270.6 L578.4,1269.4 L579.2,1268.8 L580.1,1268.8 L580.9,1269.1 L581.7,1268.4 L582.6,1267.4 L583.4,1268.6 L584.2,1268.8 L585.1,1268.6 L585.9,1268.8 L586.7,1268.8 L587.6,1268.6 L588.4,1267.3 L589.2,1266.1 L590.1,1265.9 L590.9,1267.0 L591.7,1267.5 L592.6,1267.4 L593.4,1267.6 L594.2,1267.4 L595.1,1266.7 L595.9,1266.7 L596.7,1267.7 L597.6,1266.7 L598.4,1266.8 L599.2,1266.7 L600.1,1266.6 L600.9,1267.3 L601.7,1266.7 L602.6,1266.5 L603.4,1266.4 L604.2,1267.1 L605.1,1267.5 L605.9,1265.2 L606.7,1264.2 L607.6,1265.5 L608.4,1266.0 L609.2,1265.8 L610.1,1265.9 L610.9,1265.7 L611.7,1266.3 L612.6,1265.7 L613.4,1265.0 L614.2,1266.6 L615.1,1266.7 L615.9,1265.2 L616.7,1264.6 L617.5,1265.4 L618.4,1265.7 L619.2,1266.2 L620.0,1264.6 L620.9,1262.8 L621.7,1263.0 L622.5,1264.0 L623.4,1264.1 L624.2,1263.1 L625.0,1263.8 L625.9,1263.5 L626.7,1261.8 L627.5,1259.4 L628.4,1258.4 L629.2,1257.3 L630.0,1255.0 L630.9,1253.6 L631.7,1251.2 L632.5,1248.0 L633.4,1245.3 L634.2,1243.5 L635.0,1241.3 L635.9,1236.8 L636.7,1232.5 L637.5,1228.3 L638.4,1222.9 L639.2,1218.2 L640.0,1216.5 L640.9,1212.6 L641.7,1208.2 L642.5,1206.4 L643.4,1204.4 L644.2,1202.1 L645.0,1200.3 L645.9,1202.2 L646.7,1203.9 L647.5,1205.4 L648.4,1207.7 L649.2,1210.3 L650.0,1213.7 L650.9,1218.0 L651.7,1222.9 L652.5,1227.0 L653.4,1230.7 L654.2,1234.6 L655.0,1238.7 L655.9,1243.1 L656.7,1246.4 L657.5,1249.0 L658.4,1252.2 L659.2,1255.5 L660.0,1257.8 L660.9,1258.5 L661.7,1260.8 L662.5,1262.6 L663.4,1263.6 L664.2,1266.2 L665.0,1266.7 L665.9,1267.6 L666.7,1268.5 L667.5,1267.1 L668.4,1267.9 L669.2,1268.3 L670.0,1268.3 L670.9,1269.8 L671.7,1270.1 L672.5,1269.8 L673.4,1268.3 L674.2,1268.2 L675.0,1269.4 L675.9,1269.6 L676.7,1270.9 L677.5,1271.4 L678.3,1269.7 L679.2,1268.5 L680.0,1270.1 L680.8,1270.9 L681.7,1270.5 L682.5,1270.8 L683.3,1269.6 L684.2,1269.7 L685.0,1271.0 L685.8,1271.9 L686.7,1271.5 L687.5,1269.4 L688.3,1268.4 L689.2,1270.1 L690.0,1271.2 L690.8,1270.3 L691.7,1269.6 L692.5,1270.4 L693.3,1270.9 L694.2,1270.3 L695.0,1270.3 L695.8,1270.0 L696.7,1271.0 L697.5,1271.2 L698.3,1271.0 L699.2,1271.0 L700.0,1270.7 L700.8,1269.7 L701.7,1269.5 L702.5,1271.0 L703.3,1271.6 L704.2,1272.0 L705.0,1271.8 L705.8,1271.0 L706.7,1270.8 L707.5,1270.4 L708.3,1270.7 L709.2,1271.3 L710.0,1272.4 L710.8,1272.2 L711.7,1271.5 L712.5,1271.6 L713.3,1270.7 L714.2,1271.2 L715.0,1272.5 L715.8,1272.3 L716.7,1271.2 L717.5,1270.4 L718.3,1271.4 L719.2,1272.2 L720.0,1272.7 L720.8,1271.9 L721.7,1270.2 L722.5,1270.2 L723.3,1269.7 L724.2,1270.1 L725.0,1271.3 L725.8,1271.1 L726.7,1270.1 L727.5,1269.5 L728.3,1270.2 L729.2,1272.5 L730.0,1272.7 L730.8,1271.0 L731.7,1270.5 L732.5,1270.8 L733.3,1271.9 L734.2,1271.9 L735.0,1271.4 L735.8,1271.1 L736.6,1270.9 L737.5,1271.2 L738.3,1271.6 L739.1,1270.8 L740.0,1270.3 L740.8,1270.5 L741.6,1269.8 L742.5,1269.6 L743.3,1270.9 L744.1,1270.6 L745.0,1271.4 L745.8,1272.0 L746.6,1270.4 L747.5,1271.0 L748.3,1272.9 L749.1,1272.9 L750.0,1270.4 L750.8,1268.7 L751.6,1269.6 L752.5,1270.3 L753.3,1269.3 L754.1,1268.5 L755.0,1269.6 L755.8,1270.5 L756.6,1270.8 L757.5,1272.5 L758.3,1271.7 L759.1,1270.8 L760.0,1271.2 L760.8,1270.9 L761.6,1271.4 L762.5,1271.2 L763.3,1270.2 L764.1,1269.4 L765.0,1269.5 L765.8,1269.4 L766.6,1268.5 L767.5,1269.9 L768.3,1271.9 L769.1,1271.3 L770.0,1270.8 L770.8,1271.3 L771.6,1270.4 L772.5,1269.0 L773.3,1269.0 L774.1,1269.1 L775.0,1269.5 L775.8,1269.1 L776.6,1269.0 L777.5,1270.9 L778.3,1269.6 L779.1,1269.3 L780.0,1270.1 L780.8,1270.7 L781.6,1271.6 L782.5,1271.8 L783.3,1272.5 L784.1,1271.6 L785.0,1270.2 L785.8,1269.8 L786.6,1270.5 L787.5,1270.4 L788.3,1270.1 L789.1,1270.7 L790.0,1270.3 L790.8,1270.4 L791.6,1270.5 L792.5,1270.2 L793.3,1270.6 L794.1,1270.3 L795.0,1270.0 L795.8,1270.0 L796.6,1270.3 L797.4,1269.9 L798.3,1271.5 L799.1,1272.8 L799.9,1272.2 L800.8,1271.4 L801.6,1270.3 L802.4,1270.1 L803.3,1270.9 L804.1,1272.9 L804.9,1271.4 L805.8,1269.9 L806.6,1270.5 L807.4,1270.7 L808.3,1271.7 L809.1,1271.7 L809.9,1270.1 L810.8,1269.8 L811.6,1270.6 L812.4,1271.2 L813.3,1270.9 L814.1,1271.2 L814.9,1271.6 L815.8,1269.7 L816.6,1269.0 L817.4,1269.8 L818.3,1270.8 L819.1,1271.9 L819.9,1272.0 L820.8,1271.6 L821.6,1271.6 L822.4,1270.9 L823.3,1271.1 L824.1,1271.9 L824.9,1271.6 L825.8,1270.8 L826.6,1271.3 L827.4,1271.2 L828.3,1271.2 L829.1,1271.8 L829.9,1271.6 L830.8,1273.0 L831.6,1274.9 L832.4,1274.7 L833.3,1273.9 L834.1,1274.0 L834.9,1273.8 L835.8,1273.4 L836.6,1271.9 L837.4,1271.6 L838.3,1272.6 L839.1,1273.8 L839.9,1273.4 L840.8,1273.2 L841.6,1273.2 L842.4,1272.2 L843.3,1272.5 L844.1,1272.9 L844.9,1272.4 L845.8,1272.0 L846.6,1273.3 L847.4,1274.5 L848.3,1273.9 L849.1,1272.7 L849.9,1272.6 L850.8,1272.7 L851.6,1271.4 L852.4,1271.3 L853.3,1272.1 L854.1,1272.6 L854.9,1273.3 L855.8,1273.2 L856.6,1273.0 L857.4,1272.6 L858.2,1273.2 L859.1,1275.2 L859.9,1274.8 L860.7,1271.4 L861.6,1270.6 L862.4,1269.6 L863.2,1267.3 L864.1,1267.3 L864.9,1265.6 L865.7,1263.9 L866.6,1265.1 L867.4,1266.9 L868.2,1268.9 L869.1,1271.1 L869.9,1272.9 L870.7,1273.6 L871.6,1273.5 L872.4,1272.6 L873.2,1271.4 L874.1,1271.0 L874.9,1270.4 L875.7,1269.8 L876.6,1269.9 L877.4,1268.8 L878.2,1266.5 L879.1,1265.8 L879.9,1265.4 L880.7,1263.8 L881.6,1262.7 L882.4,1260.3 L883.2,1255.5 L884.1,1249.1 L884.9,1240.7 L885.7,1228.1 L886.6,1211.2 L887.4,1191.3 L888.2,1168.4 L889.1,1148.6 L889.9,1135.7 L890.7,1132.0 L891.6,1138.4 L892.4,1156.4 L893.2,1177.7 L894.1,1198.1 L894.9,1218.4 L895.7,1232.7 L896.6,1244.2 L897.4,1251.8 L898.2,1256.9 L899.1,1261.6 L899.9,1262.8 L900.7,1263.2 L901.6,1263.9 L902.4,1263.6 L903.2,1264.7 L904.1,1266.4 L904.9,1266.8 L905.7,1268.6 L906.6,1270.5 L907.4,1271.1 L908.2,1269.9 L909.1,1268.7 L909.9,1269.1 L910.7,1269.6 L911.6,1271.0 L912.4,1271.4 L913.2,1271.5 L914.1,1270.9 L914.9,1269.7 L915.7,1271.9 L916.5,1272.5 L917.4,1270.5 L918.2,1270.1 L919.0,1270.2 L919.9,1270.5 L920.7,1270.9 L921.5,1271.4 L922.4,1271.8 L923.2,1272.1 L924.0,1270.7 L924.9,1270.3 L925.7,1270.4 L926.5,1270.5 L927.4,1270.4 L928.2,1269.0 L929.0,1270.3 L929.9,1270.4 L930.7,1270.0 L931.5,1271.3 L932.4,1269.8 L933.2,1268.4 L934.0,1269.3 L934.9,1269.1 L935.7,1269.5 L936.5,1270.5 L937.4,1270.4 L938.2,1271.4 L939.0,1271.4 L939.9,1269.5 L940.7,1269.7 L941.5,1272.1 L942.4,1273.8 L943.2,1272.5 L944.0,1270.4 L944.9,1271.9 L945.7,1273.7 L946.5,1273.1 L947.4,1271.4 L948.2,1271.4 L949.0,1271.8 L949.9,1274.6 L950.7,1275.9 L951.5,1274.6 L952.4,1274.0 L953.2,1273.4 L954.0,1273.6 L954.9,1273.5 L955.7,1273.7 L956.5,1273.0 L957.4,1273.5 L958.2,1272.1 L959.0,1270.7 L959.9,1271.9 L960.7,1271.9 L961.5,1272.0 L962.4,1271.6 L963.2,1270.3 L964.0,1271.0 L964.9,1272.4 L965.7,1271.0 L966.5,1271.4 L967.4,1271.6 L968.2,1270.6 L969.0,1271.3 L969.9,1270.7 L970.7,1271.2 L971.5,1271.8 L972.4,1270.2 L973.2,1270.3 L974.0,1270.8 L974.9,1270.7 L975.7,1270.4 L976.5,1271.0 L977.3,1271.3 L978.2,1269.1 L979.0,1268.8 L979.8,1269.5 L980.7,1270.5 L981.5,1270.9 L982.3,1269.4 L983.2,1267.9 L984.0,1268.5 L984.8,1269.7 L985.7,1268.7 L986.5,1266.7 L987.3,1266.4 L988.2,1266.1 L989.0,1266.7 L989.8,1268.4 L990.7,1267.5 L991.5,1265.1 L992.3,1265.0 L993.2,1266.4 L994.0,1266.6 L994.8,1266.3 L995.7,1265.7 L996.5,1265.4 L997.3,1265.4 L998.2,1265.3 L999.0,1264.6 L999.8,1263.9 L1000.7,1265.0 L1001.5,1264.8 L1002.3,1263.0 L1003.2,1263.4 L1004.0,1265.4 L1004.8,1264.9 L1005.7,1262.9 L1006.5,1261.3 L1007.3,1261.2 L1008.2,1262.3 L1009.0,1262.9 L1009.8,1262.6 L1010.7,1261.8 L1011.5,1261.8 L1012.3,1260.7 L1013.2,1259.6 L1014.0,1259.3 L1014.8,1259.6 L1015.7,1261.5 L1016.5,1260.7 L1017.3,1258.5 L1018.2,1259.6 L1019.0,1259.8 L1019.8,1258.6 L1020.7,1258.8 L1021.5,1258.7 L1022.3,1259.0 L1023.2,1260.3 L1024.0,1258.8 L1024.8,1257.6 L1025.7,1258.8 L1026.5,1258.2 L1027.3,1258.2 L1028.2,1258.7 L1029.0,1258.4 L1029.8,1257.9 L1030.7,1257.5 L1031.5,1255.6 L1032.3,1254.4 L1033.2,1256.3 L1034.0,1257.0 L1034.8,1256.5 L1035.7,1256.1 L1036.5,1256.5 L1037.3,1256.8 L1038.1,1256.3 L1039.0,1256.0 L1039.8,1256.4 L1040.6,1256.7 L1041.5,1257.3 L1042.3,1257.0 L1043.1,1256.6 L1044.0,1255.8 L1044.8,1255.7 L1045.6,1257.0 L1046.5,1255.5 L1047.3,1253.6 L1048.1,1254.3 L1049.0,1254.4 L1049.8,1254.2 L1050.6,1254.5 L1051.5,1254.2 L1052.3,1252.8 L1053.1,1251.8 L1054.0,1252.3 L1054.8,1251.7 L1055.6,1250.4 L1056.5,1250.8 L1057.3,1252.5 L1058.1,1252.4 L1059.0,1250.5 L1059.8,1249.3 L1060.6,1250.0 L1061.5,1250.1 L1062.3,1248.9 L1063.1,1248.1 L1064.0,1248.8 L1064.8,1250.3 L1065.6,1250.5 L1066.5,1250.0 L1067.3,1249.9 L1068.1,1249.4 L1069.0,1249.3 L1069.8,1250.4 L1070.6,1250.3 L1071.5,1248.4 L1072.3,1246.2 L1073.1,1247.4 L1074.0,1248.7 L1074.8,1248.0 L1075.6,1248.0 L1076.5,1248.2 L1077.3,1247.5 L1078.1,1246.3 L1079.0,1245.6 L1079.8,1246.4 L1080.6,1246.6 L1081.5,1246.7 L1082.3,1246.5 L1083.1,1245.1 L1084.0,1244.4 L1084.8,1243.9 L1085.6,1244.9 L1086.5,1245.8 L1087.3,1244.7 L1088.1,1242.9 L1089.0,1242.2 L1089.8,1242.4 L1090.6,1243.4 L1091.5,1244.5 L1092.3,1243.9 L1093.1,1242.4 L1094.0,1241.8 L1094.8,1242.2 L1095.6,1240.5 L1096.5,1238.8 L1097.3,1239.4 L1098.1,1241.4 L1098.9,1241.5 L1099.8,1239.8 L1100.6,1238.6 L1101.4,1238.4 L1102.3,1238.3 L1103.1,1237.7 L1103.9,1237.3 L1104.8,1236.3 L1105.6,1235.1 L1106.4,1234.1 L1107.3,1234.1 L1108.1,1233.9 L1108.9,1233.6 L1109.8,1234.1 L1110.6,1232.8 L1111.4,1230.6 L1112.3,1229.6 L1113.1,1230.2 L1113.9,1229.9 L1114.8,1228.6 L1115.6,1227.9 L1116.4,1226.6 L1117.3,1225.4 L1118.1,1224.2 L1118.9,1223.5 L1119.8,1222.7 L1120.6,1222.5 L1121.4,1222.6 L1122.3,1222.3 L1123.1,1222.2 L1123.9,1220.9 L1124.8,1220.7 L1125.6,1220.5 L1126.4,1219.1 L1127.3,1217.8 L1128.1,1217.2 L1128.9,1218.2 L1129.8,1217.0 L1130.6,1214.6 L1131.4,1215.8 L1132.3,1216.1 L1133.1,1214.9 L1133.9,1214.1 L1134.8,1213.3 L1135.6,1212.6 L1136.4,1211.2 L1137.3,1209.6 L1138.1,1208.4 L1138.9,1208.0 L1139.8,1207.6 L1140.6,1206.9 L1141.4,1205.7 L1142.3,1203.9 L1143.1,1204.0 L1143.9,1202.8 L1144.8,1201.3 L1145.6,1201.2 L1146.4,1200.0 L1147.3,1199.6 L1148.1,1197.6 L1148.9,1195.5 L1149.8,1194.1 L1150.6,1193.1 L1151.4,1193.0 L1152.3,1191.1 L1153.1,1188.9 L1153.9,1187.0 L1154.8,1184.8 L1155.6,1183.9 L1156.4,1182.2 L1157.2,1179.5 L1158.1,1177.9 L1158.9,1174.6 L1159.7,1170.4 L1160.6,1168.4 L1161.4,1166.4 L1162.2,1164.2 L1163.1,1161.3 L1163.9,1160.0 L1164.7,1157.1 L1165.6,1151.4 L1166.4,1150.5 L1167.2,1149.3 L1168.1,1146.6 L1168.9,1143.8 L1169.7,1141.1 L1170.6,1140.9 L1171.4,1139.8 L1172.2,1140.1 L1173.1,1142.1 L1173.9,1142.9 L1174.7,1143.8 L1175.6,1146.3 L1176.4,1149.0 L1177.2,1150.6 L1178.1,1151.6 L1178.9,1153.6 L1179.7,1155.4 L1180.6,1156.5 L1181.4,1159.4 L1182.2,1164.5 L1183.1,1168.2 L1183.9,1169.0 L1184.7,1171.5 L1185.6,1175.8 L1186.4,1178.0 L1187.2,1179.5 L1188.1,1181.8 L1188.9,1182.6 L1189.7,1184.4 L1190.6,1186.5 L1191.4,1186.7 L1192.2,1188.5 L1193.1,1191.9 L1193.9,1193.4 L1194.7,1194.4 L1195.6,1196.1 L1196.4,1197.0 L1197.2,1199.5 L1198.1,1200.9 L1198.9,1200.1 L1199.7,1200.7 L1200.6,1201.8 L1201.4,1204.0 L1202.2,1205.8 L1203.1,1206.5 L1203.9,1207.4 L1204.7,1208.5 L1205.6,1208.0 L1206.4,1209.0 L1207.2,1209.7 L1208.1,1209.3 L1208.9,1211.4 L1209.7,1213.7 L1210.6,1214.8 L1211.4,1214.5 L1212.2,1215.6 L1213.1,1216.3 L1213.9,1217.0 L1214.7,1219.0 L1215.6,1220.2 L1216.4,1220.9 L1217.2,1221.1 L1218.0,1220.8 L1218.9,1220.8 L1219.7,1223.3 L1220.5,1225.3 L1221.4,1224.8 L1222.2,1225.4 L1223.0,1227.3 L1223.9,1227.3 L1224.7,1228.0 L1225.5,1228.2 L1226.4,1228.3 L1227.2,1231.7 L1228.0,1232.6 L1228.9,1231.5 L1229.7,1232.9 L1230.5,1233.7 L1231.4,1234.9 L1232.2,1236.1 L1233.0,1236.4 L1233.9,1236.8 L1234.7,1237.1 L1235.5,1238.4 L1236.4,1238.8 L1237.2,1239.3 L1238.0,1240.2 L1238.9,1240.2 L1239.7,1239.9 L1240.5,1239.1 L1241.4,1239.7 L1242.2,1241.3 L1243.0,1242.1 L1243.9,1243.0 L1244.7,1242.0 L1245.5,1242.4 L1246.4,1243.5 L1247.2,1244.2 L1248.0,1243.8 L1248.9,1243.0 L1249.7,1243.9 L1250.5,1244.1 L1251.4,1245.0 L1252.2,1246.9 L1253.0,1246.3 L1253.9,1245.0 L1254.7,1246.4 L1255.5,1247.0 L1256.4,1247.4 L1257.2,1248.6 L1258.0,1249.3 L1258.9,1249.0 L1259.7,1245.9 L1260.5,1245.0 L1261.4,1247.9 L1262.2,1249.1 L1263.0,1248.2 L1263.9,1249.6 L1264.7,1250.4 L1265.5,1250.0 L1266.4,1249.8 L1267.2,1248.2 L1268.0,1248.7 L1268.9,1248.0 L1269.7,1248.4 L1270.5,1250.8 L1271.4,1250.7 L1272.2,1251.5 L1273.0,1252.3 L1273.9,1250.7 L1274.7,1252.8 L1275.5,1252.9 L1276.4,1251.0 L1277.2,1250.7 L1278.0,1250.2 L1278.8,1251.8 L1279.7,1253.0 L1280.5,1252.5 L1281.3,1250.7 L1282.2,1249.6 L1283.0,1250.9 L1283.8,1252.9 L1284.7,1253.4 L1285.5,1253.4 L1286.3,1253.2 L1287.2,1253.1 L1288.0,1252.8 L1288.8,1252.5 L1289.7,1253.1 L1290.5,1252.4 L1291.3,1251.6 L1292.2,1252.8 L1293.0,1252.5 L1293.8,1251.0 L1294.7,1251.5 L1295.5,1252.4 L1296.3,1253.0 L1297.2,1253.9 L1298.0,1253.2 L1298.8,1250.5 L1299.7,1250.5 L1300.5,1252.8 L1301.3,1253.5 L1302.2,1253.3 L1303.0,1253.1 L1303.8,1253.4 L1304.7,1251.9 L1305.5,1251.2 L1306.3,1252.2 L1307.2,1253.1 L1308.0,1252.8 L1308.8,1252.9 L1309.7,1253.6 L1310.5,1254.2 L1311.3,1252.9 L1312.2,1253.1 L1313.0,1254.2 L1313.8,1252.8 L1314.7,1254.0 L1315.5,1255.0 L1316.3,1254.0 L1317.2,1253.5 L1318.0,1253.0 L1318.8,1252.6 L1319.7,1253.0 L1320.5,1253.4 L1321.3,1253.4 L1322.2,1252.0 L1323.0,1251.0 L1323.8,1252.2 L1324.7,1253.1 L1325.5,1253.4 L1326.3,1252.8 L1327.2,1251.2 L1328.0,1251.0 L1328.8,1252.3 L1329.7,1253.1 L1330.5,1251.6 L1331.3,1252.1 L1332.2,1253.1 L1333.0,1252.1 L1333.8,1251.3 L1334.7,1250.6 L1335.5,1250.8 L1336.3,1251.2 L1337.2,1251.2 L1338.0,1251.3 L1338.8,1249.6 L1339.6,1247.5 L1340.5,1250.5 L1341.3,1251.7 L1342.1,1248.8 L1343.0,1247.6 L1343.8,1247.3 L1344.6,1246.8 L1345.5,1247.0 L1346.3,1246.7 L1347.1,1245.8 L1348.0,1246.3 L1348.8,1245.5 L1349.6,1244.4 L1350.5,1244.6 L1351.3,1242.9 L1352.1,1241.0 L1353.0,1240.3 L1353.8,1240.6 L1354.6,1239.2 L1355.5,1239.3 L1356.3,1240.2 L1357.1,1238.4 L1358.0,1236.8 L1358.8,1234.9 L1359.6,1233.7 L1360.5,1232.8 L1361.3,1232.0 L1362.1,1231.4 L1363.0,1230.7 L1363.8,1228.8 L1364.6,1226.5 L1365.5,1224.3 L1366.3,1222.3 L1367.1,1221.3 L1368.0,1219.0 L1368.8,1216.0 L1369.6,1213.4 L1370.5,1209.1 L1371.3,1204.3 L1372.1,1201.3 L1373.0,1199.3 L1373.8,1197.6 L1374.6,1194.6 L1375.5,1190.9 L1376.3,1188.7 L1377.1,1186.6 L1378.0,1182.0 L1378.8,1178.1 L1379.6,1176.7 L1380.5,1174.2 L1381.3,1171.8 L1382.1,1172.3 L1383.0,1171.4 L1383.8,1169.7 L1384.6,1170.8 L1385.5,1172.6 L1386.3,1173.5 L1387.1,1173.2 L1388.0,1173.0 L1388.8,1175.1 L1389.6,1178.3 L1390.5,1178.6 L1391.3,1176.6 L1392.1,1175.8 L1393.0,1175.9 L1393.8,1177.0 L1394.6,1178.3 L1395.5,1178.3 L1396.3,1178.1 L1397.1,1178.7 L1397.9,1179.0 L1398.8,1179.4 L1399.6,1180.4 L1400.4,1181.0 L1401.3,1181.4 L1402.1,1182.8 L1402.9,1181.6 L1403.8,1179.7 L1404.6,1183.1 L1405.4,1185.4 L1406.3,1184.7 L1407.1,1185.9 L1407.9,1186.5 L1408.8,1187.3 L1409.6,1189.7 L1410.4,1190.6 L1411.3,1192.2 L1412.1,1195.6 L1412.9,1197.7 L1413.8,1200.0 L1414.6,1203.3 L1415.4,1206.6 L1416.3,1211.5 L1417.1,1217.5 L1417.9,1223.5 L1418.8,1229.0 L1419.6,1232.0 L1420.4,1232.9 L1421.3,1234.5 L1422.1,1235.3 L1422.9,1236.2 L1423.8,1238.3 L1424.6,1241.2 L1425.4,1243.1 L1426.3,1246.1 L1427.1,1249.2 L1427.9,1250.3 L1428.8,1250.1 L1429.6,1251.6 L1430.4,1253.8 L1431.3,1254.7 L1432.1,1255.9 L1432.9,1256.4 L1433.8,1257.1 L1434.6,1257.8 L1435.4,1258.4 L1436.3,1259.2 L1437.1,1260.3 L1437.9,1261.6 L1438.8,1262.3 L1439.6,1262.6 L1440.4,1262.9 L1441.3,1262.5 L1442.1,1262.6 L1442.9,1263.1 L1443.8,1264.6 L1444.6,1265.4 L1445.4,1265.5 L1446.3,1267.0 L1447.1,1267.8 L1447.9,1266.5 L1448.8,1265.2 L1449.6,1266.2 L1450.4,1266.9 L1451.3,1267.0 L1452.1,1268.6 L1452.9,1269.9 L1453.8,1268.2 L1454.6,1267.2 L1455.4,1268.3 L1456.3,1269.7 L1457.1,1270.9 L1457.9,1270.7 L1458.7,1269.6 L1459.6,1269.4 L1460.4,1269.6 L1461.2,1269.4 L1462.1,1270.4 L1462.9,1269.7 L1463.7,1269.7 L1464.6,1271.5 L1465.4,1271.2 L1466.2,1270.9 L1467.1,1270.7 L1467.9,1271.0 L1468.7,1272.3 L1469.6,1271.4 L1470.4,1270.3 L1471.2,1271.8 L1472.1,1272.9 L1472.9,1272.4 L1473.7,1271.9 L1474.6,1273.1 L1475.4,1273.7 L1476.2,1273.7 L1477.1,1273.5 L1477.9,1272.9 L1478.7,1273.9 L1479.6,1273.5 L1480.4,1272.6 L1481.2,1273.9 L1482.1,1275.2 L1482.9,1275.4 L1483.7,1275.9 L1484.6,1276.4 L1485.4,1274.9 L1486.2,1273.4 L1487.1,1274.4 L1487.9,1276.0 L1488.7,1276.3 L1489.6,1274.8 L1490.4,1274.7 L1491.2,1276.4 L1492.1,1276.2 L1492.9,1273.7 L1493.7,1273.4 L1494.6,1275.8 L1495.4,1275.4 L1496.2,1274.7 L1497.1,1275.8 L1497.9,1275.5 L1498.7,1275.3 L1499.6,1275.5 L1500.4,1274.3 L1501.2,1274.3 L1502.1,1275.9 L1502.9,1275.5 L1503.7,1274.3 L1504.6,1275.8 L1505.4,1276.6 L1506.2,1276.4 L1507.1,1276.6 L1507.9,1276.7 L1508.7,1276.0 L1509.6,1275.3 L1510.4,1275.9 L1511.2,1276.8 L1512.1,1276.8 L1512.9,1276.4 L1513.7,1276.2 L1514.6,1276.4 L1515.4,1277.3 L1516.2,1276.7 L1517.1,1276.3 L1517.9,1276.2 L1518.7,1274.5 L1519.5,1275.4 L1520.4,1277.4 L1521.2,1277.1 L1522.0,1276.0 L1522.9,1276.0 L1523.7,1277.1 L1524.5,1276.8 L1525.4,1275.9 L1526.2,1276.5 L1527.0,1278.4 L1527.9,1277.8 L1528.7,1276.7 L1529.5,1277.3 L1530.4,1276.9 L1531.2,1275.8 L1532.0,1276.3 L1532.9,1277.6 L1533.7,1276.3 L1534.5,1276.8 L1535.4,1278.1 L1536.2,1277.5 L1537.0,1276.7 L1537.9,1277.0 L1538.7,1279.2 L1539.5,1278.7 L1540.4,1277.6 L1541.2,1277.8 L1542.0,1276.9 L1542.9,1276.5 L1543.7,1277.5 L1544.5,1279.0 L1545.4,1277.7 L1546.2,1276.5 L1547.0,1277.9 L1547.9,1278.4 L1548.7,1276.1 L1549.5,1276.2 L1550.4,1277.9 L1551.2,1277.6 L1552.0,1278.5 L1552.9,1279.2 L1553.7,1277.8 L1554.5,1277.4 L1555.4,1277.4 L1556.2,1277.6 L1557.0,1278.7 L1557.9,1280.2 L1558.7,1279.0 L1559.5,1278.0 L1560.4,1279.7 L1561.2,1280.1 L1562.0,1278.3 L1562.9,1277.8 L1563.7,1278.1 L1564.5,1278.1 L1565.4,1278.5 L1566.2,1278.4 L1567.0,1278.2 L1567.9,1277.9 L1568.7,1278.7 L1569.5,1278.5 L1570.4,1281.2 L1571.2,1282.1 L1572.0,1280.4 L1572.9,1280.4 L1573.7,1280.9 L1574.5,1280.9 L1575.4,1280.4 L1576.2,1279.9 L1577.0,1279.8 L1577.9,1280.9 L1578.7,1282.2 L1579.5,1281.4 L1580.3,1279.7 L1581.2,1280.6 L1582.0,1280.5 L1582.8,1279.8 L1583.7,1279.7 L1584.5,1279.1 L1585.3,1280.4 L1586.2,1280.1 L1587.0,1279.1 L1587.8,1279.3 L1588.7,1279.9 L1589.5,1281.6 L1590.3,1281.5 L1591.2,1280.6 L1592.0,1280.6 L1592.8,1280.2 L1593.7,1281.0 L1594.5,1283.4 L1595.3,1282.6 L1596.2,1280.2 L1597.0,1279.7 L1597.8,1281.9 L1598.7,1284.1 L1599.5,1283.5 L1600.3,1283.0 L1601.2,1280.6 L1602.0,1279.2 L1602.8,1281.0 L1603.7,1280.6 L1604.5,1280.9 L1605.3,1281.5 L1606.2,1280.3 L1607.0,1279.6 L1607.8,1280.0 L1608.7,1280.2 L1609.5,1280.8 L1610.3,1281.7 L1611.2,1281.8 L1612.0,1281.0 L1612.8,1281.3 L1613.7,1282.1 L1614.5,1282.9 L1615.3,1283.7 L1616.2,1282.4 L1617.0,1281.7 L1617.8,1282.1 L1618.7,1283.4 L1619.5,1283.3 L1620.3,1282.1 L1621.2,1282.7 L1622.0,1282.0 L1622.8,1281.1 L1623.7,1281.7 L1624.5,1282.3 L1625.3,1282.7 L1626.2,1282.8 L1627.0,1283.6 L1627.8,1283.1 L1628.7,1282.5 L1629.5,1282.0 L1630.3,1282.8 L1631.2,1284.4 L1632.0,1283.9 L1632.8,1283.4 L1633.7,1282.4 L1634.5,1281.6 L1635.3,1283.0 L1636.2,1284.7 L1637.0,1283.6 L1637.8,1282.6 L1638.6,1283.4 L1639.5,1283.7 L1640.3,1283.1 L1641.1,1282.6 L1642.0,1283.0 L1642.8,1281.9 L1643.6,1281.4 L1644.5,1283.0 L1645.3,1282.8 L1646.1,1282.0 L1647.0,1282.4 L1647.8,1283.6 L1648.6,1284.3 L1649.5,1283.3 L1650.3,1283.9 L1651.1,1284.4 L1652.0,1284.0 L1652.8,1284.0 L1653.6,1284.3 L1654.5,1285.7 L1655.3,1285.7 L1656.1,1284.1 L1657.0,1283.6 L1657.8,1284.2 L1658.6,1284.1 L1659.5,1284.8 L1660.3,1285.5 L1661.1,1284.8 L1662.0,1284.0 L1662.8,1283.7 L1663.6,1284.0 L1664.5,1284.5 L1665.3,1284.9 L1666.1,1284.1 L1667.0,1283.9 L1667.8,1284.4 L1668.6,1284.3 L1669.5,1284.0 L1670.3,1283.6 L1671.1,1283.5 L1672.0,1284.4 L1672.8,1285.1 L1673.6,1284.9 L1674.5,1285.6 L1675.3,1285.3 L1676.1,1284.0 L1677.0,1284.9 L1677.8,1286.4 L1678.6,1284.6 L1679.5,1283.2 L1680.3,1282.6 L1681.1,1283.0 L1682.0,1283.6 L1682.8,1284.1 L1683.6,1285.0 L1684.5,1284.4 L1685.3,1284.3 L1686.1,1284.2 L1687.0,1285.0 L1687.8,1285.4 L1688.6,1285.0 L1689.5,1283.9 L1690.3,1284.3 L1691.1,1285.5 L1692.0,1285.6 L1692.8,1284.5 L1693.6,1284.8 L1694.5,1286.6 L1695.3,1285.7 L1696.1,1284.2 L1697.0,1284.8 L1697.8,1285.0 L1698.6,1284.8 L1699.4,1285.9 L1700.3,1285.2 L1701.1,1283.2 L1701.9,1285.0 L1702.8,1286.5 L1703.6,1285.2 L1704.4,1285.0 L1705.3,1285.2 L1706.1,1284.6 L1706.9,1284.7 L1707.8,1285.5 L1708.6,1285.9 L1709.4,1285.7 L1710.3,1284.5 L1711.1,1284.3 L1711.9,1285.1 L1712.8,1286.6 L1713.6,1286.8 L1714.4,1285.4 L1715.3,1285.6 L1716.1,1285.4 L1716.9,1285.1 L1717.8,1285.4 L1718.6,1285.2 L1719.4,1284.5 L1720.3,1284.4 L1721.1,1285.6 L1721.9,1286.3 L1722.8,1286.3 L1723.6,1286.0 L1724.4,1285.4 L1725.3,1285.4 L1726.1,1285.4 L1726.9,1286.6 L1727.8,1286.7 L1728.6,1285.3" fill="none" stroke="#000000" stroke-width="4.6" stroke-linejoin="round"/>
</g>
<path d="M104.5,29.6 V1307.9 H1728.6 V29.6" fill="none" stroke="#111" stroke-width="3.8" stroke-linejoin="miter"/>
<line x1="187.8" y1="1307.9" x2="187.8" y2="1321.9" stroke="#111" stroke-width="3.6"/>
<line x1="312.7" y1="1307.9" x2="312.7" y2="1334.4" stroke="#111" stroke-width="3.6"/>
<text x="312.7" y="1411.0" text-anchor="middle" class="t" style="font-size:77px">300</text>
<line x1="437.6" y1="1307.9" x2="437.6" y2="1321.9" stroke="#111" stroke-width="3.6"/>
<line x1="562.6" y1="1307.9" x2="562.6" y2="1334.4" stroke="#111" stroke-width="3.6"/>
<text x="562.6" y="1411.0" text-anchor="middle" class="t" style="font-size:77px">600</text>
<line x1="687.5" y1="1307.9" x2="687.5" y2="1321.9" stroke="#111" stroke-width="3.6"/>
<line x1="812.4" y1="1307.9" x2="812.4" y2="1334.4" stroke="#111" stroke-width="3.6"/>
<text x="812.4" y="1411.0" text-anchor="middle" class="t" style="font-size:77px">900</text>
<line x1="937.4" y1="1307.9" x2="937.4" y2="1321.9" stroke="#111" stroke-width="3.6"/>
<line x1="1062.3" y1="1307.9" x2="1062.3" y2="1334.4" stroke="#111" stroke-width="3.6"/>
<text x="1062.3" y="1411.0" text-anchor="middle" class="t" style="font-size:77px">1200</text>
<line x1="1187.2" y1="1307.9" x2="1187.2" y2="1321.9" stroke="#111" stroke-width="3.6"/>
<line x1="1312.2" y1="1307.9" x2="1312.2" y2="1334.4" stroke="#111" stroke-width="3.6"/>
<text x="1312.2" y="1411.0" text-anchor="middle" class="t" style="font-size:77px">1500</text>
<line x1="1437.1" y1="1307.9" x2="1437.1" y2="1321.9" stroke="#111" stroke-width="3.6"/>
<line x1="1562.0" y1="1307.9" x2="1562.0" y2="1334.4" stroke="#111" stroke-width="3.6"/>
<text x="1562.0" y="1411.0" text-anchor="middle" class="t" style="font-size:77px">1800</text>
<line x1="1687.0" y1="1307.9" x2="1687.0" y2="1321.9" stroke="#111" stroke-width="3.6"/>
<text y="1510.0" class="t"><tspan x="601.7">Raman</tspan><tspan x="866.2">shift</tspan><tspan x="1033.8" y="1503.0" font-size="70">(</tspan><tspan x="1056.4" y="1510.0">cm</tspan><tspan x="1151.8" y="1479.0" font-size="52">&#8722;</tspan><tspan x="1181.2" font-size="52">1</tspan><tspan x="1208.7" y="1503.0" font-size="70">)</tspan></text>
<text transform="translate(72.5,879.5) rotate(-90)" class="yl">Intensity (arb. unit)</text>
<text x="233.8" y="130.0" class="pl" letter-spacing="2.0"><tspan font-size="82">(</tspan><tspan dy="8.5">a</tspan><tspan dy="-8.5" font-size="82">)</tspan></text>
<rect x="1068.7" y="29.6" width="661.3" height="555.7" fill="#fff" stroke="#666" stroke-width="2"/>
<line x1="104.5" y1="29.6" x2="1728.6" y2="29.6" stroke="#111" stroke-width="3.8" stroke-linecap="square"/>
<text x="1097.6" y="138.5" class="lt">VACNT</text>
<text x="1399.4" y="138.5" class="lt">400°C</text>
<text x="1628.9" y="138.5" class="lt">O</text>
<text x="1691.2" y="159.3" class="lt" style="font-size:56.5px">2</text>
<line x1="1095.6" y1="230.8" x2="1248.6" y2="230.8" stroke="#1c7a1c" stroke-width="4" stroke-linecap="round"/>
<text x="1268.2" y="255.4" class="lt2">200nm V</text>
<line x1="1095.6" y1="335.0" x2="1248.6" y2="335.0" stroke="#0000f0" stroke-width="4" stroke-linecap="round"/>
<text x="1268.2" y="359.6" class="lt2">150nm V</text>
<line x1="1095.6" y1="435.6" x2="1248.6" y2="435.6" stroke="#f00000" stroke-width="4" stroke-linecap="round"/>
<text x="1268.2" y="460.2" class="lt2">100nm V</text>
<line x1="1095.6" y1="538.7" x2="1248.6" y2="538.7" stroke="#000000" stroke-width="4" stroke-linecap="round"/>
<text x="1268.2" y="563.3" class="lt2">50nm V</text>
<clipPath id="clipb"><rect x="108.3" y="1571.5" width="1623.4" height="1277.7"/></clipPath>
<g clip-path="url(#clipb)">
<path d="M108.3,2172.4 L109.1,2171.7 L110.0,2171.4 L110.8,2172.2 L111.6,2172.2 L112.5,2172.7 L113.3,2173.0 L114.1,2172.8 L115.0,2172.6 L115.8,2172.6 L116.6,2171.8 L117.5,2171.4 L118.3,2172.7 L119.1,2172.5 L120.0,2171.4 L120.8,2170.8 L121.6,2170.4 L122.5,2171.0 L123.3,2171.1 L124.1,2170.7 L125.0,2171.7 L125.8,2171.7 L126.6,2172.1 L127.4,2172.0 L128.3,2171.8 L129.1,2171.9 L129.9,2171.5 L130.8,2171.7 L131.6,2171.4 L132.4,2171.1 L133.3,2170.7 L134.1,2170.5 L134.9,2170.9 L135.8,2171.1 L136.6,2171.1 L137.4,2170.7 L138.3,2169.4 L139.1,2168.4 L139.9,2167.8 L140.8,2165.9 L141.6,2162.2 L142.4,2156.5 L143.3,2149.2 L144.1,2141.0 L144.9,2133.3 L145.8,2128.0 L146.6,2126.8 L147.4,2131.2 L148.3,2140.0 L149.1,2148.5 L149.9,2155.1 L150.8,2160.9 L151.6,2164.6 L152.4,2167.1 L153.3,2168.9 L154.1,2168.9 L154.9,2168.5 L155.8,2169.1 L156.6,2169.1 L157.4,2169.0 L158.3,2169.4 L159.1,2168.9 L159.9,2169.1 L160.7,2169.7 L161.6,2169.3 L162.4,2168.8 L163.2,2168.9 L164.1,2168.2 L164.9,2168.2 L165.7,2167.9 L166.6,2166.4 L167.4,2165.8 L168.2,2165.8 L169.1,2165.0 L169.9,2163.8 L170.7,2162.8 L171.6,2161.0 L172.4,2155.1 L173.2,2146.8 L174.1,2135.6 L174.9,2115.3 L175.7,2085.3 L176.6,2043.1 L177.4,1987.3 L178.2,1918.5 L179.1,1839.9 L179.9,1760.4 L180.7,1690.8 L181.6,1642.7 L182.4,1625.3 L183.2,1642.9 L184.1,1691.6 L184.9,1760.9 L185.7,1839.7 L186.6,1917.1 L187.4,1986.5 L188.2,2043.5 L189.1,2087.0 L189.9,2116.3 L190.7,2135.2 L191.6,2148.3 L192.4,2156.0 L193.2,2160.3 L194.0,2162.2 L194.9,2164.0 L195.7,2165.0 L196.5,2165.3 L197.4,2165.9 L198.2,2166.1 L199.0,2166.1 L199.9,2167.2 L200.7,2168.1 L201.5,2168.8 L202.4,2168.8 L203.2,2168.7 L204.0,2168.9 L204.9,2169.1 L205.7,2168.8 L206.5,2168.6 L207.4,2169.1 L208.2,2169.0 L209.0,2168.6 L209.9,2169.4 L210.7,2170.5 L211.5,2170.0 L212.4,2169.9 L213.2,2169.5 L214.0,2169.1 L214.9,2169.1 L215.7,2168.0 L216.5,2166.6 L217.4,2165.3 L218.2,2164.0 L219.0,2161.4 L219.9,2158.6 L220.7,2156.2 L221.5,2153.3 L222.4,2151.2 L223.2,2150.1 L224.0,2149.8 L224.9,2150.0 L225.7,2151.7 L226.5,2153.8 L227.3,2156.7 L228.2,2160.4 L229.0,2162.4 L229.8,2164.8 L230.7,2166.5 L231.5,2167.2 L232.3,2168.9 L233.2,2169.5 L234.0,2169.8 L234.8,2169.9 L235.7,2169.3 L236.5,2169.9 L237.3,2170.9 L238.2,2170.6 L239.0,2169.9 L239.8,2170.4 L240.7,2170.7 L241.5,2170.6 L242.3,2170.5 L243.2,2170.6 L244.0,2171.2 L244.8,2171.1 L245.7,2170.6 L246.5,2170.2 L247.3,2170.3 L248.2,2171.3 L249.0,2171.5 L249.8,2170.9 L250.7,2171.0 L251.5,2171.4 L252.3,2170.0 L253.2,2169.3 L254.0,2170.8 L254.8,2170.9 L255.7,2169.8 L256.5,2170.4 L257.3,2171.6 L258.2,2171.4 L259.0,2171.2 L259.8,2171.5 L260.6,2170.5 L261.5,2170.2 L262.3,2170.9 L263.1,2170.8 L264.0,2170.7 L264.8,2170.9 L265.6,2170.6 L266.5,2169.6 L267.3,2169.8 L268.1,2170.8 L269.0,2170.8 L269.8,2170.6 L270.6,2170.8 L271.5,2170.8 L272.3,2170.9 L273.1,2170.3 L274.0,2170.2 L274.8,2170.0 L275.6,2169.1 L276.5,2169.1 L277.3,2169.7 L278.1,2169.3 L279.0,2168.5 L279.8,2169.1 L280.6,2169.3 L281.5,2168.6 L282.3,2167.3 L283.1,2166.1 L284.0,2165.0 L284.8,2163.7 L285.6,2161.9 L286.5,2159.1 L287.3,2154.9 L288.1,2148.9 L289.0,2141.9 L289.8,2133.6 L290.6,2122.8 L291.5,2110.6 L292.3,2097.2 L293.1,2081.1 L294.0,2066.0 L294.8,2053.4 L295.6,2044.9 L296.4,2040.8 L297.3,2041.2 L298.1,2047.6 L298.9,2058.1 L299.8,2071.2 L300.6,2085.6 L301.4,2099.9 L302.3,2113.1 L303.1,2124.1 L303.9,2133.4 L304.8,2140.8 L305.6,2145.8 L306.4,2148.6 L307.3,2149.6 L308.1,2148.6 L308.9,2147.5 L309.8,2146.5 L310.6,2144.5 L311.4,2143.0 L312.3,2143.6 L313.1,2144.7 L313.9,2146.5 L314.8,2149.8 L315.6,2152.3 L316.4,2155.8 L317.3,2158.9 L318.1,2161.1 L318.9,2163.4 L319.8,2164.9 L320.6,2165.3 L321.4,2166.2 L322.3,2167.1 L323.1,2167.4 L323.9,2167.7 L324.8,2168.1 L325.6,2167.7 L326.4,2166.1 L327.3,2166.2 L328.1,2166.4 L328.9,2166.8 L329.7,2169.1 L330.6,2169.3 L331.4,2169.4 L332.2,2170.5 L333.1,2170.4 L333.9,2170.8 L334.7,2170.9 L335.6,2171.1 L336.4,2171.7 L337.2,2171.4 L338.1,2170.9 L338.9,2171.1 L339.7,2171.2 L340.6,2171.1 L341.4,2170.8 L342.2,2170.5 L343.1,2170.8 L343.9,2171.6 L344.7,2171.8 L345.6,2171.4 L346.4,2171.8 L347.2,2172.3 L348.1,2171.9 L348.9,2171.5 L349.7,2171.5 L350.6,2171.4 L351.4,2171.3 L352.2,2171.4 L353.1,2171.5 L353.9,2172.4 L354.7,2172.2 L355.6,2171.9 L356.4,2171.9 L357.2,2170.9 L358.1,2171.0 L358.9,2171.1 L359.7,2171.0 L360.6,2170.8 L361.4,2170.7 L362.2,2170.8 L363.0,2170.8 L363.9,2171.2 L364.7,2171.4 L365.5,2170.9 L366.4,2170.0 L367.2,2170.4 L368.0,2170.9 L368.9,2170.8 L369.7,2170.9 L370.5,2171.3 L371.4,2172.0 L372.2,2170.5 L373.0,2169.7 L373.9,2170.8 L374.7,2170.9 L375.5,2171.4 L376.4,2172.4 L377.2,2171.8 L378.0,2170.9 L378.9,2171.6 L379.7,2171.1 L380.5,2171.0 L381.4,2171.1 L382.2,2169.8 L383.0,2169.9 L383.9,2170.7 L384.7,2170.6 L385.5,2169.9 L386.4,2168.3 L387.2,2168.1 L388.0,2167.2 L388.9,2164.2 L389.7,2162.4 L390.5,2160.9 L391.4,2157.9 L392.2,2153.5 L393.0,2149.1 L393.9,2145.0 L394.7,2142.4 L395.5,2140.6 L396.3,2139.8 L397.2,2140.5 L398.0,2142.2 L398.8,2145.3 L399.7,2149.0 L400.5,2153.1 L401.3,2157.6 L402.2,2161.3 L403.0,2164.3 L403.8,2166.0 L404.7,2167.1 L405.5,2168.7 L406.3,2169.2 L407.2,2168.7 L408.0,2168.9 L408.8,2169.9 L409.7,2171.6 L410.5,2171.4 L411.3,2170.4 L412.2,2170.5 L413.0,2170.3 L413.8,2170.6 L414.7,2170.3 L415.5,2170.0 L416.3,2170.8 L417.2,2170.8 L418.0,2170.8 L418.8,2171.2 L419.7,2170.7 L420.5,2170.5 L421.3,2170.3 L422.2,2171.1 L423.0,2171.4 L423.8,2171.0 L424.7,2171.3 L425.5,2171.9 L426.3,2171.3 L427.2,2170.2 L428.0,2170.6 L428.8,2170.9 L429.6,2170.6 L430.5,2169.7 L431.3,2169.7 L432.1,2170.6 L433.0,2170.7 L433.8,2169.6 L434.6,2169.6 L435.5,2170.7 L436.3,2170.0 L437.1,2169.5 L438.0,2169.6 L438.8,2169.4 L439.6,2169.5 L440.5,2168.2 L441.3,2167.7 L442.1,2168.0 L443.0,2166.3 L443.8,2164.3 L444.6,2163.0 L445.5,2162.7 L446.3,2163.5 L447.1,2163.1 L448.0,2161.6 L448.8,2160.4 L449.6,2158.9 L450.5,2156.5 L451.3,2155.1 L452.1,2154.0 L453.0,2151.8 L453.8,2150.4 L454.6,2150.1 L455.5,2148.3 L456.3,2146.3 L457.1,2145.4 L458.0,2144.1 L458.8,2143.2 L459.6,2143.1 L460.5,2143.3 L461.3,2143.8 L462.1,2144.1 L463.0,2144.9 L463.8,2146.0 L464.6,2146.8 L465.4,2148.7 L466.3,2150.4 L467.1,2152.0 L467.9,2152.7 L468.8,2155.0 L469.6,2157.4 L470.4,2158.8 L471.3,2160.7 L472.1,2161.3 L472.9,2161.6 L473.8,2162.0 L474.6,2163.8 L475.4,2165.2 L476.3,2165.3 L477.1,2165.3 L477.9,2165.6 L478.8,2166.5 L479.6,2167.0 L480.4,2166.2 L481.3,2166.0 L482.1,2166.0 L482.9,2165.2 L483.8,2165.5 L484.6,2165.6 L485.4,2164.0 L486.3,2162.7 L487.1,2162.2 L487.9,2160.1 L488.8,2158.6 L489.6,2157.5 L490.4,2155.4 L491.3,2153.4 L492.1,2151.1 L492.9,2149.2 L493.8,2146.9 L494.6,2145.9 L495.4,2145.7 L496.3,2144.6 L497.1,2143.8 L497.9,2143.4 L498.7,2143.5 L499.6,2143.6 L500.4,2144.7 L501.2,2147.2 L502.1,2149.0 L502.9,2150.9 L503.7,2151.8 L504.6,2153.2 L505.4,2155.3 L506.2,2157.5 L507.1,2159.8 L507.9,2161.0 L508.7,2161.5 L509.6,2161.7 L510.4,2163.6 L511.2,2166.1 L512.1,2167.0 L512.9,2166.9 L513.7,2166.8 L514.6,2167.1 L515.4,2168.3 L516.2,2169.9 L517.1,2169.9 L517.9,2170.3 L518.7,2170.4 L519.6,2169.9 L520.4,2169.9 L521.2,2169.7 L522.1,2170.4 L522.9,2170.5 L523.7,2170.8 L524.6,2170.9 L525.4,2170.3 L526.2,2170.5 L527.1,2170.6 L527.9,2170.5 L528.7,2170.1 L529.6,2170.4 L530.4,2171.6 L531.2,2171.9 L532.0,2171.3 L532.9,2171.0 L533.7,2171.0 L534.5,2170.4 L535.4,2169.6 L536.2,2169.4 L537.0,2169.2 L537.9,2170.0 L538.7,2171.0 L539.5,2170.1 L540.4,2170.2 L541.2,2171.0 L542.0,2170.0 L542.9,2170.0 L543.7,2170.0 L544.5,2169.6 L545.4,2170.5 L546.2,2170.9 L547.0,2169.9 L547.9,2170.3 L548.7,2170.5 L549.5,2169.9 L550.4,2170.1 L551.2,2170.5 L552.0,2170.3 L552.9,2169.9 L553.7,2170.0 L554.5,2169.5 L555.4,2169.6 L556.2,2171.1 L557.0,2171.3 L557.9,2170.6 L558.7,2170.7 L559.5,2171.1 L560.4,2170.8 L561.2,2169.9 L562.0,2170.2 L562.9,2171.4 L563.7,2171.4 L564.5,2170.6 L565.3,2170.3 L566.2,2170.0 L567.0,2169.9 L567.8,2169.9 L568.7,2170.0 L569.5,2169.5 L570.3,2169.3 L571.2,2170.2 L572.0,2170.5 L572.8,2169.9 L573.7,2169.7 L574.5,2169.6 L575.3,2169.9 L576.2,2170.4 L577.0,2170.0 L577.8,2169.4 L578.7,2169.6 L579.5,2169.7 L580.3,2169.5 L581.2,2168.9 L582.0,2168.9 L582.8,2169.6 L583.7,2169.4 L584.5,2169.5 L585.3,2169.0 L586.2,2168.7 L587.0,2169.9 L587.8,2169.0 L588.7,2167.9 L589.5,2168.7 L590.3,2169.2 L591.2,2169.4 L592.0,2169.1 L592.8,2168.3 L593.7,2168.5 L594.5,2168.7 L595.3,2168.1 L596.2,2167.8 L597.0,2167.6 L597.8,2168.0 L598.7,2167.4 L599.5,2167.1 L600.3,2167.2 L601.1,2167.1 L602.0,2167.1 L602.8,2166.6 L603.6,2166.9 L604.5,2167.7 L605.3,2167.3 L606.1,2166.2 L607.0,2166.0 L607.8,2165.9 L608.6,2166.1 L609.5,2166.2 L610.3,2166.9 L611.1,2166.6 L612.0,2165.9 L612.8,2166.3 L613.6,2165.9 L614.5,2166.4 L615.3,2167.1 L616.1,2165.6 L617.0,2164.7 L617.8,2164.6 L618.6,2164.4 L619.5,2164.4 L620.3,2163.8 L621.1,2163.2 L622.0,2162.5 L622.8,2161.1 L623.6,2159.4 L624.5,2158.4 L625.3,2157.0 L626.1,2154.6 L627.0,2153.1 L627.8,2151.1 L628.6,2147.5 L629.5,2144.8 L630.3,2141.2 L631.1,2137.3 L632.0,2134.0 L632.8,2129.8 L633.6,2125.2 L634.4,2120.6 L635.3,2116.1 L636.1,2111.6 L636.9,2107.0 L637.8,2103.2 L638.6,2100.7 L639.4,2097.5 L640.3,2093.5 L641.1,2092.2 L641.9,2093.1 L642.8,2093.6 L643.6,2094.4 L644.4,2096.8 L645.3,2100.0 L646.1,2104.0 L646.9,2108.8 L647.8,2113.2 L648.6,2116.6 L649.4,2120.9 L650.3,2126.6 L651.1,2131.3 L651.9,2136.0 L652.8,2139.9 L653.6,2143.0 L654.4,2146.4 L655.3,2150.1 L656.1,2153.2 L656.9,2155.6 L657.8,2157.7 L658.6,2159.4 L659.4,2161.3 L660.3,2161.9 L661.1,2162.3 L661.9,2163.9 L662.8,2165.5 L663.6,2166.6 L664.4,2167.3 L665.3,2166.9 L666.1,2167.6 L666.9,2167.8 L667.7,2167.6 L668.6,2168.0 L669.4,2167.5 L670.2,2168.3 L671.1,2168.5 L671.9,2168.1 L672.7,2168.9 L673.6,2168.6 L674.4,2168.9 L675.2,2169.7 L676.1,2169.8 L676.9,2169.9 L677.7,2169.8 L678.6,2170.6 L679.4,2170.1 L680.2,2170.2 L681.1,2170.7 L681.9,2170.2 L682.7,2170.6 L683.6,2170.5 L684.4,2170.5 L685.2,2170.5 L686.1,2170.7 L686.9,2171.4 L687.7,2171.7 L688.6,2171.2 L689.4,2170.6 L690.2,2171.3 L691.1,2171.7 L691.9,2171.5 L692.7,2171.2 L693.6,2171.5 L694.4,2172.4 L695.2,2171.7 L696.1,2171.6 L696.9,2172.7 L697.7,2171.9 L698.6,2171.5 L699.4,2171.8 L700.2,2171.5 L701.0,2171.2 L701.9,2172.1 L702.7,2172.4 L703.5,2171.8 L704.4,2172.1 L705.2,2172.1 L706.0,2172.4 L706.9,2171.8 L707.7,2171.3 L708.5,2172.2 L709.4,2172.8 L710.2,2172.4 L711.0,2171.5 L711.9,2171.1 L712.7,2171.8 L713.5,2172.4 L714.4,2171.9 L715.2,2172.0 L716.0,2172.1 L716.9,2171.9 L717.7,2172.3 L718.5,2172.7 L719.4,2172.4 L720.2,2171.7 L721.0,2171.8 L721.9,2171.8 L722.7,2172.3 L723.5,2172.3 L724.4,2171.6 L725.2,2171.3 L726.0,2172.4 L726.9,2173.2 L727.7,2172.7 L728.5,2173.2 L729.4,2173.5 L730.2,2172.5 L731.0,2171.9 L731.9,2172.2 L732.7,2171.8 L733.5,2171.2 L734.3,2171.9 L735.2,2172.8 L736.0,2172.8 L736.8,2172.8 L737.7,2173.0 L738.5,2172.6 L739.3,2172.2 L740.2,2172.7 L741.0,2172.8 L741.8,2173.3 L742.7,2173.3 L743.5,2173.2 L744.3,2172.8 L745.2,2173.0 L746.0,2173.0 L746.8,2171.5 L747.7,2172.0 L748.5,2172.5 L749.3,2172.8 L750.2,2172.6 L751.0,2171.9 L751.8,2172.7 L752.7,2172.6 L753.5,2172.3 L754.3,2172.9 L755.2,2173.0 L756.0,2173.2 L756.8,2172.1 L757.7,2171.8 L758.5,2171.9 L759.3,2171.6 L760.2,2172.0 L761.0,2171.8 L761.8,2172.4 L762.7,2172.0 L763.5,2171.1 L764.3,2171.4 L765.2,2172.1 L766.0,2172.1 L766.8,2172.1 L767.7,2173.0 L768.5,2173.5 L769.3,2173.4 L770.1,2172.9 L771.0,2172.9 L771.8,2172.3 L772.6,2172.2 L773.5,2173.3 L774.3,2173.2 L775.1,2171.9 L776.0,2171.4 L776.8,2172.3 L777.6,2172.9 L778.5,2173.0 L779.3,2173.2 L780.1,2173.9 L781.0,2173.8 L781.8,2173.3 L782.6,2172.5 L783.5,2172.2 L784.3,2172.8 L785.1,2173.0 L786.0,2172.9 L786.8,2172.3 L787.6,2172.7 L788.5,2173.3 L789.3,2172.2 L790.1,2172.6 L791.0,2173.2 L791.8,2172.5 L792.6,2172.8 L793.5,2173.4 L794.3,2172.4 L795.1,2171.7 L796.0,2172.7 L796.8,2172.8 L797.6,2172.5 L798.5,2172.2 L799.3,2172.5 L800.1,2172.7 L801.0,2172.2 L801.8,2171.7 L802.6,2172.9 L803.4,2174.5 L804.3,2173.6 L805.1,2173.8 L805.9,2174.7 L806.8,2173.8 L807.6,2172.0 L808.4,2171.8 L809.3,2173.6 L810.1,2174.3 L810.9,2173.1 L811.8,2172.5 L812.6,2172.8 L813.4,2172.9 L814.3,2173.3 L815.1,2173.0 L815.9,2172.7 L816.8,2172.4 L817.6,2172.5 L818.4,2172.8 L819.3,2173.0 L820.1,2173.6 L820.9,2173.1 L821.8,2172.9 L822.6,2172.4 L823.4,2172.6 L824.3,2172.8 L825.1,2172.7 L825.9,2172.7 L826.8,2173.1 L827.6,2173.0 L828.4,2172.0 L829.3,2172.0 L830.1,2172.3 L830.9,2173.2 L831.8,2173.2 L832.6,2173.2 L833.4,2172.9 L834.3,2172.4 L835.1,2173.0 L835.9,2172.7 L836.7,2172.4 L837.6,2172.4 L838.4,2172.5 L839.2,2172.7 L840.1,2172.6 L840.9,2172.6 L841.7,2172.5 L842.6,2172.7 L843.4,2172.8 L844.2,2173.4 L845.1,2173.2 L845.9,2172.9 L846.7,2173.4 L847.6,2172.9 L848.4,2172.5 L849.2,2172.9 L850.1,2172.7 L850.9,2172.3 L851.7,2172.3 L852.6,2173.0 L853.4,2172.8 L854.2,2172.1 L855.1,2172.3 L855.9,2172.5 L856.7,2172.9 L857.6,2173.1 L858.4,2173.4 L859.2,2173.3 L860.1,2171.9 L860.9,2172.2 L861.7,2172.5 L862.6,2172.1 L863.4,2172.4 L864.2,2172.5 L865.1,2173.0 L865.9,2173.1 L866.7,2172.8 L867.6,2172.4 L868.4,2172.2 L869.2,2172.2 L870.0,2171.8 L870.9,2171.8 L871.7,2171.8 L872.5,2172.1 L873.4,2172.1 L874.2,2171.4 L875.0,2170.6 L875.9,2170.0 L876.7,2170.1 L877.5,2169.5 L878.4,2167.8 L879.2,2166.6 L880.0,2163.8 L880.9,2158.7 L881.7,2151.5 L882.5,2142.2 L883.4,2131.0 L884.2,2116.7 L885.0,2100.9 L885.9,2088.6 L886.7,2080.3 L887.5,2078.3 L888.4,2085.6 L889.2,2098.0 L890.0,2113.7 L890.9,2128.5 L891.7,2140.2 L892.5,2150.3 L893.4,2157.4 L894.2,2163.1 L895.0,2166.5 L895.9,2168.3 L896.7,2170.1 L897.5,2170.6 L898.4,2170.8 L899.2,2171.4 L900.0,2171.9 L900.9,2171.7 L901.7,2171.7 L902.5,2171.8 L903.3,2171.6 L904.2,2171.5 L905.0,2172.7 L905.8,2173.6 L906.7,2172.8 L907.5,2172.9 L908.3,2173.0 L909.2,2172.6 L910.0,2173.6 L910.8,2173.9 L911.7,2172.7 L912.5,2172.8 L913.3,2173.0 L914.2,2172.8 L915.0,2173.2 L915.8,2173.4 L916.7,2173.4 L917.5,2173.5 L918.3,2173.8 L919.2,2173.0 L920.0,2173.0 L920.8,2173.2 L921.7,2173.0 L922.5,2173.1 L923.3,2173.3 L924.2,2173.1 L925.0,2173.2 L925.8,2173.5 L926.7,2173.5 L927.5,2173.4 L928.3,2172.7 L929.2,2172.1 L930.0,2172.3 L930.8,2173.4 L931.7,2173.2 L932.5,2173.5 L933.3,2174.8 L934.2,2173.7 L935.0,2173.1 L935.8,2174.1 L936.7,2174.4 L937.5,2173.7 L938.3,2172.7 L939.1,2172.0 L940.0,2172.7 L940.8,2173.8 L941.6,2173.5 L942.5,2172.9 L943.3,2172.9 L944.1,2173.3 L945.0,2173.4 L945.8,2173.5 L946.6,2173.9 L947.5,2174.5 L948.3,2174.3 L949.1,2174.4 L950.0,2174.8 L950.8,2174.3 L951.6,2173.0 L952.5,2172.3 L953.3,2172.9 L954.1,2173.7 L955.0,2174.1 L955.8,2173.1 L956.6,2172.8 L957.5,2172.9 L958.3,2172.8 L959.1,2173.3 L960.0,2173.4 L960.8,2173.8 L961.6,2174.0 L962.5,2174.2 L963.3,2174.3 L964.1,2174.7 L965.0,2174.7 L965.8,2174.5 L966.6,2174.0 L967.5,2173.2 L968.3,2173.7 L969.1,2174.0 L970.0,2174.1 L970.8,2174.3 L971.6,2173.8 L972.4,2173.7 L973.3,2173.6 L974.1,2173.6 L974.9,2173.6 L975.8,2174.0 L976.6,2173.8 L977.4,2174.2 L978.3,2175.0 L979.1,2174.4 L979.9,2173.3 L980.8,2173.4 L981.6,2174.3 L982.4,2174.1 L983.3,2174.2 L984.1,2174.3 L984.9,2173.2 L985.8,2173.4 L986.6,2174.5 L987.4,2174.1 L988.3,2174.4 L989.1,2174.4 L989.9,2173.9 L990.8,2173.5 L991.6,2173.6 L992.4,2174.3 L993.3,2174.3 L994.1,2174.0 L994.9,2174.0 L995.8,2173.9 L996.6,2173.6 L997.4,2172.8 L998.3,2173.1 L999.1,2173.6 L999.9,2173.5 L1000.8,2174.2 L1001.6,2174.1 L1002.4,2174.1 L1003.3,2174.2 L1004.1,2174.4 L1004.9,2174.7 L1005.7,2174.6 L1006.6,2174.9 L1007.4,2174.7 L1008.2,2174.7 L1009.1,2174.4 L1009.9,2173.3 L1010.7,2173.0 L1011.6,2173.5 L1012.4,2173.9 L1013.2,2174.0 L1014.1,2174.7 L1014.9,2175.1 L1015.7,2174.6 L1016.6,2174.5 L1017.4,2174.4 L1018.2,2174.3 L1019.1,2174.2 L1019.9,2174.0 L1020.7,2174.2 L1021.6,2174.3 L1022.4,2174.5 L1023.2,2174.3 L1024.1,2174.2 L1024.9,2174.2 L1025.7,2173.9 L1026.6,2173.6 L1027.4,2174.3 L1028.2,2174.3 L1029.1,2173.8 L1029.9,2173.9 L1030.7,2174.3 L1031.6,2174.5 L1032.4,2173.9 L1033.2,2173.6 L1034.1,2173.7 L1034.9,2174.1 L1035.7,2175.2 L1036.6,2174.4 L1037.4,2173.8 L1038.2,2174.2 L1039.0,2174.1 L1039.9,2174.4 L1040.7,2175.1 L1041.5,2175.6 L1042.4,2174.7 L1043.2,2174.4 L1044.0,2174.9 L1044.9,2174.5 L1045.7,2174.8 L1046.5,2174.5 L1047.4,2173.4 L1048.2,2173.3 L1049.0,2172.9 L1049.9,2173.5 L1050.7,2174.4 L1051.5,2174.7 L1052.4,2174.5 L1053.2,2174.4 L1054.0,2174.9 L1054.9,2174.8 L1055.7,2173.8 L1056.5,2174.2 L1057.4,2174.6 L1058.2,2174.2 L1059.0,2174.4 L1059.9,2174.8 L1060.7,2174.6 L1061.5,2174.2 L1062.4,2174.0 L1063.2,2174.0 L1064.0,2173.9 L1064.9,2174.3 L1065.7,2174.3 L1066.5,2174.2 L1067.4,2174.7 L1068.2,2174.8 L1069.0,2173.9 L1069.9,2173.4 L1070.7,2174.7 L1071.5,2174.7 L1072.3,2174.1 L1073.2,2173.7 L1074.0,2173.8 L1074.8,2174.2 L1075.7,2174.8 L1076.5,2174.7 L1077.3,2173.9 L1078.2,2173.5 L1079.0,2174.1 L1079.8,2174.6 L1080.7,2175.0 L1081.5,2175.1 L1082.3,2174.3 L1083.2,2174.3 L1084.0,2174.6 L1084.8,2174.0 L1085.7,2174.3 L1086.5,2174.9 L1087.3,2174.8 L1088.2,2174.8 L1089.0,2174.8 L1089.8,2175.0 L1090.7,2174.7 L1091.5,2174.5 L1092.3,2174.7 L1093.2,2175.5 L1094.0,2175.4 L1094.8,2173.9 L1095.7,2173.9 L1096.5,2174.0 L1097.3,2175.1 L1098.2,2175.3 L1099.0,2173.9 L1099.8,2174.1 L1100.7,2174.8 L1101.5,2174.8 L1102.3,2173.8 L1103.2,2174.1 L1104.0,2174.2 L1104.8,2173.8 L1105.7,2174.7 L1106.5,2175.6 L1107.3,2175.4 L1108.1,2174.5 L1109.0,2174.9 L1109.8,2175.2 L1110.6,2174.8 L1111.5,2174.8 L1112.3,2174.7 L1113.1,2174.2 L1114.0,2174.2 L1114.8,2174.1 L1115.6,2174.0 L1116.5,2175.0 L1117.3,2174.8 L1118.1,2174.5 L1119.0,2174.8 L1119.8,2174.6 L1120.6,2175.4 L1121.5,2174.4 L1122.3,2173.4 L1123.1,2174.6 L1124.0,2175.0 L1124.8,2175.5 L1125.6,2175.3 L1126.5,2175.0 L1127.3,2174.6 L1128.1,2174.1 L1129.0,2174.9 L1129.8,2175.7 L1130.6,2174.9 L1131.5,2174.0 L1132.3,2174.0 L1133.1,2174.7 L1134.0,2175.4 L1134.8,2175.0 L1135.6,2174.5 L1136.5,2174.5 L1137.3,2175.4 L1138.1,2175.6 L1139.0,2175.8 L1139.8,2175.2 L1140.6,2174.4 L1141.4,2175.0 L1142.3,2174.4 L1143.1,2174.4 L1143.9,2174.8 L1144.8,2174.4 L1145.6,2175.1 L1146.4,2174.9 L1147.3,2174.9 L1148.1,2174.7 L1148.9,2174.3 L1149.8,2174.8 L1150.6,2174.7 L1151.4,2174.5 L1152.3,2174.8 L1153.1,2174.3 L1153.9,2173.9 L1154.8,2174.3 L1155.6,2175.0 L1156.4,2175.1 L1157.3,2174.4 L1158.1,2175.2 L1158.9,2175.7 L1159.8,2174.7 L1160.6,2174.3 L1161.4,2174.2 L1162.3,2174.3 L1163.1,2174.0 L1163.9,2173.8 L1164.8,2174.9 L1165.6,2175.3 L1166.4,2175.2 L1167.3,2175.5 L1168.1,2175.2 L1168.9,2175.1 L1169.8,2175.2 L1170.6,2174.6 L1171.4,2174.1 L1172.3,2175.0 L1173.1,2175.6 L1173.9,2176.0 L1174.7,2176.0 L1175.6,2175.3 L1176.4,2175.4 L1177.2,2175.3 L1178.1,2175.0 L1178.9,2174.8 L1179.7,2175.6 L1180.6,2176.3 L1181.4,2175.0 L1182.2,2174.2 L1183.1,2174.4 L1183.9,2175.5 L1184.7,2176.3 L1185.6,2175.9 L1186.4,2175.2 L1187.2,2175.3 L1188.1,2176.2 L1188.9,2175.6 L1189.7,2174.5 L1190.6,2174.9 L1191.4,2174.8 L1192.2,2174.9 L1193.1,2175.4 L1193.9,2175.6 L1194.7,2176.1 L1195.6,2176.2 L1196.4,2175.6 L1197.2,2174.9 L1198.1,2175.3 L1198.9,2176.1 L1199.7,2175.3 L1200.6,2175.1 L1201.4,2174.6 L1202.2,2174.2 L1203.1,2174.7 L1203.9,2175.1 L1204.7,2175.6 L1205.6,2175.4 L1206.4,2175.2 L1207.2,2175.3 L1208.0,2175.8 L1208.9,2175.0 L1209.7,2174.6 L1210.5,2175.2 L1211.4,2174.7 L1212.2,2175.1 L1213.0,2176.4 L1213.9,2176.8 L1214.7,2176.4 L1215.5,2175.2 L1216.4,2175.3 L1217.2,2175.9 L1218.0,2174.8 L1218.9,2175.1 L1219.7,2175.5 L1220.5,2174.9 L1221.4,2175.5 L1222.2,2175.5 L1223.0,2174.4 L1223.9,2174.5 L1224.7,2174.9 L1225.5,2174.7 L1226.4,2175.2 L1227.2,2175.7 L1228.0,2175.5 L1228.9,2175.4 L1229.7,2175.2 L1230.5,2175.7 L1231.4,2176.1 L1232.2,2175.7 L1233.0,2175.1 L1233.9,2175.4 L1234.7,2175.8 L1235.5,2175.5 L1236.4,2175.4 L1237.2,2175.2 L1238.0,2175.4 L1238.9,2174.8 L1239.7,2175.7 L1240.5,2175.8 L1241.3,2174.8 L1242.2,2175.1 L1243.0,2175.0 L1243.8,2175.0 L1244.7,2175.4 L1245.5,2174.9 L1246.3,2174.6 L1247.2,2175.4 L1248.0,2175.4 L1248.8,2175.1 L1249.7,2175.5 L1250.5,2176.6 L1251.3,2176.0 L1252.2,2175.1 L1253.0,2175.2 L1253.8,2175.4 L1254.7,2175.6 L1255.5,2175.8 L1256.3,2176.3 L1257.2,2176.0 L1258.0,2175.5 L1258.8,2175.3 L1259.7,2175.6 L1260.5,2175.6 L1261.3,2175.3 L1262.2,2175.9 L1263.0,2175.8 L1263.8,2175.3 L1264.7,2175.0 L1265.5,2174.7 L1266.3,2174.7 L1267.2,2174.7 L1268.0,2174.9 L1268.8,2175.5 L1269.7,2176.2 L1270.5,2176.6 L1271.3,2176.0 L1272.2,2174.8 L1273.0,2174.7 L1273.8,2175.8 L1274.7,2176.2 L1275.5,2174.9 L1276.3,2174.9 L1277.1,2176.5 L1278.0,2176.7 L1278.8,2176.0 L1279.6,2176.2 L1280.5,2176.6 L1281.3,2175.8 L1282.1,2175.4 L1283.0,2176.3 L1283.8,2175.9 L1284.6,2176.2 L1285.5,2176.7 L1286.3,2175.7 L1287.1,2176.0 L1288.0,2176.0 L1288.8,2175.4 L1289.6,2175.8 L1290.5,2175.5 L1291.3,2175.7 L1292.1,2176.3 L1293.0,2175.5 L1293.8,2175.1 L1294.6,2175.2 L1295.5,2175.5 L1296.3,2175.6 L1297.1,2175.2 L1298.0,2175.0 L1298.8,2175.3 L1299.6,2175.1 L1300.5,2174.9 L1301.3,2175.4 L1302.1,2175.9 L1303.0,2176.1 L1303.8,2175.9 L1304.6,2175.8 L1305.5,2176.0 L1306.3,2175.8 L1307.1,2175.5 L1308.0,2175.0 L1308.8,2175.6 L1309.6,2176.3 L1310.4,2175.6 L1311.3,2176.2 L1312.1,2176.1 L1312.9,2175.5 L1313.8,2175.5 L1314.6,2175.9 L1315.4,2176.1 L1316.3,2175.6 L1317.1,2176.1 L1317.9,2176.4 L1318.8,2176.1 L1319.6,2174.9 L1320.4,2175.6 L1321.3,2176.7 L1322.1,2176.5 L1322.9,2175.9 L1323.8,2175.7 L1324.6,2175.8 L1325.4,2176.2 L1326.3,2176.7 L1327.1,2176.6 L1327.9,2176.3 L1328.8,2175.9 L1329.6,2175.6 L1330.4,2175.5 L1331.3,2176.0 L1332.1,2176.8 L1332.9,2177.0 L1333.8,2176.5 L1334.6,2176.7 L1335.4,2176.6 L1336.3,2175.6 L1337.1,2175.6 L1337.9,2176.1 L1338.8,2176.6 L1339.6,2176.4 L1340.4,2175.9 L1341.3,2175.8 L1342.1,2175.4 L1342.9,2175.7 L1343.7,2175.9 L1344.6,2176.1 L1345.4,2176.0 L1346.2,2175.5 L1347.1,2175.9 L1347.9,2176.6 L1348.7,2176.9 L1349.6,2176.1 L1350.4,2175.2 L1351.2,2175.9 L1352.1,2176.4 L1352.9,2176.5 L1353.7,2176.7 L1354.6,2176.1 L1355.4,2176.1 L1356.2,2176.6 L1357.1,2176.0 L1357.9,2176.0 L1358.7,2176.3 L1359.6,2176.5 L1360.4,2176.1 L1361.2,2175.6 L1362.1,2176.6 L1362.9,2177.1 L1363.7,2176.8 L1364.6,2176.0 L1365.4,2175.1 L1366.2,2176.5 L1367.1,2177.0 L1367.9,2176.3 L1368.7,2177.0 L1369.6,2177.2 L1370.4,2177.2 L1371.2,2176.5 L1372.1,2175.9 L1372.9,2175.8 L1373.7,2176.1 L1374.6,2177.2 L1375.4,2177.0 L1376.2,2175.3 L1377.0,2175.2 L1377.9,2176.0 L1378.7,2176.2 L1379.5,2176.2 L1380.4,2176.1 L1381.2,2176.7 L1382.0,2176.6 L1382.9,2176.2 L1383.7,2176.3 L1384.5,2176.6 L1385.4,2176.5 L1386.2,2176.3 L1387.0,2176.5 L1387.9,2176.6 L1388.7,2176.1 L1389.5,2175.4 L1390.4,2175.9 L1391.2,2176.9 L1392.0,2176.7 L1392.9,2175.8 L1393.7,2175.8 L1394.5,2176.0 L1395.4,2175.9 L1396.2,2176.8 L1397.0,2176.9 L1397.9,2176.7 L1398.7,2177.0 L1399.5,2176.6 L1400.4,2176.0 L1401.2,2175.4 L1402.0,2176.4 L1402.9,2176.2 L1403.7,2175.3 L1404.5,2176.5 L1405.4,2176.7 L1406.2,2176.5 L1407.0,2177.6 L1407.9,2177.7 L1408.7,2177.2 L1409.5,2176.7 L1410.4,2176.7 L1411.2,2176.5 L1412.0,2176.1 L1412.8,2175.5 L1413.7,2175.9 L1414.5,2175.8 L1415.3,2175.0 L1416.2,2175.4 L1417.0,2176.4 L1417.8,2177.1 L1418.7,2177.1 L1419.5,2176.8 L1420.3,2176.6 L1421.2,2176.3 L1422.0,2176.6 L1422.8,2176.5 L1423.7,2176.4 L1424.5,2177.1 L1425.3,2177.4 L1426.2,2176.4 L1427.0,2176.2 L1427.8,2176.8 L1428.7,2176.6 L1429.5,2176.7 L1430.3,2177.3 L1431.2,2177.2 L1432.0,2176.1 L1432.8,2175.8 L1433.7,2176.6 L1434.5,2176.7 L1435.3,2176.1 L1436.2,2176.0 L1437.0,2176.1 L1437.8,2176.1 L1438.7,2176.6 L1439.5,2176.3 L1440.3,2176.2 L1441.2,2176.8 L1442.0,2176.4 L1442.8,2176.7 L1443.7,2177.3 L1444.5,2177.0 L1445.3,2176.8 L1446.1,2176.5 L1447.0,2175.9 L1447.8,2176.1 L1448.6,2176.2 L1449.5,2176.6 L1450.3,2177.5 L1451.1,2176.8 L1452.0,2175.7 L1452.8,2176.2 L1453.6,2176.7 L1454.5,2176.9 L1455.3,2176.5 L1456.1,2176.4 L1457.0,2177.2 L1457.8,2177.0 L1458.6,2176.3 L1459.5,2176.6 L1460.3,2177.4 L1461.1,2177.3 L1462.0,2177.0 L1462.8,2177.1 L1463.6,2177.1 L1464.5,2177.7 L1465.3,2177.3 L1466.1,2176.5 L1467.0,2177.1 L1467.8,2176.5 L1468.6,2176.1 L1469.5,2176.2 L1470.3,2177.0 L1471.1,2176.8 L1472.0,2175.6 L1472.8,2175.7 L1473.6,2176.6 L1474.5,2177.4 L1475.3,2177.3 L1476.1,2176.8 L1477.0,2176.1 L1477.8,2176.1 L1478.6,2176.4 L1479.4,2177.5 L1480.3,2177.8 L1481.1,2176.8 L1481.9,2176.1 L1482.8,2177.3 L1483.6,2177.4 L1484.4,2176.3 L1485.3,2177.5 L1486.1,2177.5 L1486.9,2176.3 L1487.8,2175.9 L1488.6,2177.2 L1489.4,2177.0 L1490.3,2175.7 L1491.1,2176.2 L1491.9,2176.7 L1492.8,2176.7 L1493.6,2176.4 L1494.4,2176.1 L1495.3,2177.1 L1496.1,2177.2 L1496.9,2176.8 L1497.8,2177.4 L1498.6,2177.1 L1499.4,2176.9 L1500.3,2177.2 L1501.1,2177.3 L1501.9,2176.9 L1502.8,2176.9 L1503.6,2177.3 L1504.4,2177.5 L1505.3,2176.6 L1506.1,2175.7 L1506.9,2176.9 L1507.8,2178.2 L1508.6,2177.5 L1509.4,2176.6 L1510.3,2176.3 L1511.1,2176.0 L1511.9,2175.7 L1512.7,2175.6 L1513.6,2176.2 L1514.4,2176.4 L1515.2,2176.5 L1516.1,2177.0 L1516.9,2177.7 L1517.7,2177.7 L1518.6,2177.2 L1519.4,2177.4 L1520.2,2177.1 L1521.1,2177.7 L1521.9,2177.9 L1522.7,2177.7 L1523.6,2177.3 L1524.4,2176.7 L1525.2,2177.0 L1526.1,2176.9 L1526.9,2176.4 L1527.7,2176.6 L1528.6,2177.4 L1529.4,2177.4 L1530.2,2177.0 L1531.1,2177.0 L1531.9,2177.4 L1532.7,2177.5 L1533.6,2177.1 L1534.4,2177.7 L1535.2,2177.5 L1536.1,2176.7 L1536.9,2176.9 L1537.7,2177.6 L1538.6,2177.5 L1539.4,2177.2 L1540.2,2177.6 L1541.1,2177.4 L1541.9,2176.7 L1542.7,2176.4 L1543.6,2177.4 L1544.4,2178.3 L1545.2,2177.8 L1546.0,2178.1 L1546.9,2178.0 L1547.7,2176.8 L1548.5,2177.2 L1549.4,2177.2 L1550.2,2177.0 L1551.0,2178.0 L1551.9,2178.2 L1552.7,2177.6 L1553.5,2176.8 L1554.4,2177.8 L1555.2,2178.1 L1556.0,2177.6 L1556.9,2177.8 L1557.7,2177.3 L1558.5,2177.4 L1559.4,2177.5 L1560.2,2177.5 L1561.0,2176.9 L1561.9,2177.1 L1562.7,2177.5 L1563.5,2177.3 L1564.4,2177.7 L1565.2,2176.5 L1566.0,2176.7 L1566.9,2177.3 L1567.7,2176.8 L1568.5,2177.3 L1569.4,2177.0 L1570.2,2177.1 L1571.0,2176.7 L1571.9,2176.2 L1572.7,2177.3 L1573.5,2177.1 L1574.4,2177.0 L1575.2,2177.4 L1576.0,2177.1 L1576.9,2177.2 L1577.7,2177.4 L1578.5,2177.2 L1579.4,2177.2 L1580.2,2177.7 L1581.0,2177.9 L1581.8,2178.3 L1582.7,2178.4 L1583.5,2178.0 L1584.3,2177.7 L1585.2,2177.1 L1586.0,2177.6 L1586.8,2178.1 L1587.7,2178.1 L1588.5,2177.5 L1589.3,2177.1 L1590.2,2177.0 L1591.0,2176.8 L1591.8,2177.0 L1592.7,2177.2 L1593.5,2177.0 L1594.3,2177.7 L1595.2,2178.5 L1596.0,2177.0 L1596.8,2176.6 L1597.7,2178.0 L1598.5,2177.7 L1599.3,2177.1 L1600.2,2178.4 L1601.0,2178.4 L1601.8,2177.8 L1602.7,2178.1 L1603.5,2178.3 L1604.3,2178.1 L1605.2,2178.1 L1606.0,2177.9 L1606.8,2177.4 L1607.7,2177.7 L1608.5,2178.0 L1609.3,2177.5 L1610.2,2177.5 L1611.0,2177.8 L1611.8,2177.5 L1612.7,2177.3 L1613.5,2177.5 L1614.3,2177.3 L1615.1,2177.8 L1616.0,2178.6 L1616.8,2178.6 L1617.6,2177.0 L1618.5,2176.3 L1619.3,2177.4 L1620.1,2177.1 L1621.0,2177.3 L1621.8,2178.1 L1622.6,2178.3 L1623.5,2178.2 L1624.3,2178.6 L1625.1,2178.0 L1626.0,2177.4 L1626.8,2177.9 L1627.6,2177.7 L1628.5,2177.8 L1629.3,2177.5 L1630.1,2176.5 L1631.0,2177.0 L1631.8,2177.6 L1632.6,2177.9 L1633.5,2177.9 L1634.3,2177.9 L1635.1,2178.1 L1636.0,2178.3 L1636.8,2178.1 L1637.6,2177.8 L1638.5,2178.1 L1639.3,2177.4 L1640.1,2177.6 L1641.0,2177.8 L1641.8,2177.6 L1642.6,2177.4 L1643.5,2177.4 L1644.3,2177.9 L1645.1,2177.9 L1646.0,2177.8 L1646.8,2177.7 L1647.6,2177.8 L1648.4,2177.9 L1649.3,2178.4 L1650.1,2178.2 L1650.9,2177.9 L1651.8,2178.1 L1652.6,2178.2 L1653.4,2178.3 L1654.3,2177.5 L1655.1,2177.8 L1655.9,2178.4 L1656.8,2178.1 L1657.6,2177.9 L1658.4,2178.1 L1659.3,2178.3 L1660.1,2177.8 L1660.9,2177.7 L1661.8,2177.7 L1662.6,2177.3 L1663.4,2177.3 L1664.3,2177.9 L1665.1,2177.8 L1665.9,2177.5 L1666.8,2178.2 L1667.6,2178.4 L1668.4,2177.3 L1669.3,2176.9 L1670.1,2177.4 L1670.9,2177.2 L1671.8,2177.6 L1672.6,2178.5 L1673.4,2178.1 L1674.3,2177.8 L1675.1,2178.2 L1675.9,2178.6 L1676.8,2178.0 L1677.6,2177.5 L1678.4,2178.5 L1679.3,2178.7 L1680.1,2178.5 L1680.9,2179.1 L1681.7,2179.3 L1682.6,2178.8 L1683.4,2178.0 L1684.2,2177.7 L1685.1,2177.8 L1685.9,2178.1 L1686.7,2178.9 L1687.6,2178.9 L1688.4,2178.2 L1689.2,2178.0 L1690.1,2178.3 L1690.9,2178.2 L1691.7,2178.5 L1692.6,2178.8 L1693.4,2178.4 L1694.2,2178.8 L1695.1,2179.3 L1695.9,2178.7 L1696.7,2178.6 L1697.6,2178.7 L1698.4,2178.3 L1699.2,2178.0 L1700.1,2178.5 L1700.9,2178.7 L1701.7,2177.8 L1702.6,2178.2 L1703.4,2178.9 L1704.2,2177.9 L1705.1,2177.9 L1705.9,2178.2 L1706.7,2177.8 L1707.6,2177.7 L1708.4,2177.4 L1709.2,2177.3 L1710.1,2177.5 L1710.9,2178.2 L1711.7,2178.2 L1712.6,2178.4 L1713.4,2178.4 L1714.2,2178.7 L1715.0,2178.8 L1715.9,2178.2 L1716.7,2177.9 L1717.5,2177.8 L1718.4,2178.2 L1719.2,2178.2 L1720.0,2177.6 L1720.9,2177.6 L1721.7,2177.6 L1722.5,2178.7 L1723.4,2178.6 L1724.2,2178.4 L1725.0,2179.3 L1725.9,2179.4 L1726.7,2179.3 L1727.5,2179.3 L1728.4,2179.0 L1729.2,2178.5 L1730.0,2178.2 L1730.9,2178.5 L1731.7,2179.1" fill="none" stroke="#1c7a1c" stroke-width="4.6" stroke-linejoin="round"/>
<path d="M108.3,2385.1 L109.1,2385.3 L110.0,2384.8 L110.8,2384.9 L111.6,2384.6 L112.5,2384.4 L113.3,2384.7 L114.1,2384.3 L115.0,2383.4 L115.8,2383.4 L116.6,2383.9 L117.5,2383.8 L118.3,2384.5 L119.1,2384.0 L120.0,2383.9 L120.8,2385.1 L121.6,2384.8 L122.5,2384.2 L123.3,2383.7 L124.1,2383.6 L125.0,2383.5 L125.8,2383.6 L126.6,2383.2 L127.4,2383.0 L128.3,2382.9 L129.1,2382.8 L129.9,2382.9 L130.8,2383.2 L131.6,2383.4 L132.4,2383.2 L133.3,2382.3 L134.1,2381.2 L134.9,2381.6 L135.8,2382.5 L136.6,2382.9 L137.4,2382.5 L138.3,2381.3 L139.1,2380.2 L139.9,2378.7 L140.8,2375.9 L141.6,2371.4 L142.4,2364.4 L143.3,2354.9 L144.1,2344.6 L144.9,2333.7 L145.8,2326.9 L146.6,2327.9 L147.4,2335.1 L148.3,2345.5 L149.1,2355.1 L149.9,2363.7 L150.8,2370.6 L151.6,2375.0 L152.4,2376.7 L153.3,2377.6 L154.1,2379.3 L154.9,2379.7 L155.8,2379.8 L156.6,2379.5 L157.4,2379.3 L158.3,2378.7 L159.1,2378.3 L159.9,2378.2 L160.7,2377.8 L161.6,2378.4 L162.4,2377.1 L163.2,2375.4 L164.1,2374.4 L164.9,2374.6 L165.7,2374.4 L166.6,2372.6 L167.4,2371.5 L168.2,2369.9 L169.1,2367.7 L169.9,2366.5 L170.7,2364.2 L171.6,2359.7 L172.4,2355.0 L173.2,2349.7 L174.1,2343.7 L174.9,2335.3 L175.7,2323.9 L176.6,2308.8 L177.4,2286.4 L178.2,2255.4 L179.1,2210.8 L179.9,2145.6 L180.7,2058.9 L181.6,1969.8 L182.4,1928.6 L183.2,1970.4 L184.1,2059.5 L184.9,2145.1 L185.7,2209.9 L186.6,2255.6 L187.4,2287.1 L188.2,2308.3 L189.1,2323.6 L189.9,2335.9 L190.7,2345.0 L191.6,2350.8 L192.4,2355.9 L193.2,2360.4 L194.0,2363.8 L194.9,2366.3 L195.7,2368.5 L196.5,2369.5 L197.4,2371.2 L198.2,2373.2 L199.0,2374.3 L199.9,2375.5 L200.7,2376.3 L201.5,2377.3 L202.4,2377.2 L203.2,2377.1 L204.0,2378.1 L204.9,2379.8 L205.7,2379.9 L206.5,2379.2 L207.4,2379.8 L208.2,2380.1 L209.0,2381.0 L209.9,2381.3 L210.7,2380.6 L211.5,2380.8 L212.4,2380.9 L213.2,2381.3 L214.0,2381.6 L214.9,2380.9 L215.7,2380.3 L216.5,2378.9 L217.4,2377.0 L218.2,2376.1 L219.0,2374.0 L219.9,2371.2 L220.7,2369.7 L221.5,2367.7 L222.4,2364.9 L223.2,2362.9 L224.0,2362.2 L224.9,2363.5 L225.7,2365.2 L226.5,2367.3 L227.3,2369.9 L228.2,2371.9 L229.0,2375.3 L229.8,2378.1 L230.7,2379.2 L231.5,2380.9 L232.3,2381.9 L233.2,2383.0 L234.0,2383.7 L234.8,2383.1 L235.7,2383.4 L236.5,2383.6 L237.3,2383.8 L238.2,2384.1 L239.0,2383.9 L239.8,2384.1 L240.7,2384.2 L241.5,2383.7 L242.3,2384.2 L243.2,2385.6 L244.0,2384.9 L244.8,2384.1 L245.7,2383.7 L246.5,2383.3 L247.3,2384.5 L248.2,2384.7 L249.0,2384.2 L249.8,2384.5 L250.7,2385.3 L251.5,2385.3 L252.3,2384.7 L253.2,2385.5 L254.0,2385.3 L254.8,2384.3 L255.7,2384.8 L256.5,2385.8 L257.3,2385.9 L258.2,2385.7 L259.0,2385.4 L259.8,2384.7 L260.6,2384.3 L261.5,2384.2 L262.3,2385.0 L263.1,2385.6 L264.0,2385.5 L264.8,2385.1 L265.6,2384.5 L266.5,2384.3 L267.3,2384.4 L268.1,2385.0 L269.0,2384.8 L269.8,2384.1 L270.6,2384.1 L271.5,2384.0 L272.3,2383.8 L273.1,2383.4 L274.0,2383.1 L274.8,2383.6 L275.6,2383.6 L276.5,2383.5 L277.3,2383.5 L278.1,2382.8 L279.0,2382.4 L279.8,2381.5 L280.6,2381.4 L281.5,2381.3 L282.3,2380.2 L283.1,2379.2 L284.0,2378.6 L284.8,2377.6 L285.6,2375.4 L286.5,2372.1 L287.3,2367.6 L288.1,2361.5 L289.0,2352.8 L289.8,2343.2 L290.6,2330.2 L291.5,2315.0 L292.3,2299.6 L293.1,2283.0 L294.0,2266.6 L294.8,2253.0 L295.6,2243.3 L296.4,2237.6 L297.3,2238.3 L298.1,2245.5 L298.9,2257.5 L299.8,2273.0 L300.6,2289.1 L301.4,2305.5 L302.3,2320.3 L303.1,2333.1 L303.9,2344.4 L304.8,2351.7 L305.6,2356.2 L306.4,2358.9 L307.3,2360.4 L308.1,2360.9 L308.9,2360.3 L309.8,2358.0 L310.6,2355.3 L311.4,2354.5 L312.3,2355.2 L313.1,2356.0 L313.9,2358.2 L314.8,2361.8 L315.6,2365.0 L316.4,2367.6 L317.3,2370.3 L318.1,2375.0 L318.9,2377.8 L319.8,2379.2 L320.6,2380.4 L321.4,2380.8 L322.3,2381.2 L323.1,2381.3 L323.9,2381.6 L324.8,2381.0 L325.6,2382.3 L326.4,2381.9 L327.3,2380.7 L328.1,2381.6 L328.9,2382.2 L329.7,2383.0 L330.6,2384.0 L331.4,2383.6 L332.2,2383.5 L333.1,2384.3 L333.9,2384.7 L334.7,2384.9 L335.6,2385.6 L336.4,2385.9 L337.2,2385.9 L338.1,2386.5 L338.9,2386.2 L339.7,2386.2 L340.6,2386.1 L341.4,2385.7 L342.2,2385.6 L343.1,2386.1 L343.9,2386.2 L344.7,2385.9 L345.6,2385.7 L346.4,2385.2 L347.2,2385.6 L348.1,2385.2 L348.9,2384.9 L349.7,2386.0 L350.6,2385.6 L351.4,2385.4 L352.2,2385.6 L353.1,2385.9 L353.9,2386.0 L354.7,2385.3 L355.6,2385.7 L356.4,2386.5 L357.2,2386.9 L358.1,2386.3 L358.9,2386.2 L359.7,2385.9 L360.6,2385.6 L361.4,2386.6 L362.2,2386.8 L363.0,2386.7 L363.9,2387.0 L364.7,2386.8 L365.5,2386.0 L366.4,2385.7 L367.2,2386.2 L368.0,2386.4 L368.9,2385.6 L369.7,2385.9 L370.5,2386.9 L371.4,2387.0 L372.2,2387.5 L373.0,2387.4 L373.9,2386.6 L374.7,2385.6 L375.5,2385.3 L376.4,2385.9 L377.2,2386.0 L378.0,2386.3 L378.9,2385.8 L379.7,2385.2 L380.5,2386.2 L381.4,2386.1 L382.2,2385.8 L383.0,2385.3 L383.9,2384.2 L384.7,2384.1 L385.5,2383.8 L386.4,2382.9 L387.2,2381.8 L388.0,2380.2 L388.9,2377.3 L389.7,2374.5 L390.5,2371.3 L391.4,2366.1 L392.2,2361.0 L393.0,2356.1 L393.9,2351.2 L394.7,2346.3 L395.5,2343.0 L396.3,2342.2 L397.2,2343.1 L398.0,2347.0 L398.8,2351.3 L399.7,2356.2 L400.5,2362.3 L401.3,2366.8 L402.2,2370.0 L403.0,2373.9 L403.8,2377.2 L404.7,2379.6 L405.5,2381.3 L406.3,2382.3 L407.2,2383.8 L408.0,2384.6 L408.8,2384.5 L409.7,2385.2 L410.5,2385.3 L411.3,2385.0 L412.2,2385.5 L413.0,2385.5 L413.8,2385.3 L414.7,2385.3 L415.5,2385.3 L416.3,2384.9 L417.2,2385.5 L418.0,2386.4 L418.8,2386.1 L419.7,2385.7 L420.5,2385.0 L421.3,2385.3 L422.2,2385.8 L423.0,2385.8 L423.8,2385.6 L424.7,2384.8 L425.5,2384.9 L426.3,2385.2 L427.2,2385.9 L428.0,2386.4 L428.8,2385.6 L429.6,2384.8 L430.5,2385.8 L431.3,2385.7 L432.1,2384.3 L433.0,2384.3 L433.8,2385.0 L434.6,2384.9 L435.5,2384.8 L436.3,2384.9 L437.1,2384.4 L438.0,2384.1 L438.8,2384.0 L439.6,2383.6 L440.5,2383.2 L441.3,2382.5 L442.1,2381.9 L443.0,2381.4 L443.8,2380.5 L444.6,2380.4 L445.5,2380.0 L446.3,2378.2 L447.1,2376.5 L448.0,2375.9 L448.8,2375.3 L449.6,2374.2 L450.5,2372.5 L451.3,2370.5 L452.1,2369.1 L453.0,2367.9 L453.8,2365.6 L454.6,2363.9 L455.5,2362.9 L456.3,2361.2 L457.1,2360.5 L458.0,2359.6 L458.8,2358.7 L459.6,2358.4 L460.5,2358.7 L461.3,2358.9 L462.1,2359.1 L463.0,2360.6 L463.8,2361.9 L464.6,2363.7 L465.4,2364.6 L466.3,2364.9 L467.1,2366.4 L467.9,2368.1 L468.8,2370.2 L469.6,2371.6 L470.4,2372.0 L471.3,2373.8 L472.1,2376.2 L472.9,2376.3 L473.8,2376.8 L474.6,2377.8 L475.4,2378.6 L476.3,2380.0 L477.1,2381.4 L477.9,2381.3 L478.8,2380.6 L479.6,2380.5 L480.4,2380.7 L481.3,2380.4 L482.1,2379.3 L482.9,2379.2 L483.8,2378.9 L484.6,2377.8 L485.4,2377.7 L486.3,2377.1 L487.1,2375.6 L487.9,2374.1 L488.8,2372.5 L489.6,2371.1 L490.4,2369.8 L491.3,2367.9 L492.1,2365.3 L492.9,2363.5 L493.8,2362.3 L494.6,2360.0 L495.4,2357.5 L496.3,2356.5 L497.1,2355.9 L497.9,2356.2 L498.7,2356.7 L499.6,2357.3 L500.4,2358.5 L501.2,2359.7 L502.1,2361.8 L502.9,2364.2 L503.7,2366.1 L504.6,2368.1 L505.4,2370.1 L506.2,2371.5 L507.1,2373.1 L507.9,2374.7 L508.7,2376.0 L509.6,2376.4 L510.4,2377.9 L511.2,2379.7 L512.1,2380.8 L512.9,2382.4 L513.7,2382.1 L514.6,2381.5 L515.4,2382.6 L516.2,2383.5 L517.1,2383.8 L517.9,2383.8 L518.7,2383.6 L519.6,2383.8 L520.4,2384.0 L521.2,2383.8 L522.1,2384.4 L522.9,2384.3 L523.7,2384.3 L524.6,2384.3 L525.4,2383.1 L526.2,2384.2 L527.1,2385.7 L527.9,2385.0 L528.7,2384.7 L529.6,2384.9 L530.4,2384.4 L531.2,2384.4 L532.0,2384.5 L532.9,2384.5 L533.7,2385.0 L534.5,2384.9 L535.4,2384.3 L536.2,2383.8 L537.0,2384.1 L537.9,2384.5 L538.7,2384.9 L539.5,2385.2 L540.4,2385.4 L541.2,2384.9 L542.0,2384.9 L542.9,2385.2 L543.7,2384.7 L544.5,2385.5 L545.4,2386.2 L546.2,2385.1 L547.0,2384.3 L547.9,2383.7 L548.7,2384.1 L549.5,2385.1 L550.4,2385.8 L551.2,2386.1 L552.0,2385.6 L552.9,2385.2 L553.7,2384.9 L554.5,2384.7 L555.4,2384.9 L556.2,2384.5 L557.0,2384.2 L557.9,2384.2 L558.7,2384.0 L559.5,2384.6 L560.4,2385.4 L561.2,2385.1 L562.0,2384.2 L562.9,2383.9 L563.7,2383.7 L564.5,2384.4 L565.3,2385.3 L566.2,2384.6 L567.0,2384.2 L567.8,2383.6 L568.7,2384.1 L569.5,2384.8 L570.3,2384.4 L571.2,2383.8 L572.0,2383.5 L572.8,2383.8 L573.7,2383.9 L574.5,2383.4 L575.3,2383.5 L576.2,2383.7 L577.0,2383.3 L577.8,2383.9 L578.7,2383.8 L579.5,2383.6 L580.3,2384.3 L581.2,2384.2 L582.0,2383.4 L582.8,2383.9 L583.7,2383.5 L584.5,2382.7 L585.3,2383.6 L586.2,2384.1 L587.0,2384.1 L587.8,2383.7 L588.7,2382.8 L589.5,2382.2 L590.3,2382.6 L591.2,2382.2 L592.0,2382.4 L592.8,2382.4 L593.7,2381.8 L594.5,2382.6 L595.3,2383.3 L596.2,2382.8 L597.0,2382.4 L597.8,2382.5 L598.7,2382.2 L599.5,2381.7 L600.3,2381.1 L601.1,2381.5 L602.0,2382.0 L602.8,2382.4 L603.6,2382.4 L604.5,2381.4 L605.3,2380.5 L606.1,2380.9 L607.0,2381.6 L607.8,2381.4 L608.6,2381.1 L609.5,2380.4 L610.3,2380.6 L611.1,2381.1 L612.0,2380.8 L612.8,2379.9 L613.6,2379.7 L614.5,2379.9 L615.3,2379.2 L616.1,2379.3 L617.0,2379.8 L617.8,2378.7 L618.6,2377.4 L619.5,2377.1 L620.3,2376.4 L621.1,2375.3 L622.0,2374.6 L622.8,2374.1 L623.6,2372.9 L624.5,2371.2 L625.3,2369.5 L626.1,2367.0 L627.0,2364.4 L627.8,2362.2 L628.6,2358.6 L629.5,2355.1 L630.3,2351.8 L631.1,2346.7 L632.0,2341.8 L632.8,2337.4 L633.6,2332.2 L634.4,2326.9 L635.3,2320.5 L636.1,2314.8 L636.9,2309.7 L637.8,2304.0 L638.6,2299.8 L639.4,2296.4 L640.3,2293.9 L641.1,2292.4 L641.9,2292.1 L642.8,2292.6 L643.6,2294.2 L644.4,2297.1 L645.3,2300.4 L646.1,2304.7 L646.9,2308.6 L647.8,2314.4 L648.6,2320.9 L649.4,2326.2 L650.3,2332.0 L651.1,2337.7 L651.9,2342.8 L652.8,2347.5 L653.6,2351.4 L654.4,2355.1 L655.3,2359.8 L656.1,2363.0 L656.9,2365.3 L657.8,2367.9 L658.6,2369.7 L659.4,2371.3 L660.3,2372.7 L661.1,2374.0 L661.9,2374.9 L662.8,2375.5 L663.6,2376.6 L664.4,2377.5 L665.3,2378.2 L666.1,2378.6 L666.9,2379.1 L667.7,2379.8 L668.6,2379.5 L669.4,2379.0 L670.2,2379.3 L671.1,2379.8 L671.9,2380.3 L672.7,2381.0 L673.6,2381.2 L674.4,2381.3 L675.2,2379.8 L676.1,2379.6 L676.9,2381.4 L677.7,2381.1 L678.6,2380.7 L679.4,2381.2 L680.2,2381.3 L681.1,2381.0 L681.9,2381.0 L682.7,2381.1 L683.6,2381.8 L684.4,2381.8 L685.2,2381.1 L686.1,2381.3 L686.9,2382.4 L687.7,2383.0 L688.6,2382.8 L689.4,2382.3 L690.2,2381.6 L691.1,2381.8 L691.9,2382.0 L692.7,2381.8 L693.6,2382.4 L694.4,2382.9 L695.2,2382.2 L696.1,2380.7 L696.9,2381.4 L697.7,2382.0 L698.6,2382.4 L699.4,2382.6 L700.2,2382.2 L701.0,2383.1 L701.9,2383.6 L702.7,2383.1 L703.5,2383.1 L704.4,2383.8 L705.2,2383.4 L706.0,2382.9 L706.9,2382.8 L707.7,2382.4 L708.5,2382.4 L709.4,2382.4 L710.2,2383.2 L711.0,2383.4 L711.9,2382.4 L712.7,2381.9 L713.5,2382.5 L714.4,2382.7 L715.2,2382.0 L716.0,2382.4 L716.9,2383.7 L717.7,2384.2 L718.5,2383.5 L719.4,2382.9 L720.2,2383.0 L721.0,2383.3 L721.9,2382.8 L722.7,2382.2 L723.5,2382.5 L724.4,2383.4 L725.2,2383.4 L726.0,2382.7 L726.9,2382.9 L727.7,2383.3 L728.5,2383.6 L729.4,2383.1 L730.2,2383.3 L731.0,2383.4 L731.9,2383.1 L732.7,2383.2 L733.5,2382.9 L734.3,2382.3 L735.2,2382.4 L736.0,2383.0 L736.8,2383.1 L737.7,2382.5 L738.5,2383.4 L739.3,2383.8 L740.2,2383.5 L741.0,2383.8 L741.8,2383.6 L742.7,2383.8 L743.5,2383.8 L744.3,2383.6 L745.2,2383.8 L746.0,2383.1 L746.8,2382.7 L747.7,2383.0 L748.5,2382.4 L749.3,2382.4 L750.2,2383.2 L751.0,2383.3 L751.8,2383.4 L752.7,2382.8 L753.5,2382.5 L754.3,2382.6 L755.2,2382.6 L756.0,2382.7 L756.8,2382.7 L757.7,2383.1 L758.5,2382.5 L759.3,2382.0 L760.2,2382.7 L761.0,2383.1 L761.8,2382.6 L762.7,2382.5 L763.5,2382.7 L764.3,2382.9 L765.2,2383.8 L766.0,2384.3 L766.8,2383.8 L767.7,2384.2 L768.5,2383.9 L769.3,2383.0 L770.1,2383.2 L771.0,2383.1 L771.8,2383.0 L772.6,2383.1 L773.5,2383.2 L774.3,2383.0 L775.1,2383.3 L776.0,2383.3 L776.8,2382.9 L777.6,2383.2 L778.5,2382.8 L779.3,2382.9 L780.1,2383.3 L781.0,2384.0 L781.8,2384.5 L782.6,2383.9 L783.5,2383.6 L784.3,2383.8 L785.1,2383.4 L786.0,2383.7 L786.8,2383.5 L787.6,2383.7 L788.5,2383.8 L789.3,2383.4 L790.1,2383.2 L791.0,2383.4 L791.8,2383.5 L792.6,2383.5 L793.5,2383.8 L794.3,2383.6 L795.1,2384.0 L796.0,2384.2 L796.8,2383.8 L797.6,2383.8 L798.5,2384.2 L799.3,2384.0 L800.1,2383.4 L801.0,2383.3 L801.8,2383.1 L802.6,2382.7 L803.4,2383.7 L804.3,2384.2 L805.1,2384.2 L805.9,2383.9 L806.8,2383.3 L807.6,2383.4 L808.4,2383.9 L809.3,2384.4 L810.1,2384.1 L810.9,2383.3 L811.8,2383.3 L812.6,2383.4 L813.4,2383.9 L814.3,2384.1 L815.1,2384.0 L815.9,2384.1 L816.8,2384.0 L817.6,2383.6 L818.4,2383.2 L819.3,2383.6 L820.1,2383.6 L820.9,2383.7 L821.8,2383.9 L822.6,2384.0 L823.4,2384.0 L824.3,2384.2 L825.1,2383.8 L825.9,2383.7 L826.8,2383.7 L827.6,2383.1 L828.4,2383.8 L829.3,2383.7 L830.1,2384.1 L830.9,2385.0 L831.8,2384.3 L832.6,2383.6 L833.4,2384.0 L834.3,2384.3 L835.1,2384.2 L835.9,2383.4 L836.7,2383.9 L837.6,2384.8 L838.4,2384.6 L839.2,2384.1 L840.1,2384.0 L840.9,2384.2 L841.7,2383.4 L842.6,2383.9 L843.4,2384.3 L844.2,2383.4 L845.1,2383.7 L845.9,2384.6 L846.7,2383.9 L847.6,2383.7 L848.4,2383.8 L849.2,2383.6 L850.1,2383.4 L850.9,2384.4 L851.7,2385.3 L852.6,2384.4 L853.4,2384.5 L854.2,2384.5 L855.1,2383.8 L855.9,2383.6 L856.7,2384.5 L857.6,2384.2 L858.4,2384.2 L859.2,2385.1 L860.1,2385.4 L860.9,2384.8 L861.7,2384.3 L862.6,2384.3 L863.4,2384.4 L864.2,2384.7 L865.1,2384.4 L865.9,2384.0 L866.7,2383.9 L867.6,2384.0 L868.4,2383.8 L869.2,2383.8 L870.0,2383.8 L870.9,2383.5 L871.7,2383.7 L872.5,2384.3 L873.4,2383.9 L874.2,2383.0 L875.0,2382.9 L875.9,2382.1 L876.7,2380.9 L877.5,2380.8 L878.4,2380.5 L879.2,2379.2 L880.0,2375.2 L880.9,2369.5 L881.7,2362.1 L882.5,2351.3 L883.4,2337.3 L884.2,2320.7 L885.0,2303.4 L885.9,2289.6 L886.7,2280.4 L887.5,2279.3 L888.4,2287.4 L889.2,2300.6 L890.0,2317.1 L890.9,2334.5 L891.7,2348.6 L892.5,2359.2 L893.4,2367.0 L894.2,2373.6 L895.0,2378.0 L895.9,2380.3 L896.7,2382.3 L897.5,2382.6 L898.4,2382.4 L899.2,2382.6 L900.0,2383.5 L900.9,2383.4 L901.7,2383.9 L902.5,2384.8 L903.3,2384.9 L904.2,2385.2 L905.0,2385.6 L905.8,2385.4 L906.7,2385.4 L907.5,2385.9 L908.3,2386.1 L909.2,2386.0 L910.0,2386.4 L910.8,2386.3 L911.7,2385.7 L912.5,2385.5 L913.3,2385.6 L914.2,2386.1 L915.0,2385.8 L915.8,2385.5 L916.7,2385.6 L917.5,2386.2 L918.3,2386.6 L919.2,2386.6 L920.0,2386.5 L920.8,2385.9 L921.7,2386.4 L922.5,2386.1 L923.3,2385.9 L924.2,2387.0 L925.0,2387.3 L925.8,2386.8 L926.7,2386.2 L927.5,2386.7 L928.3,2386.6 L929.2,2386.2 L930.0,2386.1 L930.8,2385.9 L931.7,2386.7 L932.5,2386.7 L933.3,2386.1 L934.2,2386.7 L935.0,2387.4 L935.8,2387.3 L936.7,2387.3 L937.5,2388.0 L938.3,2387.4 L939.1,2386.8 L940.0,2387.8 L940.8,2387.9 L941.6,2388.0 L942.5,2387.8 L943.3,2387.5 L944.1,2387.7 L945.0,2388.2 L945.8,2387.9 L946.6,2387.3 L947.5,2387.5 L948.3,2387.4 L949.1,2386.7 L950.0,2387.5 L950.8,2388.7 L951.6,2387.7 L952.5,2386.6 L953.3,2387.9 L954.1,2388.7 L955.0,2388.0 L955.8,2388.7 L956.6,2389.0 L957.5,2388.2 L958.3,2388.1 L959.1,2388.4 L960.0,2387.8 L960.8,2387.8 L961.6,2389.3 L962.5,2389.4 L963.3,2388.4 L964.1,2388.8 L965.0,2388.5 L965.8,2388.4 L966.6,2388.0 L967.5,2387.3 L968.3,2388.4 L969.1,2389.2 L970.0,2388.3 L970.8,2388.4 L971.6,2388.8 L972.4,2388.5 L973.3,2388.2 L974.1,2388.3 L974.9,2388.7 L975.8,2388.4 L976.6,2389.1 L977.4,2389.9 L978.3,2388.8 L979.1,2388.1 L979.9,2389.0 L980.8,2389.3 L981.6,2388.9 L982.4,2388.6 L983.3,2388.6 L984.1,2389.1 L984.9,2389.2 L985.8,2389.5 L986.6,2389.6 L987.4,2389.2 L988.3,2389.6 L989.1,2389.8 L989.9,2389.6 L990.8,2389.8 L991.6,2389.8 L992.4,2389.4 L993.3,2389.3 L994.1,2389.3 L994.9,2389.3 L995.8,2389.3 L996.6,2389.8 L997.4,2389.9 L998.3,2389.9 L999.1,2390.3 L999.9,2390.6 L1000.8,2390.0 L1001.6,2389.1 L1002.4,2388.9 L1003.3,2388.7 L1004.1,2388.2 L1004.9,2388.6 L1005.7,2389.3 L1006.6,2389.0 L1007.4,2389.3 L1008.2,2389.1 L1009.1,2389.7 L1009.9,2390.7 L1010.7,2390.2 L1011.6,2390.2 L1012.4,2390.0 L1013.2,2389.0 L1014.1,2389.5 L1014.9,2389.9 L1015.7,2389.7 L1016.6,2389.8 L1017.4,2389.5 L1018.2,2389.3 L1019.1,2389.8 L1019.9,2389.6 L1020.7,2389.7 L1021.6,2390.4 L1022.4,2390.6 L1023.2,2390.2 L1024.1,2390.4 L1024.9,2390.9 L1025.7,2389.9 L1026.6,2389.9 L1027.4,2390.7 L1028.2,2389.5 L1029.1,2389.7 L1029.9,2391.0 L1030.7,2390.5 L1031.6,2389.8 L1032.4,2389.4 L1033.2,2390.0 L1034.1,2390.1 L1034.9,2389.5 L1035.7,2389.7 L1036.6,2390.4 L1037.4,2390.8 L1038.2,2390.4 L1039.0,2390.0 L1039.9,2390.7 L1040.7,2390.9 L1041.5,2390.7 L1042.4,2390.0 L1043.2,2390.5 L1044.0,2390.7 L1044.9,2390.5 L1045.7,2391.6 L1046.5,2390.5 L1047.4,2390.1 L1048.2,2391.3 L1049.0,2391.7 L1049.9,2391.2 L1050.7,2390.2 L1051.5,2390.4 L1052.4,2390.5 L1053.2,2390.4 L1054.0,2391.1 L1054.9,2391.4 L1055.7,2391.3 L1056.5,2390.8 L1057.4,2390.4 L1058.2,2390.6 L1059.0,2390.8 L1059.9,2391.1 L1060.7,2391.1 L1061.5,2390.8 L1062.4,2391.2 L1063.2,2391.2 L1064.0,2390.5 L1064.9,2391.0 L1065.7,2391.3 L1066.5,2390.7 L1067.4,2391.2 L1068.2,2391.2 L1069.0,2390.7 L1069.9,2391.0 L1070.7,2390.8 L1071.5,2390.6 L1072.3,2391.2 L1073.2,2391.3 L1074.0,2390.9 L1074.8,2390.4 L1075.7,2390.6 L1076.5,2390.8 L1077.3,2390.9 L1078.2,2391.2 L1079.0,2391.1 L1079.8,2391.3 L1080.7,2391.1 L1081.5,2391.0 L1082.3,2391.7 L1083.2,2391.8 L1084.0,2391.5 L1084.8,2391.3 L1085.7,2391.2 L1086.5,2391.1 L1087.3,2391.1 L1088.2,2390.9 L1089.0,2391.0 L1089.8,2391.1 L1090.7,2390.8 L1091.5,2391.1 L1092.3,2391.5 L1093.2,2391.2 L1094.0,2391.2 L1094.8,2391.0 L1095.7,2391.2 L1096.5,2391.6 L1097.3,2391.4 L1098.2,2391.2 L1099.0,2391.4 L1099.8,2391.9 L1100.7,2391.7 L1101.5,2391.1 L1102.3,2391.5 L1103.2,2392.1 L1104.0,2391.2 L1104.8,2391.3 L1105.7,2391.8 L1106.5,2392.0 L1107.3,2392.5 L1108.1,2391.8 L1109.0,2391.0 L1109.8,2391.7 L1110.6,2391.7 L1111.5,2391.6 L1112.3,2392.4 L1113.1,2391.8 L1114.0,2390.4 L1114.8,2390.4 L1115.6,2391.3 L1116.5,2391.6 L1117.3,2391.3 L1118.1,2392.0 L1119.0,2392.1 L1119.8,2391.7 L1120.6,2391.1 L1121.5,2391.3 L1122.3,2391.6 L1123.1,2392.2 L1124.0,2392.0 L1124.8,2391.2 L1125.6,2392.0 L1126.5,2391.2 L1127.3,2390.2 L1128.1,2391.8 L1129.0,2391.7 L1129.8,2390.9 L1130.6,2391.6 L1131.5,2391.9 L1132.3,2391.1 L1133.1,2391.0 L1134.0,2391.3 L1134.8,2391.9 L1135.6,2391.9 L1136.5,2391.1 L1137.3,2392.2 L1138.1,2392.1 L1139.0,2391.3 L1139.8,2392.5 L1140.6,2392.5 L1141.4,2391.3 L1142.3,2391.1 L1143.1,2391.6 L1143.9,2392.1 L1144.8,2392.1 L1145.6,2392.1 L1146.4,2391.6 L1147.3,2391.8 L1148.1,2392.1 L1148.9,2391.4 L1149.8,2391.3 L1150.6,2391.6 L1151.4,2391.7 L1152.3,2392.7 L1153.1,2392.5 L1153.9,2392.3 L1154.8,2392.3 L1155.6,2392.4 L1156.4,2392.8 L1157.3,2392.3 L1158.1,2392.3 L1158.9,2391.8 L1159.8,2391.9 L1160.6,2393.1 L1161.4,2393.3 L1162.3,2392.3 L1163.1,2391.9 L1163.9,2392.8 L1164.8,2393.5 L1165.6,2392.6 L1166.4,2391.5 L1167.3,2391.5 L1168.1,2391.7 L1168.9,2391.8 L1169.8,2391.7 L1170.6,2392.1 L1171.4,2392.2 L1172.3,2391.4 L1173.1,2391.8 L1173.9,2391.8 L1174.7,2391.8 L1175.6,2392.6 L1176.4,2392.6 L1177.2,2392.3 L1178.1,2391.6 L1178.9,2391.1 L1179.7,2391.4 L1180.6,2391.9 L1181.4,2391.6 L1182.2,2391.7 L1183.1,2392.4 L1183.9,2392.1 L1184.7,2391.8 L1185.6,2392.0 L1186.4,2392.4 L1187.2,2392.0 L1188.1,2391.9 L1188.9,2392.7 L1189.7,2392.9 L1190.6,2392.5 L1191.4,2392.3 L1192.2,2391.7 L1193.1,2392.4 L1193.9,2392.9 L1194.7,2392.1 L1195.6,2392.0 L1196.4,2391.7 L1197.2,2391.1 L1198.1,2391.6 L1198.9,2392.6 L1199.7,2392.9 L1200.6,2393.3 L1201.4,2392.7 L1202.2,2391.9 L1203.1,2392.7 L1203.9,2392.8 L1204.7,2392.3 L1205.6,2392.6 L1206.4,2392.8 L1207.2,2392.5 L1208.0,2392.5 L1208.9,2392.8 L1209.7,2391.9 L1210.5,2391.7 L1211.4,2392.1 L1212.2,2392.5 L1213.0,2392.0 L1213.9,2392.2 L1214.7,2393.3 L1215.5,2392.8 L1216.4,2392.9 L1217.2,2393.1 L1218.0,2393.0 L1218.9,2392.9 L1219.7,2393.1 L1220.5,2393.1 L1221.4,2392.3 L1222.2,2392.6 L1223.0,2392.9 L1223.9,2392.2 L1224.7,2392.7 L1225.5,2393.0 L1226.4,2392.2 L1227.2,2392.1 L1228.0,2391.9 L1228.9,2391.7 L1229.7,2392.3 L1230.5,2392.2 L1231.4,2392.0 L1232.2,2392.5 L1233.0,2393.0 L1233.9,2392.4 L1234.7,2392.0 L1235.5,2392.0 L1236.4,2392.2 L1237.2,2393.2 L1238.0,2392.7 L1238.9,2392.8 L1239.7,2392.9 L1240.5,2392.4 L1241.3,2393.4 L1242.2,2393.2 L1243.0,2392.1 L1243.8,2392.4 L1244.7,2393.1 L1245.5,2393.4 L1246.3,2393.4 L1247.2,2393.6 L1248.0,2393.6 L1248.8,2393.7 L1249.7,2393.4 L1250.5,2392.8 L1251.3,2392.5 L1252.2,2392.6 L1253.0,2393.0 L1253.8,2392.7 L1254.7,2392.7 L1255.5,2392.3 L1256.3,2391.8 L1257.2,2391.3 L1258.0,2391.7 L1258.8,2392.8 L1259.7,2392.7 L1260.5,2393.6 L1261.3,2393.7 L1262.2,2393.0 L1263.0,2393.4 L1263.8,2392.9 L1264.7,2393.1 L1265.5,2393.1 L1266.3,2392.1 L1267.2,2392.9 L1268.0,2393.5 L1268.8,2392.7 L1269.7,2392.3 L1270.5,2392.3 L1271.3,2392.1 L1272.2,2391.6 L1273.0,2392.2 L1273.8,2393.3 L1274.7,2392.9 L1275.5,2393.0 L1276.3,2392.9 L1277.1,2391.7 L1278.0,2392.3 L1278.8,2392.9 L1279.6,2392.6 L1280.5,2392.3 L1281.3,2392.2 L1282.1,2393.5 L1283.0,2393.0 L1283.8,2391.6 L1284.6,2392.3 L1285.5,2393.3 L1286.3,2393.7 L1287.1,2393.4 L1288.0,2393.2 L1288.8,2392.9 L1289.6,2392.5 L1290.5,2393.5 L1291.3,2393.1 L1292.1,2392.2 L1293.0,2392.2 L1293.8,2392.4 L1294.6,2392.7 L1295.5,2392.9 L1296.3,2393.2 L1297.1,2392.9 L1298.0,2393.0 L1298.8,2393.1 L1299.6,2393.2 L1300.5,2393.2 L1301.3,2393.1 L1302.1,2393.5 L1303.0,2393.2 L1303.8,2393.0 L1304.6,2393.0 L1305.5,2392.8 L1306.3,2393.2 L1307.1,2393.2 L1308.0,2392.9 L1308.8,2393.0 L1309.6,2392.5 L1310.4,2392.1 L1311.3,2392.7 L1312.1,2393.2 L1312.9,2393.4 L1313.8,2393.1 L1314.6,2393.1 L1315.4,2393.4 L1316.3,2392.7 L1317.1,2392.5 L1317.9,2393.7 L1318.8,2393.5 L1319.6,2392.6 L1320.4,2392.5 L1321.3,2392.9 L1322.1,2393.8 L1322.9,2393.3 L1323.8,2392.0 L1324.6,2391.9 L1325.4,2392.8 L1326.3,2393.6 L1327.1,2393.9 L1327.9,2393.5 L1328.8,2393.2 L1329.6,2393.3 L1330.4,2393.6 L1331.3,2393.9 L1332.1,2393.3 L1332.9,2392.9 L1333.8,2392.7 L1334.6,2393.0 L1335.4,2393.3 L1336.3,2393.0 L1337.1,2393.5 L1337.9,2393.5 L1338.8,2393.1 L1339.6,2392.3 L1340.4,2392.4 L1341.3,2393.1 L1342.1,2393.7 L1342.9,2394.1 L1343.7,2393.1 L1344.6,2393.7 L1345.4,2394.8 L1346.2,2393.5 L1347.1,2392.6 L1347.9,2393.3 L1348.7,2393.7 L1349.6,2393.6 L1350.4,2393.3 L1351.2,2393.2 L1352.1,2393.1 L1352.9,2393.2 L1353.7,2393.9 L1354.6,2393.8 L1355.4,2393.3 L1356.2,2393.4 L1357.1,2394.4 L1357.9,2394.4 L1358.7,2393.9 L1359.6,2394.0 L1360.4,2393.6 L1361.2,2394.5 L1362.1,2394.4 L1362.9,2392.9 L1363.7,2392.6 L1364.6,2393.0 L1365.4,2393.2 L1366.2,2393.2 L1367.1,2393.1 L1367.9,2393.7 L1368.7,2394.0 L1369.6,2393.0 L1370.4,2392.6 L1371.2,2393.3 L1372.1,2393.3 L1372.9,2393.0 L1373.7,2393.7 L1374.6,2393.5 L1375.4,2393.6 L1376.2,2393.9 L1377.0,2393.6 L1377.9,2393.4 L1378.7,2393.7 L1379.5,2393.9 L1380.4,2393.5 L1381.2,2393.4 L1382.0,2393.2 L1382.9,2393.5 L1383.7,2394.1 L1384.5,2393.8 L1385.4,2393.6 L1386.2,2393.5 L1387.0,2393.7 L1387.9,2393.7 L1388.7,2393.3 L1389.5,2393.1 L1390.4,2393.5 L1391.2,2393.5 L1392.0,2393.2 L1392.9,2393.8 L1393.7,2394.1 L1394.5,2393.8 L1395.4,2393.1 L1396.2,2392.8 L1397.0,2393.3 L1397.9,2393.8 L1398.7,2393.9 L1399.5,2393.3 L1400.4,2392.9 L1401.2,2393.7 L1402.0,2393.5 L1402.9,2393.1 L1403.7,2393.5 L1404.5,2393.0 L1405.4,2392.4 L1406.2,2392.6 L1407.0,2393.1 L1407.9,2393.6 L1408.7,2393.2 L1409.5,2392.4 L1410.4,2393.0 L1411.2,2393.3 L1412.0,2393.4 L1412.8,2393.6 L1413.7,2394.0 L1414.5,2394.3 L1415.3,2394.5 L1416.2,2394.0 L1417.0,2393.0 L1417.8,2393.3 L1418.7,2393.5 L1419.5,2393.9 L1420.3,2394.6 L1421.2,2393.5 L1422.0,2393.0 L1422.8,2394.0 L1423.7,2394.5 L1424.5,2393.8 L1425.3,2393.3 L1426.2,2393.4 L1427.0,2393.3 L1427.8,2394.1 L1428.7,2393.6 L1429.5,2392.9 L1430.3,2393.8 L1431.2,2393.4 L1432.0,2393.4 L1432.8,2394.3 L1433.7,2394.4 L1434.5,2393.7 L1435.3,2393.4 L1436.2,2393.8 L1437.0,2394.7 L1437.8,2394.2 L1438.7,2393.5 L1439.5,2393.4 L1440.3,2393.7 L1441.2,2394.0 L1442.0,2393.6 L1442.8,2393.9 L1443.7,2393.9 L1444.5,2393.2 L1445.3,2393.7 L1446.1,2393.7 L1447.0,2393.5 L1447.8,2393.9 L1448.6,2394.0 L1449.5,2393.4 L1450.3,2393.1 L1451.1,2394.2 L1452.0,2394.1 L1452.8,2393.9 L1453.6,2394.3 L1454.5,2393.9 L1455.3,2393.8 L1456.1,2393.8 L1457.0,2394.3 L1457.8,2394.9 L1458.6,2394.0 L1459.5,2393.2 L1460.3,2393.3 L1461.1,2393.4 L1462.0,2393.5 L1462.8,2393.1 L1463.6,2393.8 L1464.5,2394.6 L1465.3,2394.3 L1466.1,2394.4 L1467.0,2394.1 L1467.8,2393.4 L1468.6,2393.7 L1469.5,2394.1 L1470.3,2394.5 L1471.1,2394.4 L1472.0,2393.8 L1472.8,2393.8 L1473.6,2393.8 L1474.5,2393.6 L1475.3,2394.2 L1476.1,2394.3 L1477.0,2394.5 L1477.8,2394.5 L1478.6,2393.3 L1479.4,2393.7 L1480.3,2394.2 L1481.1,2393.9 L1481.9,2394.3 L1482.8,2394.3 L1483.6,2394.1 L1484.4,2394.5 L1485.3,2394.4 L1486.1,2394.0 L1486.9,2394.3 L1487.8,2394.3 L1488.6,2393.8 L1489.4,2393.5 L1490.3,2393.7 L1491.1,2393.8 L1491.9,2393.7 L1492.8,2394.1 L1493.6,2394.1 L1494.4,2393.1 L1495.3,2393.4 L1496.1,2393.8 L1496.9,2393.7 L1497.8,2394.2 L1498.6,2393.9 L1499.4,2394.2 L1500.3,2394.1 L1501.1,2394.3 L1501.9,2395.0 L1502.8,2394.5 L1503.6,2394.1 L1504.4,2394.1 L1505.3,2394.3 L1506.1,2394.8 L1506.9,2394.2 L1507.8,2393.6 L1508.6,2394.3 L1509.4,2394.6 L1510.3,2394.7 L1511.1,2394.7 L1511.9,2394.8 L1512.7,2394.3 L1513.6,2394.2 L1514.4,2394.4 L1515.2,2393.6 L1516.1,2393.8 L1516.9,2394.5 L1517.7,2394.2 L1518.6,2394.6 L1519.4,2394.6 L1520.2,2394.0 L1521.1,2394.3 L1521.9,2394.4 L1522.7,2393.5 L1523.6,2393.2 L1524.4,2394.1 L1525.2,2394.4 L1526.1,2394.1 L1526.9,2394.4 L1527.7,2394.8 L1528.6,2395.1 L1529.4,2395.1 L1530.2,2394.8 L1531.1,2394.7 L1531.9,2394.5 L1532.7,2394.4 L1533.6,2393.9 L1534.4,2393.9 L1535.2,2394.2 L1536.1,2394.4 L1536.9,2394.5 L1537.7,2394.0 L1538.6,2394.4 L1539.4,2394.9 L1540.2,2394.5 L1541.1,2393.7 L1541.9,2393.3 L1542.7,2393.8 L1543.6,2394.4 L1544.4,2394.8 L1545.2,2395.3 L1546.0,2394.8 L1546.9,2393.8 L1547.7,2394.2 L1548.5,2394.2 L1549.4,2393.9 L1550.2,2394.2 L1551.0,2394.0 L1551.9,2393.9 L1552.7,2393.6 L1553.5,2394.2 L1554.4,2394.7 L1555.2,2393.8 L1556.0,2393.3 L1556.9,2394.0 L1557.7,2394.1 L1558.5,2393.6 L1559.4,2393.4 L1560.2,2394.1 L1561.0,2394.4 L1561.9,2394.3 L1562.7,2395.0 L1563.5,2394.4 L1564.4,2393.3 L1565.2,2393.6 L1566.0,2393.8 L1566.9,2394.5 L1567.7,2396.0 L1568.5,2396.0 L1569.4,2395.2 L1570.2,2394.7 L1571.0,2394.1 L1571.9,2393.8 L1572.7,2394.7 L1573.5,2395.3 L1574.4,2394.3 L1575.2,2393.9 L1576.0,2395.3 L1576.9,2395.3 L1577.7,2394.2 L1578.5,2394.5 L1579.4,2394.7 L1580.2,2394.7 L1581.0,2394.4 L1581.8,2394.3 L1582.7,2394.6 L1583.5,2394.9 L1584.3,2394.7 L1585.2,2395.1 L1586.0,2395.0 L1586.8,2394.8 L1587.7,2395.2 L1588.5,2394.9 L1589.3,2394.1 L1590.2,2393.7 L1591.0,2394.3 L1591.8,2393.9 L1592.7,2393.1 L1593.5,2393.6 L1594.3,2394.3 L1595.2,2393.9 L1596.0,2394.2 L1596.8,2394.3 L1597.7,2393.8 L1598.5,2393.9 L1599.3,2394.0 L1600.2,2394.6 L1601.0,2394.9 L1601.8,2394.2 L1602.7,2393.8 L1603.5,2394.0 L1604.3,2394.4 L1605.2,2395.6 L1606.0,2395.6 L1606.8,2394.8 L1607.7,2394.1 L1608.5,2394.2 L1609.3,2394.7 L1610.2,2394.5 L1611.0,2394.5 L1611.8,2394.3 L1612.7,2394.3 L1613.5,2394.8 L1614.3,2394.1 L1615.1,2394.0 L1616.0,2394.7 L1616.8,2394.0 L1617.6,2394.3 L1618.5,2395.0 L1619.3,2394.5 L1620.1,2394.2 L1621.0,2394.5 L1621.8,2394.0 L1622.6,2393.7 L1623.5,2393.7 L1624.3,2394.4 L1625.1,2394.9 L1626.0,2395.6 L1626.8,2395.3 L1627.6,2393.8 L1628.5,2394.1 L1629.3,2394.1 L1630.1,2393.9 L1631.0,2394.1 L1631.8,2393.6 L1632.6,2393.6 L1633.5,2395.0 L1634.3,2395.7 L1635.1,2395.5 L1636.0,2395.3 L1636.8,2394.8 L1637.6,2395.2 L1638.5,2395.5 L1639.3,2394.7 L1640.1,2394.8 L1641.0,2394.5 L1641.8,2393.7 L1642.6,2394.1 L1643.5,2393.6 L1644.3,2393.6 L1645.1,2394.3 L1646.0,2394.3 L1646.8,2395.1 L1647.6,2394.9 L1648.4,2394.6 L1649.3,2394.8 L1650.1,2394.6 L1650.9,2394.8 L1651.8,2394.8 L1652.6,2394.2 L1653.4,2394.0 L1654.3,2395.2 L1655.1,2394.9 L1655.9,2394.6 L1656.8,2394.3 L1657.6,2394.6 L1658.4,2394.3 L1659.3,2393.6 L1660.1,2394.2 L1660.9,2394.6 L1661.8,2395.2 L1662.6,2394.7 L1663.4,2394.7 L1664.3,2395.4 L1665.1,2395.2 L1665.9,2394.9 L1666.8,2394.8 L1667.6,2394.7 L1668.4,2394.3 L1669.3,2394.3 L1670.1,2395.1 L1670.9,2395.4 L1671.8,2395.2 L1672.6,2394.4 L1673.4,2393.8 L1674.3,2394.4 L1675.1,2394.8 L1675.9,2395.0 L1676.8,2394.8 L1677.6,2394.3 L1678.4,2394.4 L1679.3,2394.8 L1680.1,2395.1 L1680.9,2393.9 L1681.7,2393.6 L1682.6,2394.9 L1683.4,2394.6 L1684.2,2393.8 L1685.1,2394.1 L1685.9,2394.0 L1686.7,2393.8 L1687.6,2394.2 L1688.4,2394.3 L1689.2,2394.6 L1690.1,2395.1 L1690.9,2394.9 L1691.7,2393.5 L1692.6,2394.1 L1693.4,2395.1 L1694.2,2394.6 L1695.1,2394.3 L1695.9,2394.2 L1696.7,2394.6 L1697.6,2394.5 L1698.4,2393.9 L1699.2,2394.3 L1700.1,2394.4 L1700.9,2395.0 L1701.7,2394.9 L1702.6,2394.0 L1703.4,2394.3 L1704.2,2394.5 L1705.1,2394.6 L1705.9,2394.5 L1706.7,2394.5 L1707.6,2394.6 L1708.4,2394.8 L1709.2,2395.2 L1710.1,2394.4 L1710.9,2394.4 L1711.7,2395.4 L1712.6,2395.4 L1713.4,2395.3 L1714.2,2394.8 L1715.0,2394.4 L1715.9,2394.0 L1716.7,2394.1 L1717.5,2394.6 L1718.4,2394.8 L1719.2,2394.8 L1720.0,2394.9 L1720.9,2394.7 L1721.7,2394.9 L1722.5,2395.1 L1723.4,2395.1 L1724.2,2395.3 L1725.0,2395.2 L1725.9,2395.4 L1726.7,2395.0 L1727.5,2394.7 L1728.4,2395.0 L1729.2,2395.6 L1730.0,2395.5 L1730.9,2394.3 L1731.7,2394.2" fill="none" stroke="#0000f0" stroke-width="4.6" stroke-linejoin="round"/>
<path d="M108.3,2613.1 L109.1,2613.2 L110.0,2612.9 L110.8,2613.1 L111.6,2612.7 L112.5,2612.7 L113.3,2611.8 L114.1,2611.8 L115.0,2612.7 L115.8,2612.4 L116.6,2612.7 L117.5,2611.9 L118.3,2611.9 L119.1,2612.6 L120.0,2612.3 L120.8,2613.2 L121.6,2613.8 L122.5,2612.5 L123.3,2611.2 L124.1,2611.5 L125.0,2612.4 L125.8,2612.6 L126.6,2612.0 L127.4,2612.0 L128.3,2612.4 L129.1,2612.1 L129.9,2611.4 L130.8,2611.5 L131.6,2612.1 L132.4,2611.5 L133.3,2611.2 L134.1,2611.7 L134.9,2611.9 L135.8,2611.6 L136.6,2610.7 L137.4,2610.4 L138.3,2610.0 L139.1,2608.8 L139.9,2608.2 L140.8,2606.2 L141.6,2601.1 L142.4,2595.2 L143.3,2588.6 L144.1,2580.5 L144.9,2571.2 L145.8,2565.3 L146.6,2565.9 L147.4,2571.3 L148.3,2579.7 L149.1,2588.2 L149.9,2595.4 L150.8,2600.6 L151.6,2604.2 L152.4,2606.5 L153.3,2607.0 L154.1,2606.6 L154.9,2606.2 L155.8,2606.9 L156.6,2607.7 L157.4,2607.4 L158.3,2607.1 L159.1,2607.7 L159.9,2607.8 L160.7,2606.7 L161.6,2606.8 L162.4,2606.0 L163.2,2604.6 L164.1,2603.9 L164.9,2602.8 L165.7,2602.1 L166.6,2601.7 L167.4,2600.5 L168.2,2598.8 L169.1,2596.8 L169.9,2594.6 L170.7,2591.9 L171.6,2588.1 L172.4,2584.7 L173.2,2580.5 L174.1,2573.5 L174.9,2564.9 L175.7,2554.4 L176.6,2539.7 L177.4,2518.3 L178.2,2488.0 L179.1,2444.8 L179.9,2382.6 L180.7,2298.6 L181.6,2212.3 L182.4,2172.6 L183.2,2213.2 L184.1,2299.4 L184.9,2382.8 L185.7,2446.1 L186.6,2489.2 L187.4,2518.5 L188.2,2539.7 L189.1,2554.7 L189.9,2565.4 L190.7,2573.2 L191.6,2579.3 L192.4,2585.3 L193.2,2589.4 L194.0,2592.0 L194.9,2595.0 L195.7,2597.3 L196.5,2599.3 L197.4,2601.2 L198.2,2602.4 L199.0,2602.3 L199.9,2602.9 L200.7,2604.5 L201.5,2605.6 L202.4,2606.4 L203.2,2606.6 L204.0,2606.8 L204.9,2606.9 L205.7,2607.2 L206.5,2607.7 L207.4,2608.2 L208.2,2609.6 L209.0,2610.5 L209.9,2610.0 L210.7,2609.5 L211.5,2609.2 L212.4,2609.2 L213.2,2609.3 L214.0,2609.3 L214.9,2607.9 L215.7,2607.3 L216.5,2607.6 L217.4,2606.6 L218.2,2604.3 L219.0,2600.8 L219.9,2598.6 L220.7,2596.9 L221.5,2593.9 L222.4,2591.0 L223.2,2589.7 L224.0,2588.9 L224.9,2590.2 L225.7,2592.5 L226.5,2594.2 L227.3,2597.1 L228.2,2600.0 L229.0,2602.6 L229.8,2605.1 L230.7,2606.9 L231.5,2608.6 L232.3,2609.3 L233.2,2610.0 L234.0,2611.2 L234.8,2611.7 L235.7,2612.0 L236.5,2612.4 L237.3,2612.6 L238.2,2612.4 L239.0,2612.3 L239.8,2612.1 L240.7,2611.6 L241.5,2611.8 L242.3,2612.2 L243.2,2612.7 L244.0,2613.4 L244.8,2613.4 L245.7,2613.0 L246.5,2612.8 L247.3,2612.4 L248.2,2612.6 L249.0,2612.6 L249.8,2612.1 L250.7,2612.6 L251.5,2613.9 L252.3,2613.1 L253.2,2612.2 L254.0,2612.6 L254.8,2612.8 L255.7,2613.2 L256.5,2612.3 L257.3,2612.2 L258.2,2612.9 L259.0,2613.0 L259.8,2613.3 L260.6,2613.6 L261.5,2613.1 L262.3,2611.7 L263.1,2611.6 L264.0,2612.3 L264.8,2612.3 L265.6,2612.2 L266.5,2612.1 L267.3,2612.7 L268.1,2613.0 L269.0,2612.2 L269.8,2611.9 L270.6,2612.8 L271.5,2612.0 L272.3,2610.6 L273.1,2611.7 L274.0,2612.2 L274.8,2611.6 L275.6,2611.1 L276.5,2611.4 L277.3,2611.5 L278.1,2610.0 L279.0,2610.2 L279.8,2609.5 L280.6,2608.5 L281.5,2608.9 L282.3,2608.7 L283.1,2608.1 L284.0,2606.9 L284.8,2606.4 L285.6,2604.6 L286.5,2601.4 L287.3,2597.3 L288.1,2591.3 L289.0,2583.8 L289.8,2574.6 L290.6,2563.9 L291.5,2551.1 L292.3,2537.1 L293.1,2522.0 L294.0,2506.9 L294.8,2494.2 L295.6,2485.4 L296.4,2481.0 L297.3,2481.4 L298.1,2488.5 L298.9,2499.6 L299.8,2512.5 L300.6,2526.9 L301.4,2540.9 L302.3,2554.0 L303.1,2566.1 L303.9,2576.1 L304.8,2582.7 L305.6,2586.3 L306.4,2589.2 L307.3,2590.6 L308.1,2589.7 L308.9,2588.3 L309.8,2586.2 L310.6,2584.5 L311.4,2583.4 L312.3,2583.7 L313.1,2584.8 L313.9,2587.2 L314.8,2590.5 L315.6,2593.1 L316.4,2596.8 L317.3,2600.0 L318.1,2602.7 L318.9,2605.1 L319.8,2606.3 L320.6,2607.5 L321.4,2607.6 L322.3,2608.2 L323.1,2608.8 L323.9,2608.9 L324.8,2609.3 L325.6,2608.9 L326.4,2608.5 L327.3,2608.8 L328.1,2609.5 L328.9,2610.3 L329.7,2610.6 L330.6,2611.1 L331.4,2611.6 L332.2,2611.8 L333.1,2612.2 L333.9,2612.5 L334.7,2612.5 L335.6,2613.2 L336.4,2613.0 L337.2,2612.3 L338.1,2613.0 L338.9,2613.0 L339.7,2612.5 L340.6,2613.5 L341.4,2614.2 L342.2,2614.0 L343.1,2613.5 L343.9,2613.7 L344.7,2613.8 L345.6,2613.0 L346.4,2612.9 L347.2,2613.8 L348.1,2613.8 L348.9,2613.4 L349.7,2614.4 L350.6,2613.9 L351.4,2612.8 L352.2,2613.0 L353.1,2613.6 L353.9,2612.6 L354.7,2611.6 L355.6,2612.5 L356.4,2613.3 L357.2,2613.0 L358.1,2613.1 L358.9,2613.7 L359.7,2613.6 L360.6,2613.6 L361.4,2613.5 L362.2,2613.1 L363.0,2612.7 L363.9,2613.6 L364.7,2613.2 L365.5,2612.5 L366.4,2612.5 L367.2,2612.9 L368.0,2614.2 L368.9,2614.8 L369.7,2613.6 L370.5,2613.3 L371.4,2613.6 L372.2,2613.1 L373.0,2613.0 L373.9,2613.4 L374.7,2613.1 L375.5,2611.9 L376.4,2612.1 L377.2,2613.0 L378.0,2613.2 L378.9,2613.3 L379.7,2613.0 L380.5,2612.9 L381.4,2612.8 L382.2,2612.0 L383.0,2612.4 L383.9,2612.5 L384.7,2612.5 L385.5,2612.0 L386.4,2610.8 L387.2,2609.7 L388.0,2608.4 L388.9,2606.8 L389.7,2604.5 L390.5,2602.1 L391.4,2598.2 L392.2,2593.2 L393.0,2588.4 L393.9,2584.4 L394.7,2581.2 L395.5,2579.1 L396.3,2578.2 L397.2,2577.7 L398.0,2580.4 L398.8,2584.7 L399.7,2588.7 L400.5,2593.6 L401.3,2598.1 L402.2,2601.3 L403.0,2603.9 L403.8,2606.2 L404.7,2608.3 L405.5,2610.0 L406.3,2610.6 L407.2,2611.3 L408.0,2612.2 L408.8,2612.3 L409.7,2611.9 L410.5,2611.8 L411.3,2611.8 L412.2,2611.6 L413.0,2611.7 L413.8,2612.9 L414.7,2613.0 L415.5,2612.6 L416.3,2613.2 L417.2,2613.3 L418.0,2613.7 L418.8,2613.6 L419.7,2613.4 L420.5,2613.8 L421.3,2613.4 L422.2,2612.6 L423.0,2612.0 L423.8,2612.0 L424.7,2612.3 L425.5,2612.8 L426.3,2613.1 L427.2,2612.5 L428.0,2612.2 L428.8,2612.9 L429.6,2612.8 L430.5,2612.4 L431.3,2613.0 L432.1,2612.2 L433.0,2611.5 L433.8,2611.7 L434.6,2611.4 L435.5,2611.5 L436.3,2611.7 L437.1,2611.7 L438.0,2611.9 L438.8,2611.3 L439.6,2610.7 L440.5,2609.9 L441.3,2609.2 L442.1,2609.1 L443.0,2608.6 L443.8,2608.5 L444.6,2607.6 L445.5,2606.9 L446.3,2605.0 L447.1,2602.5 L448.0,2602.3 L448.8,2601.7 L449.6,2599.4 L450.5,2598.2 L451.3,2597.5 L452.1,2595.8 L453.0,2594.1 L453.8,2592.7 L454.6,2590.8 L455.5,2589.8 L456.3,2588.7 L457.1,2587.8 L458.0,2587.1 L458.8,2585.9 L459.6,2586.5 L460.5,2586.5 L461.3,2585.2 L462.1,2585.8 L463.0,2588.1 L463.8,2589.1 L464.6,2589.2 L465.4,2590.5 L466.3,2592.8 L467.1,2594.1 L467.9,2595.0 L468.8,2596.4 L469.6,2598.3 L470.4,2600.3 L471.3,2601.9 L472.1,2602.5 L472.9,2603.0 L473.8,2604.3 L474.6,2605.1 L475.4,2606.3 L476.3,2607.6 L477.1,2607.4 L477.9,2607.7 L478.8,2608.9 L479.6,2608.6 L480.4,2608.1 L481.3,2608.0 L482.1,2607.6 L482.9,2607.1 L483.8,2606.6 L484.6,2605.9 L485.4,2604.1 L486.3,2602.2 L487.1,2601.5 L487.9,2600.1 L488.8,2597.2 L489.6,2594.9 L490.4,2593.4 L491.3,2591.0 L492.1,2587.8 L492.9,2585.9 L493.8,2583.6 L494.6,2580.7 L495.4,2579.8 L496.3,2579.2 L497.1,2577.3 L497.9,2577.3 L498.7,2578.0 L499.6,2578.3 L500.4,2579.7 L501.2,2581.2 L502.1,2583.4 L502.9,2586.2 L503.7,2589.0 L504.6,2591.1 L505.4,2593.4 L506.2,2595.9 L507.1,2597.8 L507.9,2599.8 L508.7,2602.6 L509.6,2604.9 L510.4,2605.4 L511.2,2606.6 L512.1,2608.3 L512.9,2608.3 L513.7,2609.1 L514.6,2610.3 L515.4,2610.9 L516.2,2611.7 L517.1,2612.1 L517.9,2612.2 L518.7,2612.2 L519.6,2612.2 L520.4,2612.9 L521.2,2613.2 L522.1,2612.3 L522.9,2612.1 L523.7,2612.6 L524.6,2613.2 L525.4,2613.0 L526.2,2612.7 L527.1,2612.9 L527.9,2613.5 L528.7,2614.1 L529.6,2612.9 L530.4,2612.6 L531.2,2613.5 L532.0,2613.3 L532.9,2613.0 L533.7,2613.0 L534.5,2613.1 L535.4,2613.2 L536.2,2613.7 L537.0,2613.8 L537.9,2613.0 L538.7,2613.0 L539.5,2613.6 L540.4,2613.9 L541.2,2613.5 L542.0,2613.7 L542.9,2613.5 L543.7,2612.8 L544.5,2613.6 L545.4,2614.3 L546.2,2613.7 L547.0,2613.9 L547.9,2613.9 L548.7,2614.0 L549.5,2614.2 L550.4,2613.4 L551.2,2613.5 L552.0,2613.2 L552.9,2612.8 L553.7,2613.2 L554.5,2612.8 L555.4,2613.5 L556.2,2614.2 L557.0,2613.9 L557.9,2614.1 L558.7,2613.9 L559.5,2613.9 L560.4,2613.5 L561.2,2613.1 L562.0,2613.3 L562.9,2613.3 L563.7,2613.9 L564.5,2614.8 L565.3,2614.9 L566.2,2613.5 L567.0,2612.9 L567.8,2613.8 L568.7,2614.1 L569.5,2613.5 L570.3,2613.4 L571.2,2613.8 L572.0,2613.9 L572.8,2614.1 L573.7,2612.6 L574.5,2612.1 L575.3,2613.7 L576.2,2613.7 L577.0,2614.1 L577.8,2613.6 L578.7,2612.2 L579.5,2613.3 L580.3,2613.0 L581.2,2612.1 L582.0,2612.4 L582.8,2613.0 L583.7,2613.2 L584.5,2612.3 L585.3,2612.4 L586.2,2612.5 L587.0,2612.5 L587.8,2612.2 L588.7,2612.4 L589.5,2613.3 L590.3,2612.6 L591.2,2611.2 L592.0,2610.8 L592.8,2611.6 L593.7,2611.8 L594.5,2611.1 L595.3,2610.6 L596.2,2610.7 L597.0,2611.3 L597.8,2611.7 L598.7,2611.4 L599.5,2611.2 L600.3,2611.2 L601.1,2611.3 L602.0,2611.4 L602.8,2611.6 L603.6,2611.7 L604.5,2611.2 L605.3,2610.8 L606.1,2610.8 L607.0,2610.2 L607.8,2609.5 L608.6,2609.0 L609.5,2608.8 L610.3,2609.3 L611.1,2609.8 L612.0,2610.1 L612.8,2609.6 L613.6,2609.2 L614.5,2610.0 L615.3,2609.9 L616.1,2607.9 L617.0,2607.5 L617.8,2608.0 L618.6,2607.7 L619.5,2608.0 L620.3,2607.8 L621.1,2606.8 L622.0,2606.0 L622.8,2605.0 L623.6,2603.9 L624.5,2602.8 L625.3,2601.2 L626.1,2599.7 L627.0,2597.5 L627.8,2594.8 L628.6,2592.9 L629.5,2589.9 L630.3,2586.3 L631.1,2581.9 L632.0,2577.1 L632.8,2574.2 L633.6,2569.8 L634.4,2564.0 L635.3,2559.8 L636.1,2556.2 L636.9,2552.2 L637.8,2548.0 L638.6,2544.0 L639.4,2540.8 L640.3,2538.8 L641.1,2537.2 L641.9,2536.6 L642.8,2536.7 L643.6,2537.7 L644.4,2540.0 L645.3,2543.0 L646.1,2546.4 L646.9,2551.1 L647.8,2556.4 L648.6,2560.2 L649.4,2565.0 L650.3,2570.3 L651.1,2574.5 L651.9,2578.4 L652.8,2582.2 L653.6,2586.3 L654.4,2590.1 L655.3,2593.3 L656.1,2596.6 L656.9,2598.9 L657.8,2600.2 L658.6,2601.8 L659.4,2603.9 L660.3,2605.7 L661.1,2607.1 L661.9,2608.0 L662.8,2608.0 L663.6,2608.1 L664.4,2608.8 L665.3,2609.9 L666.1,2610.4 L666.9,2610.3 L667.7,2610.6 L668.6,2610.8 L669.4,2610.8 L670.2,2610.7 L671.1,2610.6 L671.9,2610.7 L672.7,2610.6 L673.6,2611.2 L674.4,2611.3 L675.2,2611.7 L676.1,2612.7 L676.9,2612.5 L677.7,2612.5 L678.6,2612.3 L679.4,2612.0 L680.2,2612.1 L681.1,2612.5 L681.9,2612.9 L682.7,2613.5 L683.6,2614.1 L684.4,2612.9 L685.2,2612.4 L686.1,2613.8 L686.9,2613.9 L687.7,2613.0 L688.6,2613.4 L689.4,2612.4 L690.2,2612.1 L691.1,2613.5 L691.9,2613.3 L692.7,2613.4 L693.6,2613.6 L694.4,2613.7 L695.2,2614.2 L696.1,2613.9 L696.9,2612.9 L697.7,2612.5 L698.6,2613.0 L699.4,2614.0 L700.2,2614.3 L701.0,2613.2 L701.9,2614.1 L702.7,2614.6 L703.5,2614.1 L704.4,2613.5 L705.2,2613.7 L706.0,2614.8 L706.9,2615.4 L707.7,2615.6 L708.5,2614.5 L709.4,2614.5 L710.2,2614.4 L711.0,2614.3 L711.9,2614.2 L712.7,2613.3 L713.5,2613.2 L714.4,2613.9 L715.2,2614.4 L716.0,2614.1 L716.9,2614.3 L717.7,2614.6 L718.5,2614.0 L719.4,2614.2 L720.2,2614.5 L721.0,2614.2 L721.9,2614.4 L722.7,2614.0 L723.5,2614.0 L724.4,2614.4 L725.2,2614.7 L726.0,2614.2 L726.9,2613.9 L727.7,2615.2 L728.5,2615.0 L729.4,2614.7 L730.2,2614.4 L731.0,2614.4 L731.9,2615.4 L732.7,2615.5 L733.5,2615.3 L734.3,2615.4 L735.2,2615.1 L736.0,2614.7 L736.8,2614.9 L737.7,2615.6 L738.5,2615.1 L739.3,2615.0 L740.2,2615.4 L741.0,2615.4 L741.8,2615.5 L742.7,2615.3 L743.5,2615.1 L744.3,2614.8 L745.2,2615.3 L746.0,2616.0 L746.8,2615.7 L747.7,2615.2 L748.5,2615.2 L749.3,2615.6 L750.2,2615.6 L751.0,2615.4 L751.8,2616.2 L752.7,2616.3 L753.5,2615.7 L754.3,2615.7 L755.2,2615.6 L756.0,2615.3 L756.8,2615.0 L757.7,2615.5 L758.5,2614.8 L759.3,2615.0 L760.2,2615.6 L761.0,2614.9 L761.8,2615.7 L762.7,2615.4 L763.5,2614.9 L764.3,2615.3 L765.2,2614.9 L766.0,2615.4 L766.8,2615.2 L767.7,2614.9 L768.5,2615.5 L769.3,2614.5 L770.1,2614.6 L771.0,2615.9 L771.8,2615.9 L772.6,2614.1 L773.5,2614.3 L774.3,2615.5 L775.1,2615.8 L776.0,2616.2 L776.8,2615.7 L777.6,2614.8 L778.5,2615.1 L779.3,2615.3 L780.1,2615.5 L781.0,2614.9 L781.8,2614.5 L782.6,2615.2 L783.5,2615.6 L784.3,2615.6 L785.1,2615.1 L786.0,2615.4 L786.8,2615.1 L787.6,2615.2 L788.5,2615.5 L789.3,2615.2 L790.1,2616.0 L791.0,2616.5 L791.8,2616.1 L792.6,2616.3 L793.5,2615.9 L794.3,2615.2 L795.1,2615.0 L796.0,2615.7 L796.8,2616.0 L797.6,2616.7 L798.5,2616.5 L799.3,2615.6 L800.1,2616.2 L801.0,2616.3 L801.8,2615.7 L802.6,2615.4 L803.4,2615.8 L804.3,2615.9 L805.1,2615.8 L805.9,2616.3 L806.8,2615.8 L807.6,2615.7 L808.4,2615.9 L809.3,2615.7 L810.1,2615.7 L810.9,2615.5 L811.8,2615.8 L812.6,2615.8 L813.4,2615.4 L814.3,2615.1 L815.1,2614.8 L815.9,2615.1 L816.8,2615.4 L817.6,2615.4 L818.4,2615.4 L819.3,2615.3 L820.1,2615.8 L820.9,2615.8 L821.8,2616.8 L822.6,2616.3 L823.4,2615.3 L824.3,2615.3 L825.1,2615.6 L825.9,2616.2 L826.8,2615.7 L827.6,2614.9 L828.4,2615.1 L829.3,2615.5 L830.1,2615.8 L830.9,2616.3 L831.8,2616.3 L832.6,2616.1 L833.4,2616.1 L834.3,2615.9 L835.1,2616.4 L835.9,2616.4 L836.7,2616.0 L837.6,2616.6 L838.4,2616.7 L839.2,2616.5 L840.1,2616.4 L840.9,2616.0 L841.7,2616.3 L842.6,2616.1 L843.4,2615.7 L844.2,2616.2 L845.1,2615.9 L845.9,2615.5 L846.7,2615.7 L847.6,2615.7 L848.4,2615.4 L849.2,2615.5 L850.1,2615.8 L850.9,2616.0 L851.7,2616.8 L852.6,2616.5 L853.4,2615.9 L854.2,2616.2 L855.1,2615.8 L855.9,2616.1 L856.7,2616.3 L857.6,2616.1 L858.4,2615.7 L859.2,2615.2 L860.1,2615.2 L860.9,2615.6 L861.7,2615.7 L862.6,2615.7 L863.4,2615.1 L864.2,2615.4 L865.1,2616.3 L865.9,2615.4 L866.7,2615.0 L867.6,2615.5 L868.4,2615.0 L869.2,2614.8 L870.0,2614.9 L870.9,2614.8 L871.7,2614.7 L872.5,2614.4 L873.4,2614.6 L874.2,2613.9 L875.0,2613.5 L875.9,2613.2 L876.7,2612.5 L877.5,2611.4 L878.4,2609.5 L879.2,2607.1 L880.0,2602.7 L880.9,2596.3 L881.7,2586.5 L882.5,2572.0 L883.4,2553.8 L884.2,2533.4 L885.0,2511.4 L885.9,2492.5 L886.7,2481.0 L887.5,2479.2 L888.4,2489.9 L889.2,2506.8 L890.0,2528.1 L890.9,2551.1 L891.7,2570.0 L892.5,2583.7 L893.4,2594.2 L894.2,2602.3 L895.0,2606.8 L895.9,2608.9 L896.7,2610.7 L897.5,2611.2 L898.4,2611.6 L899.2,2613.0 L900.0,2613.8 L900.9,2613.8 L901.7,2613.9 L902.5,2614.4 L903.3,2614.5 L904.2,2615.0 L905.0,2615.9 L905.8,2616.2 L906.7,2616.4 L907.5,2616.8 L908.3,2616.1 L909.2,2615.6 L910.0,2615.6 L910.8,2616.0 L911.7,2615.5 L912.5,2616.1 L913.3,2616.5 L914.2,2615.2 L915.0,2615.6 L915.8,2616.7 L916.7,2617.2 L917.5,2617.1 L918.3,2616.8 L919.2,2616.5 L920.0,2616.6 L920.8,2616.9 L921.7,2616.4 L922.5,2616.4 L923.3,2617.0 L924.2,2617.4 L925.0,2617.4 L925.8,2617.4 L926.7,2617.4 L927.5,2616.9 L928.3,2617.0 L929.2,2617.0 L930.0,2616.8 L930.8,2617.1 L931.7,2616.8 L932.5,2615.9 L933.3,2616.6 L934.2,2617.5 L935.0,2616.6 L935.8,2616.1 L936.7,2616.6 L937.5,2616.6 L938.3,2616.3 L939.1,2617.1 L940.0,2617.2 L940.8,2616.9 L941.6,2617.2 L942.5,2616.9 L943.3,2617.1 L944.1,2617.2 L945.0,2617.1 L945.8,2617.2 L946.6,2617.4 L947.5,2617.0 L948.3,2617.9 L949.1,2618.3 L950.0,2617.7 L950.8,2618.2 L951.6,2617.4 L952.5,2617.2 L953.3,2617.2 L954.1,2617.1 L955.0,2617.9 L955.8,2617.3 L956.6,2616.7 L957.5,2616.8 L958.3,2616.8 L959.1,2617.5 L960.0,2618.1 L960.8,2618.0 L961.6,2618.0 L962.5,2618.1 L963.3,2617.7 L964.1,2617.2 L965.0,2617.4 L965.8,2617.5 L966.6,2617.7 L967.5,2617.9 L968.3,2617.6 L969.1,2617.5 L970.0,2617.2 L970.8,2618.1 L971.6,2618.5 L972.4,2617.7 L973.3,2617.7 L974.1,2618.1 L974.9,2618.5 L975.8,2617.8 L976.6,2618.1 L977.4,2618.1 L978.3,2617.1 L979.1,2617.5 L979.9,2617.5 L980.8,2617.1 L981.6,2618.1 L982.4,2618.5 L983.3,2618.1 L984.1,2617.9 L984.9,2617.5 L985.8,2617.3 L986.6,2617.6 L987.4,2618.0 L988.3,2618.3 L989.1,2617.3 L989.9,2617.4 L990.8,2618.5 L991.6,2617.3 L992.4,2617.0 L993.3,2617.6 L994.1,2616.8 L994.9,2617.5 L995.8,2618.8 L996.6,2618.1 L997.4,2617.5 L998.3,2618.2 L999.1,2618.4 L999.9,2618.1 L1000.8,2617.7 L1001.6,2617.7 L1002.4,2617.9 L1003.3,2618.1 L1004.1,2618.2 L1004.9,2618.0 L1005.7,2617.7 L1006.6,2617.7 L1007.4,2617.9 L1008.2,2618.2 L1009.1,2618.3 L1009.9,2617.9 L1010.7,2617.8 L1011.6,2617.7 L1012.4,2618.0 L1013.2,2618.3 L1014.1,2618.3 L1014.9,2618.5 L1015.7,2618.4 L1016.6,2618.3 L1017.4,2618.1 L1018.2,2617.6 L1019.1,2617.3 L1019.9,2617.9 L1020.7,2617.9 L1021.6,2617.9 L1022.4,2617.7 L1023.2,2617.4 L1024.1,2618.4 L1024.9,2618.7 L1025.7,2618.2 L1026.6,2618.0 L1027.4,2618.4 L1028.2,2618.6 L1029.1,2618.5 L1029.9,2617.9 L1030.7,2617.6 L1031.6,2618.3 L1032.4,2618.6 L1033.2,2617.5 L1034.1,2617.8 L1034.9,2618.5 L1035.7,2618.0 L1036.6,2618.0 L1037.4,2618.6 L1038.2,2618.9 L1039.0,2619.4 L1039.9,2620.2 L1040.7,2619.4 L1041.5,2618.3 L1042.4,2618.0 L1043.2,2618.1 L1044.0,2618.8 L1044.9,2618.7 L1045.7,2618.3 L1046.5,2618.0 L1047.4,2618.7 L1048.2,2619.4 L1049.0,2618.2 L1049.9,2618.1 L1050.7,2618.3 L1051.5,2618.7 L1052.4,2618.7 L1053.2,2618.4 L1054.0,2619.1 L1054.9,2619.1 L1055.7,2618.4 L1056.5,2618.0 L1057.4,2618.5 L1058.2,2618.4 L1059.0,2617.8 L1059.9,2618.4 L1060.7,2618.9 L1061.5,2618.9 L1062.4,2618.7 L1063.2,2618.7 L1064.0,2619.0 L1064.9,2618.7 L1065.7,2618.5 L1066.5,2618.4 L1067.4,2618.1 L1068.2,2619.0 L1069.0,2619.1 L1069.9,2618.6 L1070.7,2618.7 L1071.5,2618.3 L1072.3,2618.5 L1073.2,2618.0 L1074.0,2618.5 L1074.8,2618.6 L1075.7,2618.0 L1076.5,2618.5 L1077.3,2618.2 L1078.2,2618.5 L1079.0,2618.9 L1079.8,2618.8 L1080.7,2618.6 L1081.5,2618.4 L1082.3,2618.3 L1083.2,2617.8 L1084.0,2617.6 L1084.8,2617.5 L1085.7,2617.9 L1086.5,2618.4 L1087.3,2619.0 L1088.2,2619.2 L1089.0,2618.8 L1089.8,2618.1 L1090.7,2617.9 L1091.5,2617.8 L1092.3,2617.4 L1093.2,2617.5 L1094.0,2617.6 L1094.8,2617.9 L1095.7,2618.3 L1096.5,2619.0 L1097.3,2619.1 L1098.2,2618.5 L1099.0,2618.5 L1099.8,2617.9 L1100.7,2618.6 L1101.5,2618.7 L1102.3,2617.6 L1103.2,2617.9 L1104.0,2618.6 L1104.8,2619.1 L1105.7,2618.8 L1106.5,2618.6 L1107.3,2618.8 L1108.1,2618.3 L1109.0,2618.2 L1109.8,2618.6 L1110.6,2618.7 L1111.5,2618.3 L1112.3,2618.1 L1113.1,2617.7 L1114.0,2617.7 L1114.8,2618.2 L1115.6,2618.0 L1116.5,2617.9 L1117.3,2618.6 L1118.1,2618.6 L1119.0,2618.4 L1119.8,2618.0 L1120.6,2618.4 L1121.5,2618.6 L1122.3,2619.3 L1123.1,2619.7 L1124.0,2619.2 L1124.8,2618.8 L1125.6,2617.9 L1126.5,2618.7 L1127.3,2618.9 L1128.1,2618.4 L1129.0,2619.1 L1129.8,2619.1 L1130.6,2618.2 L1131.5,2617.8 L1132.3,2618.4 L1133.1,2618.0 L1134.0,2617.8 L1134.8,2618.8 L1135.6,2618.5 L1136.5,2618.9 L1137.3,2618.9 L1138.1,2618.1 L1139.0,2618.5 L1139.8,2618.8 L1140.6,2618.9 L1141.4,2618.6 L1142.3,2618.7 L1143.1,2618.6 L1143.9,2619.1 L1144.8,2619.7 L1145.6,2619.5 L1146.4,2618.5 L1147.3,2618.4 L1148.1,2619.3 L1148.9,2619.7 L1149.8,2618.9 L1150.6,2618.0 L1151.4,2618.6 L1152.3,2618.9 L1153.1,2618.7 L1153.9,2618.5 L1154.8,2618.3 L1155.6,2618.4 L1156.4,2619.3 L1157.3,2619.4 L1158.1,2618.8 L1158.9,2619.3 L1159.8,2619.8 L1160.6,2619.0 L1161.4,2618.0 L1162.3,2618.2 L1163.1,2618.4 L1163.9,2618.1 L1164.8,2618.0 L1165.6,2618.2 L1166.4,2618.9 L1167.3,2619.5 L1168.1,2619.1 L1168.9,2618.2 L1169.8,2617.8 L1170.6,2618.1 L1171.4,2618.9 L1172.3,2619.2 L1173.1,2619.1 L1173.9,2618.9 L1174.7,2618.8 L1175.6,2618.3 L1176.4,2618.0 L1177.2,2618.3 L1178.1,2619.1 L1178.9,2619.2 L1179.7,2618.8 L1180.6,2618.9 L1181.4,2619.0 L1182.2,2619.5 L1183.1,2619.8 L1183.9,2619.3 L1184.7,2619.1 L1185.6,2619.2 L1186.4,2619.3 L1187.2,2618.7 L1188.1,2618.4 L1188.9,2619.1 L1189.7,2618.4 L1190.6,2618.1 L1191.4,2618.7 L1192.2,2618.7 L1193.1,2618.7 L1193.9,2619.3 L1194.7,2619.7 L1195.6,2619.7 L1196.4,2619.5 L1197.2,2619.4 L1198.1,2619.3 L1198.9,2618.7 L1199.7,2618.4 L1200.6,2619.2 L1201.4,2618.8 L1202.2,2618.3 L1203.1,2618.9 L1203.9,2619.0 L1204.7,2618.4 L1205.6,2618.5 L1206.4,2619.0 L1207.2,2619.6 L1208.0,2619.5 L1208.9,2619.1 L1209.7,2618.8 L1210.5,2618.9 L1211.4,2619.4 L1212.2,2619.0 L1213.0,2618.7 L1213.9,2619.0 L1214.7,2619.4 L1215.5,2619.1 L1216.4,2618.9 L1217.2,2619.5 L1218.0,2619.8 L1218.9,2619.0 L1219.7,2618.3 L1220.5,2618.5 L1221.4,2619.3 L1222.2,2619.6 L1223.0,2619.2 L1223.9,2618.7 L1224.7,2618.9 L1225.5,2619.1 L1226.4,2619.0 L1227.2,2619.2 L1228.0,2619.4 L1228.9,2619.1 L1229.7,2619.2 L1230.5,2619.3 L1231.4,2619.5 L1232.2,2619.7 L1233.0,2619.5 L1233.9,2619.4 L1234.7,2619.2 L1235.5,2618.6 L1236.4,2619.4 L1237.2,2619.3 L1238.0,2618.3 L1238.9,2617.9 L1239.7,2618.2 L1240.5,2619.8 L1241.3,2620.1 L1242.2,2619.5 L1243.0,2619.3 L1243.8,2619.0 L1244.7,2618.7 L1245.5,2618.8 L1246.3,2619.0 L1247.2,2619.2 L1248.0,2619.4 L1248.8,2619.1 L1249.7,2618.9 L1250.5,2619.2 L1251.3,2619.7 L1252.2,2618.7 L1253.0,2619.2 L1253.8,2619.8 L1254.7,2618.2 L1255.5,2618.7 L1256.3,2619.2 L1257.2,2618.0 L1258.0,2618.2 L1258.8,2619.1 L1259.7,2619.2 L1260.5,2618.5 L1261.3,2619.1 L1262.2,2619.7 L1263.0,2619.5 L1263.8,2620.0 L1264.7,2619.7 L1265.5,2619.2 L1266.3,2619.7 L1267.2,2619.5 L1268.0,2618.8 L1268.8,2619.1 L1269.7,2619.5 L1270.5,2618.9 L1271.3,2618.5 L1272.2,2619.1 L1273.0,2619.2 L1273.8,2618.9 L1274.7,2618.7 L1275.5,2618.9 L1276.3,2619.6 L1277.1,2618.9 L1278.0,2618.8 L1278.8,2619.8 L1279.6,2620.0 L1280.5,2619.6 L1281.3,2618.4 L1282.1,2617.9 L1283.0,2619.1 L1283.8,2619.4 L1284.6,2618.6 L1285.5,2619.0 L1286.3,2619.5 L1287.1,2619.1 L1288.0,2618.4 L1288.8,2618.8 L1289.6,2619.0 L1290.5,2618.7 L1291.3,2618.8 L1292.1,2619.0 L1293.0,2618.9 L1293.8,2619.7 L1294.6,2619.6 L1295.5,2619.3 L1296.3,2619.4 L1297.1,2618.7 L1298.0,2618.6 L1298.8,2618.8 L1299.6,2619.5 L1300.5,2619.6 L1301.3,2619.9 L1302.1,2620.6 L1303.0,2619.7 L1303.8,2618.7 L1304.6,2619.1 L1305.5,2619.4 L1306.3,2620.0 L1307.1,2620.6 L1308.0,2619.8 L1308.8,2618.9 L1309.6,2619.0 L1310.4,2619.8 L1311.3,2619.5 L1312.1,2618.7 L1312.9,2618.7 L1313.8,2618.8 L1314.6,2618.7 L1315.4,2618.8 L1316.3,2619.2 L1317.1,2619.6 L1317.9,2619.5 L1318.8,2619.4 L1319.6,2619.6 L1320.4,2618.4 L1321.3,2618.4 L1322.1,2619.2 L1322.9,2618.8 L1323.8,2618.7 L1324.6,2619.0 L1325.4,2619.3 L1326.3,2619.0 L1327.1,2619.0 L1327.9,2619.6 L1328.8,2619.6 L1329.6,2619.4 L1330.4,2620.0 L1331.3,2620.5 L1332.1,2619.5 L1332.9,2619.3 L1333.8,2619.4 L1334.6,2619.3 L1335.4,2620.0 L1336.3,2620.3 L1337.1,2620.4 L1337.9,2620.1 L1338.8,2619.6 L1339.6,2618.9 L1340.4,2618.8 L1341.3,2618.9 L1342.1,2618.8 L1342.9,2619.3 L1343.7,2619.0 L1344.6,2618.7 L1345.4,2619.1 L1346.2,2618.9 L1347.1,2619.1 L1347.9,2619.5 L1348.7,2619.2 L1349.6,2619.7 L1350.4,2619.9 L1351.2,2618.6 L1352.1,2618.8 L1352.9,2620.1 L1353.7,2619.5 L1354.6,2618.6 L1355.4,2618.9 L1356.2,2618.7 L1357.1,2618.9 L1357.9,2620.1 L1358.7,2620.3 L1359.6,2619.5 L1360.4,2619.7 L1361.2,2619.4 L1362.1,2618.7 L1362.9,2618.8 L1363.7,2618.9 L1364.6,2619.6 L1365.4,2619.9 L1366.2,2619.6 L1367.1,2618.9 L1367.9,2618.7 L1368.7,2619.3 L1369.6,2620.2 L1370.4,2620.1 L1371.2,2619.5 L1372.1,2619.4 L1372.9,2619.1 L1373.7,2618.4 L1374.6,2618.6 L1375.4,2619.2 L1376.2,2619.0 L1377.0,2619.4 L1377.9,2619.9 L1378.7,2620.6 L1379.5,2620.2 L1380.4,2619.5 L1381.2,2620.1 L1382.0,2620.2 L1382.9,2619.8 L1383.7,2620.1 L1384.5,2620.0 L1385.4,2619.8 L1386.2,2619.4 L1387.0,2618.8 L1387.9,2619.0 L1388.7,2619.3 L1389.5,2619.9 L1390.4,2619.5 L1391.2,2619.5 L1392.0,2619.9 L1392.9,2619.0 L1393.7,2618.8 L1394.5,2619.0 L1395.4,2619.2 L1396.2,2619.3 L1397.0,2619.3 L1397.9,2619.2 L1398.7,2618.7 L1399.5,2619.8 L1400.4,2619.9 L1401.2,2619.0 L1402.0,2619.4 L1402.9,2620.3 L1403.7,2620.6 L1404.5,2620.0 L1405.4,2619.5 L1406.2,2619.4 L1407.0,2619.8 L1407.9,2619.4 L1408.7,2618.6 L1409.5,2618.8 L1410.4,2619.4 L1411.2,2619.2 L1412.0,2619.1 L1412.8,2619.1 L1413.7,2619.4 L1414.5,2619.5 L1415.3,2618.6 L1416.2,2619.2 L1417.0,2619.9 L1417.8,2619.0 L1418.7,2619.4 L1419.5,2620.6 L1420.3,2620.6 L1421.2,2619.4 L1422.0,2618.7 L1422.8,2619.4 L1423.7,2619.9 L1424.5,2619.6 L1425.3,2618.8 L1426.2,2619.6 L1427.0,2620.3 L1427.8,2619.9 L1428.7,2619.5 L1429.5,2619.4 L1430.3,2619.6 L1431.2,2619.2 L1432.0,2619.6 L1432.8,2620.5 L1433.7,2619.8 L1434.5,2619.5 L1435.3,2620.3 L1436.2,2619.7 L1437.0,2618.7 L1437.8,2618.9 L1438.7,2619.4 L1439.5,2619.6 L1440.3,2619.8 L1441.2,2620.3 L1442.0,2620.1 L1442.8,2619.6 L1443.7,2619.9 L1444.5,2620.9 L1445.3,2620.5 L1446.1,2619.2 L1447.0,2619.8 L1447.8,2620.4 L1448.6,2618.8 L1449.5,2618.4 L1450.3,2619.4 L1451.1,2619.3 L1452.0,2619.3 L1452.8,2619.7 L1453.6,2620.0 L1454.5,2619.8 L1455.3,2619.5 L1456.1,2619.6 L1457.0,2619.6 L1457.8,2620.1 L1458.6,2619.6 L1459.5,2619.3 L1460.3,2619.3 L1461.1,2620.0 L1462.0,2620.4 L1462.8,2619.7 L1463.6,2619.8 L1464.5,2619.7 L1465.3,2618.9 L1466.1,2619.6 L1467.0,2621.2 L1467.8,2621.0 L1468.6,2620.1 L1469.5,2619.5 L1470.3,2619.0 L1471.1,2619.7 L1472.0,2620.0 L1472.8,2620.1 L1473.6,2620.0 L1474.5,2619.9 L1475.3,2619.9 L1476.1,2619.5 L1477.0,2619.9 L1477.8,2619.8 L1478.6,2619.5 L1479.4,2619.9 L1480.3,2619.7 L1481.1,2620.4 L1481.9,2621.3 L1482.8,2620.8 L1483.6,2620.3 L1484.4,2620.4 L1485.3,2620.3 L1486.1,2620.6 L1486.9,2620.0 L1487.8,2619.4 L1488.6,2619.4 L1489.4,2619.3 L1490.3,2619.6 L1491.1,2619.5 L1491.9,2619.7 L1492.8,2619.9 L1493.6,2620.0 L1494.4,2620.3 L1495.3,2619.8 L1496.1,2619.5 L1496.9,2619.5 L1497.8,2619.3 L1498.6,2619.2 L1499.4,2619.8 L1500.3,2620.2 L1501.1,2620.6 L1501.9,2620.2 L1502.8,2619.8 L1503.6,2620.6 L1504.4,2620.6 L1505.3,2620.9 L1506.1,2620.4 L1506.9,2619.9 L1507.8,2620.5 L1508.6,2620.5 L1509.4,2619.9 L1510.3,2619.9 L1511.1,2620.1 L1511.9,2619.6 L1512.7,2619.2 L1513.6,2618.7 L1514.4,2619.8 L1515.2,2620.2 L1516.1,2620.3 L1516.9,2620.0 L1517.7,2619.3 L1518.6,2619.5 L1519.4,2619.8 L1520.2,2620.3 L1521.1,2620.3 L1521.9,2619.6 L1522.7,2619.7 L1523.6,2620.1 L1524.4,2619.6 L1525.2,2619.5 L1526.1,2620.2 L1526.9,2620.0 L1527.7,2619.6 L1528.6,2619.3 L1529.4,2619.3 L1530.2,2619.2 L1531.1,2619.4 L1531.9,2619.1 L1532.7,2618.9 L1533.6,2619.3 L1534.4,2619.6 L1535.2,2619.9 L1536.1,2618.9 L1536.9,2619.2 L1537.7,2620.3 L1538.6,2620.3 L1539.4,2620.2 L1540.2,2620.5 L1541.1,2619.6 L1541.9,2619.2 L1542.7,2619.6 L1543.6,2619.5 L1544.4,2619.3 L1545.2,2619.3 L1546.0,2619.8 L1546.9,2620.3 L1547.7,2619.7 L1548.5,2619.4 L1549.4,2620.0 L1550.2,2619.8 L1551.0,2619.0 L1551.9,2619.3 L1552.7,2620.1 L1553.5,2620.0 L1554.4,2620.1 L1555.2,2620.5 L1556.0,2619.9 L1556.9,2619.3 L1557.7,2620.1 L1558.5,2620.4 L1559.4,2619.6 L1560.2,2619.1 L1561.0,2619.7 L1561.9,2620.2 L1562.7,2620.2 L1563.5,2620.2 L1564.4,2619.1 L1565.2,2619.2 L1566.0,2619.9 L1566.9,2619.9 L1567.7,2619.6 L1568.5,2619.2 L1569.4,2619.5 L1570.2,2620.0 L1571.0,2619.9 L1571.9,2619.9 L1572.7,2620.0 L1573.5,2619.6 L1574.4,2620.2 L1575.2,2620.6 L1576.0,2620.6 L1576.9,2620.6 L1577.7,2620.3 L1578.5,2619.9 L1579.4,2619.4 L1580.2,2619.5 L1581.0,2620.0 L1581.8,2620.0 L1582.7,2619.9 L1583.5,2620.4 L1584.3,2619.7 L1585.2,2619.7 L1586.0,2619.7 L1586.8,2619.2 L1587.7,2619.9 L1588.5,2620.3 L1589.3,2619.3 L1590.2,2618.8 L1591.0,2619.2 L1591.8,2619.6 L1592.7,2620.2 L1593.5,2620.0 L1594.3,2619.8 L1595.2,2619.9 L1596.0,2620.0 L1596.8,2619.9 L1597.7,2619.9 L1598.5,2619.7 L1599.3,2619.1 L1600.2,2619.7 L1601.0,2619.5 L1601.8,2619.1 L1602.7,2620.1 L1603.5,2621.1 L1604.3,2620.5 L1605.2,2619.5 L1606.0,2620.0 L1606.8,2620.1 L1607.7,2619.5 L1608.5,2619.6 L1609.3,2620.3 L1610.2,2620.1 L1611.0,2619.7 L1611.8,2619.6 L1612.7,2619.5 L1613.5,2619.7 L1614.3,2619.2 L1615.1,2620.1 L1616.0,2619.9 L1616.8,2618.9 L1617.6,2619.3 L1618.5,2619.5 L1619.3,2619.3 L1620.1,2619.6 L1621.0,2619.8 L1621.8,2619.8 L1622.6,2619.7 L1623.5,2619.5 L1624.3,2619.8 L1625.1,2620.1 L1626.0,2620.1 L1626.8,2620.2 L1627.6,2620.7 L1628.5,2621.1 L1629.3,2620.4 L1630.1,2619.6 L1631.0,2619.5 L1631.8,2619.9 L1632.6,2621.1 L1633.5,2621.4 L1634.3,2620.9 L1635.1,2620.3 L1636.0,2619.7 L1636.8,2619.5 L1637.6,2620.5 L1638.5,2620.4 L1639.3,2620.0 L1640.1,2620.9 L1641.0,2620.6 L1641.8,2619.5 L1642.6,2619.1 L1643.5,2619.6 L1644.3,2619.5 L1645.1,2619.0 L1646.0,2619.9 L1646.8,2620.2 L1647.6,2620.2 L1648.4,2620.0 L1649.3,2619.5 L1650.1,2619.6 L1650.9,2619.5 L1651.8,2619.5 L1652.6,2620.4 L1653.4,2620.2 L1654.3,2619.5 L1655.1,2619.4 L1655.9,2619.7 L1656.8,2619.8 L1657.6,2620.4 L1658.4,2621.0 L1659.3,2620.4 L1660.1,2619.9 L1660.9,2619.4 L1661.8,2619.3 L1662.6,2619.9 L1663.4,2620.3 L1664.3,2620.0 L1665.1,2620.2 L1665.9,2620.1 L1666.8,2620.0 L1667.6,2620.3 L1668.4,2620.4 L1669.3,2619.9 L1670.1,2619.0 L1670.9,2620.1 L1671.8,2620.5 L1672.6,2620.0 L1673.4,2620.0 L1674.3,2619.6 L1675.1,2619.2 L1675.9,2619.0 L1676.8,2619.9 L1677.6,2620.6 L1678.4,2620.7 L1679.3,2620.9 L1680.1,2621.4 L1680.9,2620.5 L1681.7,2620.0 L1682.6,2620.6 L1683.4,2620.5 L1684.2,2619.9 L1685.1,2619.8 L1685.9,2619.9 L1686.7,2620.0 L1687.6,2620.3 L1688.4,2619.3 L1689.2,2619.4 L1690.1,2619.9 L1690.9,2619.7 L1691.7,2620.0 L1692.6,2620.3 L1693.4,2619.9 L1694.2,2619.5 L1695.1,2619.3 L1695.9,2619.7 L1696.7,2619.6 L1697.6,2619.6 L1698.4,2620.6 L1699.2,2620.1 L1700.1,2619.6 L1700.9,2619.2 L1701.7,2619.6 L1702.6,2620.4 L1703.4,2620.6 L1704.2,2620.2 L1705.1,2620.1 L1705.9,2620.1 L1706.7,2620.0 L1707.6,2620.1 L1708.4,2619.9 L1709.2,2619.7 L1710.1,2620.1 L1710.9,2620.4 L1711.7,2620.7 L1712.6,2620.0 L1713.4,2619.0 L1714.2,2620.0 L1715.0,2620.2 L1715.9,2619.5 L1716.7,2619.0 L1717.5,2619.8 L1718.4,2620.7 L1719.2,2621.0 L1720.0,2621.1 L1720.9,2620.3 L1721.7,2619.9 L1722.5,2620.7 L1723.4,2621.2 L1724.2,2620.9 L1725.0,2620.1 L1725.9,2620.0 L1726.7,2620.5 L1727.5,2620.2 L1728.4,2620.6 L1729.2,2621.2 L1730.0,2621.0 L1730.9,2620.8 L1731.7,2620.6" fill="none" stroke="#f00000" stroke-width="4.6" stroke-linejoin="round"/>
<path d="M108.3,2832.1 L109.1,2832.4 L110.0,2832.2 L110.8,2832.6 L111.6,2833.0 L112.5,2832.9 L113.3,2832.2 L114.1,2831.3 L115.0,2832.0 L115.8,2832.6 L116.6,2831.6 L117.5,2831.9 L118.3,2832.1 L119.1,2831.4 L120.0,2831.2 L120.8,2831.7 L121.6,2832.2 L122.5,2831.5 L123.3,2831.4 L124.1,2831.7 L125.0,2831.1 L125.8,2831.1 L126.6,2832.0 L127.4,2831.7 L128.3,2831.4 L129.1,2831.1 L129.9,2831.5 L130.8,2831.6 L131.6,2831.7 L132.4,2831.6 L133.3,2830.4 L134.1,2830.5 L134.9,2830.7 L135.8,2830.7 L136.6,2830.4 L137.4,2830.0 L138.3,2829.7 L139.1,2828.8 L139.9,2826.4 L140.8,2823.8 L141.6,2820.1 L142.4,2812.5 L143.3,2802.7 L144.1,2792.4 L144.9,2782.8 L145.8,2775.7 L146.6,2775.6 L147.4,2782.1 L148.3,2791.9 L149.1,2802.7 L149.9,2812.6 L150.8,2819.1 L151.6,2822.5 L152.4,2824.7 L153.3,2825.5 L154.1,2826.6 L154.9,2828.6 L155.8,2829.1 L156.6,2827.3 L157.4,2826.6 L158.3,2827.2 L159.1,2826.8 L159.9,2826.3 L160.7,2826.2 L161.6,2826.0 L162.4,2825.9 L163.2,2826.0 L164.1,2825.2 L164.9,2824.0 L165.7,2823.5 L166.6,2822.2 L167.4,2821.0 L168.2,2819.8 L169.1,2818.2 L169.9,2816.4 L170.7,2813.9 L171.6,2811.7 L172.4,2808.4 L173.2,2803.6 L174.1,2798.2 L174.9,2791.2 L175.7,2781.6 L176.6,2768.3 L177.4,2750.4 L178.2,2724.8 L179.1,2687.7 L179.9,2633.9 L180.7,2562.2 L181.6,2487.4 L182.4,2452.4 L183.2,2487.0 L184.1,2561.8 L184.9,2633.5 L185.7,2686.7 L186.6,2724.5 L187.4,2750.8 L188.2,2768.8 L189.1,2781.4 L189.9,2791.4 L190.7,2798.4 L191.6,2802.8 L192.4,2807.3 L193.2,2811.5 L194.0,2814.5 L194.9,2816.1 L195.7,2817.7 L196.5,2819.8 L197.4,2821.3 L198.2,2822.6 L199.0,2823.0 L199.9,2823.4 L200.7,2824.3 L201.5,2824.9 L202.4,2825.8 L203.2,2826.7 L204.0,2826.7 L204.9,2827.6 L205.7,2828.4 L206.5,2827.9 L207.4,2827.3 L208.2,2827.6 L209.0,2828.2 L209.9,2827.9 L210.7,2828.1 L211.5,2828.1 L212.4,2828.0 L213.2,2829.0 L214.0,2828.4 L214.9,2826.5 L215.7,2826.1 L216.5,2826.0 L217.4,2824.7 L218.2,2821.9 L219.0,2819.3 L219.9,2817.1 L220.7,2814.2 L221.5,2810.9 L222.4,2808.1 L223.2,2806.6 L224.0,2806.4 L224.9,2807.1 L225.7,2808.8 L226.5,2811.5 L227.3,2814.0 L228.2,2817.6 L229.0,2820.5 L229.8,2822.4 L230.7,2825.2 L231.5,2827.2 L232.3,2829.0 L233.2,2830.4 L234.0,2830.1 L234.8,2830.1 L235.7,2831.0 L236.5,2831.4 L237.3,2830.8 L238.2,2829.5 L239.0,2831.3 L239.8,2832.4 L240.7,2830.6 L241.5,2830.0 L242.3,2830.3 L243.2,2831.2 L244.0,2832.2 L244.8,2831.9 L245.7,2831.1 L246.5,2831.4 L247.3,2831.8 L248.2,2831.4 L249.0,2831.9 L249.8,2831.6 L250.7,2830.7 L251.5,2831.4 L252.3,2832.7 L253.2,2832.2 L254.0,2831.7 L254.8,2832.1 L255.7,2831.7 L256.5,2831.3 L257.3,2831.4 L258.2,2831.3 L259.0,2831.2 L259.8,2831.5 L260.6,2831.1 L261.5,2831.4 L262.3,2831.9 L263.1,2831.5 L264.0,2831.0 L264.8,2831.0 L265.6,2831.0 L266.5,2830.8 L267.3,2830.8 L268.1,2830.4 L269.0,2830.5 L269.8,2831.7 L270.6,2831.7 L271.5,2830.9 L272.3,2831.1 L273.1,2830.7 L274.0,2830.3 L274.8,2830.6 L275.6,2830.4 L276.5,2830.2 L277.3,2829.3 L278.1,2828.1 L279.0,2828.2 L279.8,2828.4 L280.6,2828.1 L281.5,2828.3 L282.3,2828.5 L283.1,2826.8 L284.0,2825.3 L284.8,2823.6 L285.6,2821.1 L286.5,2818.5 L287.3,2814.4 L288.1,2808.1 L289.0,2800.8 L289.8,2791.6 L290.6,2779.5 L291.5,2766.1 L292.3,2750.0 L293.1,2733.3 L294.0,2717.8 L294.8,2704.1 L295.6,2694.2 L296.4,2689.5 L297.3,2691.0 L298.1,2697.9 L298.9,2709.1 L299.8,2723.6 L300.6,2739.3 L301.4,2755.4 L302.3,2769.7 L303.1,2781.8 L303.9,2791.4 L304.8,2798.9 L305.6,2803.5 L306.4,2806.1 L307.3,2808.1 L308.1,2807.6 L308.9,2806.0 L309.8,2804.2 L310.6,2802.1 L311.4,2800.5 L312.3,2799.9 L313.1,2800.7 L313.9,2802.5 L314.8,2806.3 L315.6,2811.1 L316.4,2815.2 L317.3,2818.2 L318.1,2820.9 L318.9,2823.3 L319.8,2824.4 L320.6,2825.2 L321.4,2825.8 L322.3,2826.7 L323.1,2826.9 L323.9,2826.8 L324.8,2826.8 L325.6,2827.2 L326.4,2827.3 L327.3,2827.6 L328.1,2828.4 L328.9,2828.7 L329.7,2828.9 L330.6,2829.6 L331.4,2830.3 L332.2,2830.4 L333.1,2830.9 L333.9,2830.8 L334.7,2830.2 L335.6,2831.0 L336.4,2832.0 L337.2,2832.2 L338.1,2832.3 L338.9,2832.4 L339.7,2832.3 L340.6,2831.9 L341.4,2831.7 L342.2,2831.9 L343.1,2832.4 L343.9,2831.7 L344.7,2831.7 L345.6,2832.3 L346.4,2831.9 L347.2,2830.9 L348.1,2831.5 L348.9,2832.4 L349.7,2832.0 L350.6,2831.9 L351.4,2832.3 L352.2,2831.8 L353.1,2832.2 L353.9,2832.8 L354.7,2831.9 L355.6,2832.1 L356.4,2831.8 L357.2,2831.6 L358.1,2832.7 L358.9,2832.7 L359.7,2831.8 L360.6,2831.6 L361.4,2831.9 L362.2,2832.8 L363.0,2832.2 L363.9,2831.5 L364.7,2831.9 L365.5,2832.0 L366.4,2831.7 L367.2,2831.4 L368.0,2831.7 L368.9,2832.6 L369.7,2833.0 L370.5,2832.6 L371.4,2832.8 L372.2,2831.7 L373.0,2831.0 L373.9,2831.5 L374.7,2831.3 L375.5,2831.1 L376.4,2831.9 L377.2,2831.8 L378.0,2831.2 L378.9,2831.4 L379.7,2831.8 L380.5,2831.5 L381.4,2830.8 L382.2,2829.9 L383.0,2830.1 L383.9,2830.4 L384.7,2830.4 L385.5,2830.7 L386.4,2829.1 L387.2,2827.5 L388.0,2826.3 L388.9,2824.9 L389.7,2822.0 L390.5,2818.4 L391.4,2814.0 L392.2,2809.5 L393.0,2803.7 L393.9,2797.7 L394.7,2794.1 L395.5,2791.3 L396.3,2790.0 L397.2,2790.5 L398.0,2793.6 L398.8,2798.3 L399.7,2803.7 L400.5,2808.9 L401.3,2813.3 L402.2,2818.1 L403.0,2821.9 L403.8,2824.5 L404.7,2827.1 L405.5,2829.0 L406.3,2829.3 L407.2,2829.4 L408.0,2829.5 L408.8,2830.0 L409.7,2831.0 L410.5,2831.1 L411.3,2830.9 L412.2,2831.1 L413.0,2831.8 L413.8,2832.2 L414.7,2832.0 L415.5,2831.6 L416.3,2832.3 L417.2,2832.7 L418.0,2831.5 L418.8,2831.4 L419.7,2831.9 L420.5,2831.4 L421.3,2831.7 L422.2,2832.0 L423.0,2831.5 L423.8,2831.5 L424.7,2831.4 L425.5,2831.3 L426.3,2830.8 L427.2,2831.3 L428.0,2832.2 L428.8,2831.6 L429.6,2831.3 L430.5,2831.5 L431.3,2831.8 L432.1,2831.8 L433.0,2831.8 L433.8,2831.7 L434.6,2831.2 L435.5,2830.2 L436.3,2830.5 L437.1,2830.6 L438.0,2830.0 L438.8,2830.6 L439.6,2830.1 L440.5,2828.7 L441.3,2828.5 L442.1,2828.4 L443.0,2827.0 L443.8,2826.2 L444.6,2826.5 L445.5,2825.3 L446.3,2822.9 L447.1,2821.7 L448.0,2821.3 L448.8,2819.2 L449.6,2818.2 L450.5,2817.2 L451.3,2814.4 L452.1,2813.0 L453.0,2811.8 L453.8,2809.5 L454.6,2807.9 L455.5,2807.4 L456.3,2805.5 L457.1,2804.1 L458.0,2803.3 L458.8,2801.9 L459.6,2801.8 L460.5,2801.6 L461.3,2801.4 L462.1,2802.7 L463.0,2803.8 L463.8,2805.3 L464.6,2806.3 L465.4,2806.8 L466.3,2809.0 L467.1,2810.7 L467.9,2811.9 L468.8,2814.3 L469.6,2816.7 L470.4,2818.1 L471.3,2818.7 L472.1,2820.0 L472.9,2821.5 L473.8,2822.2 L474.6,2822.4 L475.4,2824.5 L476.3,2825.7 L477.1,2824.9 L477.9,2826.6 L478.8,2827.7 L479.6,2827.5 L480.4,2828.2 L481.3,2827.9 L482.1,2827.5 L482.9,2827.6 L483.8,2826.1 L484.6,2825.0 L485.4,2824.6 L486.3,2823.8 L487.1,2822.5 L487.9,2820.5 L488.8,2819.4 L489.6,2818.2 L490.4,2816.9 L491.3,2815.6 L492.1,2813.0 L492.9,2811.3 L493.8,2809.8 L494.6,2808.4 L495.4,2808.4 L496.3,2807.1 L497.1,2806.0 L497.9,2806.0 L498.7,2806.3 L499.6,2807.5 L500.4,2807.3 L501.2,2808.2 L502.1,2811.1 L502.9,2812.7 L503.7,2814.2 L504.6,2816.0 L505.4,2817.2 L506.2,2818.6 L507.1,2820.4 L507.9,2822.2 L508.7,2823.5 L509.6,2824.5 L510.4,2826.2 L511.2,2827.3 L512.1,2827.5 L512.9,2828.7 L513.7,2829.7 L514.6,2830.2 L515.4,2830.4 L516.2,2829.8 L517.1,2830.5 L517.9,2830.7 L518.7,2830.6 L519.6,2831.4 L520.4,2831.3 L521.2,2831.3 L522.1,2831.4 L522.9,2830.2 L523.7,2831.1 L524.6,2832.6 L525.4,2832.1 L526.2,2832.1 L527.1,2831.6 L527.9,2831.4 L528.7,2832.2 L529.6,2832.7 L530.4,2832.3 L531.2,2832.3 L532.0,2832.7 L532.9,2832.6 L533.7,2832.2 L534.5,2832.0 L535.4,2832.2 L536.2,2832.7 L537.0,2832.8 L537.9,2832.7 L538.7,2833.2 L539.5,2832.4 L540.4,2831.9 L541.2,2832.7 L542.0,2832.2 L542.9,2831.2 L543.7,2831.7 L544.5,2832.3 L545.4,2832.1 L546.2,2832.4 L547.0,2832.7 L547.9,2831.6 L548.7,2831.3 L549.5,2832.7 L550.4,2833.2 L551.2,2832.7 L552.0,2832.4 L552.9,2832.5 L553.7,2832.5 L554.5,2832.0 L555.4,2831.8 L556.2,2832.3 L557.0,2832.4 L557.9,2832.5 L558.7,2832.2 L559.5,2831.8 L560.4,2833.0 L561.2,2833.3 L562.0,2832.6 L562.9,2832.7 L563.7,2833.3 L564.5,2833.2 L565.3,2832.4 L566.2,2832.2 L567.0,2832.4 L567.8,2831.7 L568.7,2831.4 L569.5,2831.9 L570.3,2831.9 L571.2,2832.4 L572.0,2832.7 L572.8,2832.1 L573.7,2831.6 L574.5,2831.4 L575.3,2831.8 L576.2,2832.7 L577.0,2832.2 L577.8,2831.3 L578.7,2831.7 L579.5,2832.2 L580.3,2832.4 L581.2,2831.9 L582.0,2831.3 L582.8,2831.4 L583.7,2830.7 L584.5,2830.3 L585.3,2830.9 L586.2,2831.2 L587.0,2831.1 L587.8,2831.7 L588.7,2831.5 L589.5,2830.9 L590.3,2830.7 L591.2,2830.8 L592.0,2831.2 L592.8,2830.8 L593.7,2830.3 L594.5,2831.0 L595.3,2830.9 L596.2,2830.8 L597.0,2830.7 L597.8,2829.7 L598.7,2830.6 L599.5,2830.0 L600.3,2829.6 L601.1,2830.5 L602.0,2830.4 L602.8,2830.6 L603.6,2829.8 L604.5,2829.7 L605.3,2830.2 L606.1,2829.2 L607.0,2828.9 L607.8,2829.7 L608.6,2828.8 L609.5,2828.5 L610.3,2829.7 L611.1,2829.2 L612.0,2828.5 L612.8,2828.5 L613.6,2829.0 L614.5,2828.4 L615.3,2826.9 L616.1,2827.2 L617.0,2827.6 L617.8,2826.6 L618.6,2826.5 L619.5,2826.6 L620.3,2824.5 L621.1,2824.5 L622.0,2824.9 L622.8,2824.0 L623.6,2823.0 L624.5,2821.8 L625.3,2821.2 L626.1,2819.3 L627.0,2817.6 L627.8,2815.7 L628.6,2813.0 L629.5,2810.3 L630.3,2807.0 L631.1,2803.9 L632.0,2800.9 L632.8,2796.5 L633.6,2792.8 L634.4,2789.8 L635.3,2785.8 L636.1,2780.6 L636.9,2776.8 L637.8,2774.7 L638.6,2770.8 L639.4,2768.1 L640.3,2767.7 L641.1,2766.1 L641.9,2764.8 L642.8,2764.6 L643.6,2765.6 L644.4,2768.6 L645.3,2771.9 L646.1,2775.0 L646.9,2778.0 L647.8,2781.7 L648.6,2786.3 L649.4,2789.6 L650.3,2793.3 L651.1,2798.0 L651.9,2801.9 L652.8,2805.2 L653.6,2807.4 L654.4,2810.7 L655.3,2814.7 L656.1,2816.1 L656.9,2818.0 L657.8,2820.4 L658.6,2822.1 L659.4,2823.4 L660.3,2823.4 L661.1,2823.8 L661.9,2825.4 L662.8,2827.1 L663.6,2827.2 L664.4,2826.9 L665.3,2827.8 L666.1,2828.5 L666.9,2828.6 L667.7,2829.1 L668.6,2829.7 L669.4,2829.9 L670.2,2830.2 L671.1,2829.9 L671.9,2830.0 L672.7,2830.4 L673.6,2830.0 L674.4,2830.0 L675.2,2830.9 L676.1,2831.0 L676.9,2830.6 L677.7,2830.4 L678.6,2830.2 L679.4,2830.7 L680.2,2831.4 L681.1,2831.5 L681.9,2831.2 L682.7,2831.2 L683.6,2831.5 L684.4,2831.3 L685.2,2830.8 L686.1,2830.8 L686.9,2831.2 L687.7,2831.8 L688.6,2832.8 L689.4,2832.5 L690.2,2832.6 L691.1,2832.1 L691.9,2831.1 L692.7,2832.3 L693.6,2832.9 L694.4,2833.1 L695.2,2832.8 L696.1,2832.7 L696.9,2832.1 L697.7,2832.0 L698.6,2832.7 L699.4,2832.3 L700.2,2832.4 L701.0,2832.9 L701.9,2832.8 L702.7,2832.1 L703.5,2832.0 L704.4,2832.2 L705.2,2832.3 L706.0,2833.2 L706.9,2833.2 L707.7,2832.2 L708.5,2832.8 L709.4,2833.3 L710.2,2832.5 L711.0,2832.6 L711.9,2833.5 L712.7,2833.6 L713.5,2833.2 L714.4,2833.6 L715.2,2833.2 L716.0,2833.2 L716.9,2833.4 L717.7,2832.6 L718.5,2832.4 L719.4,2833.3 L720.2,2834.1 L721.0,2833.7 L721.9,2833.7 L722.7,2833.1 L723.5,2832.9 L724.4,2833.3 L725.2,2833.2 L726.0,2834.1 L726.9,2834.0 L727.7,2833.2 L728.5,2833.1 L729.4,2833.0 L730.2,2832.9 L731.0,2832.8 L731.9,2833.5 L732.7,2834.0 L733.5,2833.7 L734.3,2833.6 L735.2,2833.1 L736.0,2833.3 L736.8,2833.5 L737.7,2833.2 L738.5,2833.2 L739.3,2833.9 L740.2,2834.1 L741.0,2833.4 L741.8,2833.9 L742.7,2834.1 L743.5,2833.5 L744.3,2833.5 L745.2,2833.3 L746.0,2832.6 L746.8,2833.6 L747.7,2833.8 L748.5,2833.2 L749.3,2834.4 L750.2,2834.6 L751.0,2834.4 L751.8,2834.2 L752.7,2833.8 L753.5,2833.5 L754.3,2833.4 L755.2,2833.7 L756.0,2834.0 L756.8,2834.0 L757.7,2833.5 L758.5,2833.8 L759.3,2834.2 L760.2,2834.0 L761.0,2834.7 L761.8,2835.1 L762.7,2834.4 L763.5,2834.2 L764.3,2833.9 L765.2,2833.9 L766.0,2834.5 L766.8,2834.3 L767.7,2833.0 L768.5,2833.5 L769.3,2834.3 L770.1,2834.6 L771.0,2834.5 L771.8,2834.4 L772.6,2835.7 L773.5,2835.5 L774.3,2834.4 L775.1,2834.6 L776.0,2835.7 L776.8,2835.1 L777.6,2834.6 L778.5,2835.3 L779.3,2835.0 L780.1,2834.5 L781.0,2833.9 L781.8,2833.8 L782.6,2834.1 L783.5,2833.9 L784.3,2834.3 L785.1,2835.3 L786.0,2834.5 L786.8,2834.0 L787.6,2834.5 L788.5,2834.2 L789.3,2834.3 L790.1,2834.0 L791.0,2834.4 L791.8,2835.1 L792.6,2834.8 L793.5,2834.6 L794.3,2834.7 L795.1,2835.7 L796.0,2835.1 L796.8,2834.3 L797.6,2834.3 L798.5,2834.3 L799.3,2834.2 L800.1,2833.9 L801.0,2833.9 L801.8,2834.0 L802.6,2834.8 L803.4,2834.2 L804.3,2834.2 L805.1,2835.0 L805.9,2834.4 L806.8,2834.4 L807.6,2835.0 L808.4,2834.8 L809.3,2834.4 L810.1,2834.3 L810.9,2833.6 L811.8,2834.5 L812.6,2835.7 L813.4,2834.5 L814.3,2834.2 L815.1,2834.7 L815.9,2834.1 L816.8,2833.4 L817.6,2834.0 L818.4,2834.3 L819.3,2835.0 L820.1,2835.8 L820.9,2835.0 L821.8,2834.3 L822.6,2833.9 L823.4,2834.7 L824.3,2836.1 L825.1,2836.0 L825.9,2835.8 L826.8,2835.5 L827.6,2834.9 L828.4,2834.8 L829.3,2834.2 L830.1,2833.6 L830.9,2834.5 L831.8,2834.8 L832.6,2834.3 L833.4,2835.1 L834.3,2835.0 L835.1,2834.8 L835.9,2835.2 L836.7,2834.3 L837.6,2834.4 L838.4,2835.1 L839.2,2835.0 L840.1,2835.7 L840.9,2835.0 L841.7,2834.7 L842.6,2835.8 L843.4,2835.6 L844.2,2835.1 L845.1,2835.8 L845.9,2835.5 L846.7,2834.3 L847.6,2835.1 L848.4,2835.5 L849.2,2835.3 L850.1,2834.8 L850.9,2834.3 L851.7,2834.6 L852.6,2834.9 L853.4,2835.7 L854.2,2835.5 L855.1,2834.6 L855.9,2834.6 L856.7,2834.6 L857.6,2835.0 L858.4,2835.8 L859.2,2835.1 L860.1,2835.0 L860.9,2835.5 L861.7,2835.1 L862.6,2835.1 L863.4,2834.9 L864.2,2834.9 L865.1,2834.7 L865.9,2834.7 L866.7,2834.3 L867.6,2833.1 L868.4,2833.3 L869.2,2833.9 L870.0,2834.3 L870.9,2833.7 L871.7,2833.9 L872.5,2833.8 L873.4,2833.1 L874.2,2833.0 L875.0,2832.1 L875.9,2831.6 L876.7,2831.5 L877.5,2830.7 L878.4,2828.6 L879.2,2825.9 L880.0,2822.4 L880.9,2816.8 L881.7,2807.9 L882.5,2794.4 L883.4,2776.7 L884.2,2756.7 L885.0,2736.0 L885.9,2718.4 L886.7,2707.3 L887.5,2706.2 L888.4,2715.2 L889.2,2731.9 L890.0,2752.6 L890.9,2772.5 L891.7,2790.5 L892.5,2804.7 L893.4,2814.5 L894.2,2821.8 L895.0,2827.0 L895.9,2829.1 L896.7,2830.5 L897.5,2832.5 L898.4,2832.7 L899.2,2833.1 L900.0,2833.5 L900.9,2833.9 L901.7,2834.3 L902.5,2834.0 L903.3,2833.7 L904.2,2834.0 L905.0,2834.4 L905.8,2833.7 L906.7,2834.9 L907.5,2835.7 L908.3,2834.9 L909.2,2835.1 L910.0,2834.7 L910.8,2834.9 L911.7,2835.5 L912.5,2835.1 L913.3,2835.0 L914.2,2835.2 L915.0,2836.1 L915.8,2835.9 L916.7,2835.5 L917.5,2835.5 L918.3,2834.8 L919.2,2835.7 L920.0,2835.9 L920.8,2835.3 L921.7,2836.2 L922.5,2836.4 L923.3,2835.8 L924.2,2836.0 L925.0,2836.0 L925.8,2835.5 L926.7,2835.2 L927.5,2835.6 L928.3,2836.1 L929.2,2836.1 L930.0,2836.3 L930.8,2836.7 L931.7,2836.8 L932.5,2836.5 L933.3,2836.5 L934.2,2837.2 L935.0,2836.7 L935.8,2836.0 L936.7,2836.4 L937.5,2837.0 L938.3,2836.6 L939.1,2835.9 L940.0,2835.9 L940.8,2835.8 L941.6,2835.8 L942.5,2835.9 L943.3,2835.5 L944.1,2835.3 L945.0,2836.4 L945.8,2836.9 L946.6,2836.5 L947.5,2835.9 L948.3,2836.7 L949.1,2836.7 L950.0,2836.1 L950.8,2837.2 L951.6,2837.3 L952.5,2836.3 L953.3,2836.0 L954.1,2836.3 L955.0,2836.6 L955.8,2836.4 L956.6,2836.0 L957.5,2836.3 L958.3,2836.2 L959.1,2835.4 L960.0,2834.3 L960.8,2834.8 L961.6,2835.6 L962.5,2835.7 L963.3,2836.4 L964.1,2836.4 L965.0,2836.3 L965.8,2836.4 L966.6,2836.4 L967.5,2836.6 L968.3,2836.2 L969.1,2836.1 L970.0,2836.4 L970.8,2836.1 L971.6,2836.1 L972.4,2836.1 L973.3,2836.5 L974.1,2836.6 L974.9,2836.5 L975.8,2837.4 L976.6,2837.2 L977.4,2836.7 L978.3,2836.1 L979.1,2835.7 L979.9,2836.1 L980.8,2836.6 L981.6,2837.0 L982.4,2836.5 L983.3,2836.5 L984.1,2836.7 L984.9,2836.6 L985.8,2836.2 L986.6,2837.0 L987.4,2836.9 L988.3,2836.6 L989.1,2837.3 L989.9,2837.0 L990.8,2837.5 L991.6,2836.6 L992.4,2835.7 L993.3,2836.9 L994.1,2837.0 L994.9,2836.3 L995.8,2836.1 L996.6,2836.0 L997.4,2836.7 L998.3,2838.2 L999.1,2838.8 L999.9,2838.1 L1000.8,2837.4 L1001.6,2836.8 L1002.4,2836.9 L1003.3,2837.3 L1004.1,2836.8 L1004.9,2836.5 L1005.7,2836.3 L1006.6,2836.8 L1007.4,2837.0 L1008.2,2837.0 L1009.1,2837.6 L1009.9,2837.5 L1010.7,2837.8 L1011.6,2837.5 L1012.4,2836.7 L1013.2,2837.3 L1014.1,2837.4 L1014.9,2836.9 L1015.7,2836.6 L1016.6,2837.1 L1017.4,2837.5 L1018.2,2837.9 L1019.1,2837.6 L1019.9,2837.4 L1020.7,2838.3 L1021.6,2837.3 L1022.4,2836.5 L1023.2,2837.3 L1024.1,2837.0 L1024.9,2836.4 L1025.7,2837.0 L1026.6,2838.1 L1027.4,2838.0 L1028.2,2837.1 L1029.1,2837.1 L1029.9,2836.6 L1030.7,2836.7 L1031.6,2837.5 L1032.4,2837.4 L1033.2,2837.0 L1034.1,2837.2 L1034.9,2837.3 L1035.7,2837.5 L1036.6,2838.3 L1037.4,2838.0 L1038.2,2837.0 L1039.0,2837.1 L1039.9,2837.3 L1040.7,2837.6 L1041.5,2838.0 L1042.4,2837.3 L1043.2,2837.3 L1044.0,2837.3 L1044.9,2836.8 L1045.7,2837.3 L1046.5,2837.6 L1047.4,2836.9 L1048.2,2837.6 L1049.0,2837.6 L1049.9,2837.1 L1050.7,2836.8 L1051.5,2836.8 L1052.4,2838.1 L1053.2,2837.8 L1054.0,2837.6 L1054.9,2837.9 L1055.7,2838.1 L1056.5,2838.2 L1057.4,2837.6 L1058.2,2838.0 L1059.0,2837.3 L1059.9,2836.4 L1060.7,2837.4 L1061.5,2837.7 L1062.4,2837.3 L1063.2,2836.8 L1064.0,2836.3 L1064.9,2837.4 L1065.7,2838.2 L1066.5,2837.4 L1067.4,2837.3 L1068.2,2837.4 L1069.0,2837.4 L1069.9,2837.8 L1070.7,2837.6 L1071.5,2837.7 L1072.3,2838.4 L1073.2,2837.9 L1074.0,2837.8 L1074.8,2838.1 L1075.7,2837.5 L1076.5,2837.2 L1077.3,2837.1 L1078.2,2837.3 L1079.0,2837.6 L1079.8,2837.6 L1080.7,2837.6 L1081.5,2836.6 L1082.3,2836.6 L1083.2,2837.6 L1084.0,2838.4 L1084.8,2839.1 L1085.7,2838.1 L1086.5,2836.6 L1087.3,2837.7 L1088.2,2839.2 L1089.0,2838.4 L1089.8,2836.8 L1090.7,2836.8 L1091.5,2838.5 L1092.3,2838.7 L1093.2,2837.5 L1094.0,2837.5 L1094.8,2837.8 L1095.7,2837.0 L1096.5,2836.7 L1097.3,2837.6 L1098.2,2837.7 L1099.0,2837.9 L1099.8,2839.0 L1100.7,2839.3 L1101.5,2837.8 L1102.3,2837.6 L1103.2,2838.2 L1104.0,2838.6 L1104.8,2838.5 L1105.7,2838.8 L1106.5,2838.4 L1107.3,2837.6 L1108.1,2838.2 L1109.0,2838.3 L1109.8,2838.2 L1110.6,2838.0 L1111.5,2837.3 L1112.3,2837.7 L1113.1,2837.9 L1114.0,2838.1 L1114.8,2837.8 L1115.6,2837.5 L1116.5,2838.0 L1117.3,2838.0 L1118.1,2838.6 L1119.0,2838.2 L1119.8,2837.9 L1120.6,2838.2 L1121.5,2838.5 L1122.3,2838.1 L1123.1,2837.6 L1124.0,2837.9 L1124.8,2837.7 L1125.6,2837.4 L1126.5,2837.9 L1127.3,2838.0 L1128.1,2838.0 L1129.0,2838.7 L1129.8,2838.0 L1130.6,2837.4 L1131.5,2838.4 L1132.3,2838.9 L1133.1,2838.8 L1134.0,2838.5 L1134.8,2838.5 L1135.6,2838.9 L1136.5,2838.4 L1137.3,2837.9 L1138.1,2838.3 L1139.0,2838.4 L1139.8,2837.9 L1140.6,2837.9 L1141.4,2838.0 L1142.3,2837.8 L1143.1,2837.5 L1143.9,2838.0 L1144.8,2838.4 L1145.6,2837.8 L1146.4,2837.1 L1147.3,2837.6 L1148.1,2838.1 L1148.9,2838.0 L1149.8,2838.2 L1150.6,2837.8 L1151.4,2837.9 L1152.3,2838.7 L1153.1,2838.5 L1153.9,2838.3 L1154.8,2838.2 L1155.6,2837.6 L1156.4,2837.8 L1157.3,2838.3 L1158.1,2838.3 L1158.9,2838.1 L1159.8,2838.3 L1160.6,2839.3 L1161.4,2839.1 L1162.3,2838.3 L1163.1,2838.9 L1163.9,2839.5 L1164.8,2839.1 L1165.6,2838.1 L1166.4,2838.5 L1167.3,2838.7 L1168.1,2838.4 L1168.9,2838.4 L1169.8,2838.8 L1170.6,2838.6 L1171.4,2838.2 L1172.3,2838.3 L1173.1,2838.1 L1173.9,2838.3 L1174.7,2838.7 L1175.6,2838.5 L1176.4,2838.0 L1177.2,2837.9 L1178.1,2838.5 L1178.9,2838.9 L1179.7,2838.8 L1180.6,2839.7 L1181.4,2839.9 L1182.2,2838.8 L1183.1,2838.7 L1183.9,2838.8 L1184.7,2838.5 L1185.6,2838.4 L1186.4,2838.8 L1187.2,2838.4 L1188.1,2838.3 L1188.9,2838.4 L1189.7,2838.6 L1190.6,2838.9 L1191.4,2839.4 L1192.2,2840.1 L1193.1,2839.3 L1193.9,2838.1 L1194.7,2838.3 L1195.6,2838.8 L1196.4,2838.9 L1197.2,2839.6 L1198.1,2839.0 L1198.9,2839.1 L1199.7,2839.0 L1200.6,2838.0 L1201.4,2838.5 L1202.2,2838.9 L1203.1,2838.8 L1203.9,2839.6 L1204.7,2839.8 L1205.6,2838.2 L1206.4,2838.0 L1207.2,2838.9 L1208.0,2839.0 L1208.9,2839.0 L1209.7,2839.5 L1210.5,2839.2 L1211.4,2838.0 L1212.2,2837.9 L1213.0,2838.8 L1213.9,2838.7 L1214.7,2838.3 L1215.5,2838.1 L1216.4,2837.7 L1217.2,2838.8 L1218.0,2839.3 L1218.9,2838.8 L1219.7,2839.3 L1220.5,2839.3 L1221.4,2838.7 L1222.2,2838.9 L1223.0,2838.1 L1223.9,2838.2 L1224.7,2838.9 L1225.5,2839.1 L1226.4,2839.2 L1227.2,2839.4 L1228.0,2839.9 L1228.9,2839.4 L1229.7,2839.3 L1230.5,2838.9 L1231.4,2838.4 L1232.2,2838.2 L1233.0,2838.3 L1233.9,2837.9 L1234.7,2838.3 L1235.5,2838.8 L1236.4,2838.5 L1237.2,2838.4 L1238.0,2838.4 L1238.9,2837.9 L1239.7,2837.4 L1240.5,2837.7 L1241.3,2838.3 L1242.2,2838.5 L1243.0,2838.5 L1243.8,2839.2 L1244.7,2838.9 L1245.5,2838.6 L1246.3,2839.2 L1247.2,2840.0 L1248.0,2839.4 L1248.8,2839.2 L1249.7,2840.5 L1250.5,2839.5 L1251.3,2838.2 L1252.2,2839.2 L1253.0,2840.1 L1253.8,2840.1 L1254.7,2839.5 L1255.5,2839.2 L1256.3,2839.7 L1257.2,2839.4 L1258.0,2838.8 L1258.8,2838.5 L1259.7,2838.6 L1260.5,2838.5 L1261.3,2838.6 L1262.2,2839.1 L1263.0,2839.4 L1263.8,2839.1 L1264.7,2838.6 L1265.5,2838.8 L1266.3,2839.2 L1267.2,2839.4 L1268.0,2838.8 L1268.8,2838.9 L1269.7,2839.9 L1270.5,2840.1 L1271.3,2839.7 L1272.2,2839.4 L1273.0,2839.2 L1273.8,2838.5 L1274.7,2838.7 L1275.5,2839.1 L1276.3,2839.4 L1277.1,2839.7 L1278.0,2839.9 L1278.8,2839.2 L1279.6,2838.4 L1280.5,2839.9 L1281.3,2840.5 L1282.1,2839.6 L1283.0,2839.0 L1283.8,2838.9 L1284.6,2839.8 L1285.5,2839.4 L1286.3,2839.0 L1287.1,2839.7 L1288.0,2839.2 L1288.8,2839.1 L1289.6,2839.5 L1290.5,2839.3 L1291.3,2838.7 L1292.1,2839.4 L1293.0,2839.9 L1293.8,2839.5 L1294.6,2839.1 L1295.5,2838.8 L1296.3,2838.2 L1297.1,2838.5 L1298.0,2839.9 L1298.8,2839.9 L1299.6,2839.7 L1300.5,2839.6 L1301.3,2839.4 L1302.1,2839.6 L1303.0,2839.4 L1303.8,2838.9 L1304.6,2839.2 L1305.5,2839.2 L1306.3,2839.2 L1307.1,2839.7 L1308.0,2840.1 L1308.8,2839.7 L1309.6,2839.5 L1310.4,2839.7 L1311.3,2839.4 L1312.1,2838.5 L1312.9,2838.3 L1313.8,2838.5 L1314.6,2838.7 L1315.4,2839.6 L1316.3,2840.0 L1317.1,2839.8 L1317.9,2840.0 L1318.8,2839.9 L1319.6,2839.2 L1320.4,2839.2 L1321.3,2839.5 L1322.1,2839.4 L1322.9,2839.5 L1323.8,2840.2 L1324.6,2840.1 L1325.4,2840.1 L1326.3,2840.0 L1327.1,2839.9 L1327.9,2839.4 L1328.8,2839.2 L1329.6,2838.9 L1330.4,2838.4 L1331.3,2839.3 L1332.1,2839.4 L1332.9,2839.1 L1333.8,2839.3 L1334.6,2839.8 L1335.4,2839.7 L1336.3,2839.2 L1337.1,2839.7 L1337.9,2840.3 L1338.8,2840.3 L1339.6,2839.8 L1340.4,2839.7 L1341.3,2840.7 L1342.1,2840.3 L1342.9,2839.9 L1343.7,2840.2 L1344.6,2840.4 L1345.4,2839.9 L1346.2,2839.1 L1347.1,2838.9 L1347.9,2839.8 L1348.7,2840.3 L1349.6,2840.2 L1350.4,2840.2 L1351.2,2839.7 L1352.1,2839.5 L1352.9,2839.0 L1353.7,2839.2 L1354.6,2840.5 L1355.4,2840.5 L1356.2,2839.8 L1357.1,2839.6 L1357.9,2839.3 L1358.7,2839.2 L1359.6,2839.2 L1360.4,2839.9 L1361.2,2839.9 L1362.1,2839.7 L1362.9,2839.9 L1363.7,2840.5 L1364.6,2840.4 L1365.4,2839.6 L1366.2,2839.7 L1367.1,2840.7 L1367.9,2840.7 L1368.7,2840.3 L1369.6,2840.5 L1370.4,2840.3 L1371.2,2840.0 L1372.1,2839.8 L1372.9,2839.2 L1373.7,2839.1 L1374.6,2840.1 L1375.4,2840.3 L1376.2,2839.6 L1377.0,2840.2 L1377.9,2840.6 L1378.7,2840.7 L1379.5,2840.5 L1380.4,2839.5 L1381.2,2839.4 L1382.0,2840.2 L1382.9,2840.9 L1383.7,2840.6 L1384.5,2839.9 L1385.4,2839.5 L1386.2,2839.3 L1387.0,2839.3 L1387.9,2839.3 L1388.7,2839.4 L1389.5,2839.6 L1390.4,2840.0 L1391.2,2839.9 L1392.0,2839.2 L1392.9,2839.7 L1393.7,2840.0 L1394.5,2839.5 L1395.4,2839.3 L1396.2,2839.8 L1397.0,2840.0 L1397.9,2840.3 L1398.7,2840.0 L1399.5,2839.3 L1400.4,2839.7 L1401.2,2840.2 L1402.0,2840.6 L1402.9,2840.0 L1403.7,2839.9 L1404.5,2840.7 L1405.4,2841.1 L1406.2,2840.5 L1407.0,2840.2 L1407.9,2840.7 L1408.7,2840.4 L1409.5,2840.5 L1410.4,2840.3 L1411.2,2839.9 L1412.0,2839.2 L1412.8,2839.2 L1413.7,2840.1 L1414.5,2840.4 L1415.3,2841.1 L1416.2,2840.8 L1417.0,2840.0 L1417.8,2840.6 L1418.7,2840.6 L1419.5,2840.3 L1420.3,2840.2 L1421.2,2840.4 L1422.0,2840.5 L1422.8,2840.1 L1423.7,2840.2 L1424.5,2840.6 L1425.3,2840.2 L1426.2,2840.1 L1427.0,2840.9 L1427.8,2840.1 L1428.7,2840.5 L1429.5,2841.2 L1430.3,2840.7 L1431.2,2840.4 L1432.0,2840.0 L1432.8,2839.3 L1433.7,2839.5 L1434.5,2840.0 L1435.3,2840.0 L1436.2,2839.8 L1437.0,2840.1 L1437.8,2840.6 L1438.7,2841.1 L1439.5,2841.6 L1440.3,2841.1 L1441.2,2840.3 L1442.0,2840.2 L1442.8,2840.5 L1443.7,2840.9 L1444.5,2841.1 L1445.3,2840.6 L1446.1,2840.6 L1447.0,2840.8 L1447.8,2840.3 L1448.6,2839.8 L1449.5,2840.0 L1450.3,2840.5 L1451.1,2840.2 L1452.0,2839.8 L1452.8,2839.5 L1453.6,2839.7 L1454.5,2840.2 L1455.3,2839.8 L1456.1,2839.8 L1457.0,2840.5 L1457.8,2840.3 L1458.6,2839.8 L1459.5,2839.8 L1460.3,2840.2 L1461.1,2841.1 L1462.0,2840.5 L1462.8,2840.0 L1463.6,2840.6 L1464.5,2840.4 L1465.3,2840.5 L1466.1,2840.7 L1467.0,2840.3 L1467.8,2840.2 L1468.6,2840.5 L1469.5,2840.3 L1470.3,2840.0 L1471.1,2840.9 L1472.0,2841.5 L1472.8,2840.8 L1473.6,2841.8 L1474.5,2841.6 L1475.3,2840.0 L1476.1,2840.0 L1477.0,2840.1 L1477.8,2841.0 L1478.6,2842.0 L1479.4,2841.4 L1480.3,2840.9 L1481.1,2840.9 L1481.9,2840.6 L1482.8,2840.6 L1483.6,2840.9 L1484.4,2840.7 L1485.3,2840.7 L1486.1,2840.8 L1486.9,2840.5 L1487.8,2840.7 L1488.6,2840.5 L1489.4,2840.0 L1490.3,2840.5 L1491.1,2841.0 L1491.9,2840.8 L1492.8,2840.5 L1493.6,2840.3 L1494.4,2840.3 L1495.3,2840.4 L1496.1,2840.4 L1496.9,2840.7 L1497.8,2840.9 L1498.6,2839.8 L1499.4,2839.9 L1500.3,2840.7 L1501.1,2840.8 L1501.9,2840.2 L1502.8,2840.2 L1503.6,2840.9 L1504.4,2840.5 L1505.3,2839.7 L1506.1,2840.6 L1506.9,2840.4 L1507.8,2839.5 L1508.6,2839.8 L1509.4,2839.4 L1510.3,2839.7 L1511.1,2839.8 L1511.9,2839.8 L1512.7,2840.7 L1513.6,2841.3 L1514.4,2841.2 L1515.2,2840.4 L1516.1,2840.8 L1516.9,2842.0 L1517.7,2841.6 L1518.6,2841.5 L1519.4,2841.6 L1520.2,2841.5 L1521.1,2841.1 L1521.9,2840.2 L1522.7,2841.1 L1523.6,2841.9 L1524.4,2841.1 L1525.2,2841.6 L1526.1,2842.0 L1526.9,2841.5 L1527.7,2840.9 L1528.6,2840.2 L1529.4,2840.5 L1530.2,2840.8 L1531.1,2841.1 L1531.9,2841.3 L1532.7,2840.8 L1533.6,2840.5 L1534.4,2840.5 L1535.2,2839.8 L1536.1,2839.5 L1536.9,2839.9 L1537.7,2840.5 L1538.6,2840.7 L1539.4,2840.3 L1540.2,2840.7 L1541.1,2841.1 L1541.9,2840.4 L1542.7,2840.1 L1543.6,2840.4 L1544.4,2840.9 L1545.2,2841.3 L1546.0,2841.4 L1546.9,2841.3 L1547.7,2841.3 L1548.5,2841.0 L1549.4,2840.8 L1550.2,2841.0 L1551.0,2841.1 L1551.9,2841.4 L1552.7,2841.4 L1553.5,2841.3 L1554.4,2841.7 L1555.2,2841.5 L1556.0,2841.1 L1556.9,2841.4 L1557.7,2841.1 L1558.5,2840.9 L1559.4,2841.6 L1560.2,2841.3 L1561.0,2841.0 L1561.9,2840.4 L1562.7,2840.5 L1563.5,2841.0 L1564.4,2841.0 L1565.2,2841.2 L1566.0,2841.3 L1566.9,2841.0 L1567.7,2841.1 L1568.5,2841.9 L1569.4,2841.8 L1570.2,2841.1 L1571.0,2841.4 L1571.9,2841.1 L1572.7,2840.3 L1573.5,2839.9 L1574.4,2839.9 L1575.2,2840.3 L1576.0,2840.0 L1576.9,2840.0 L1577.7,2840.4 L1578.5,2841.2 L1579.4,2841.6 L1580.2,2840.7 L1581.0,2840.4 L1581.8,2840.5 L1582.7,2840.8 L1583.5,2840.5 L1584.3,2840.6 L1585.2,2841.2 L1586.0,2842.0 L1586.8,2841.5 L1587.7,2840.6 L1588.5,2840.9 L1589.3,2841.3 L1590.2,2841.8 L1591.0,2841.2 L1591.8,2840.6 L1592.7,2840.8 L1593.5,2840.9 L1594.3,2841.0 L1595.2,2840.9 L1596.0,2841.5 L1596.8,2841.7 L1597.7,2841.3 L1598.5,2841.3 L1599.3,2841.4 L1600.2,2841.5 L1601.0,2841.9 L1601.8,2841.6 L1602.7,2841.4 L1603.5,2841.6 L1604.3,2841.2 L1605.2,2841.4 L1606.0,2841.9 L1606.8,2841.8 L1607.7,2841.4 L1608.5,2842.1 L1609.3,2841.7 L1610.2,2841.4 L1611.0,2841.9 L1611.8,2841.3 L1612.7,2841.6 L1613.5,2841.9 L1614.3,2841.5 L1615.1,2841.7 L1616.0,2841.3 L1616.8,2840.4 L1617.6,2840.4 L1618.5,2841.4 L1619.3,2842.0 L1620.1,2841.5 L1621.0,2841.3 L1621.8,2840.4 L1622.6,2840.2 L1623.5,2840.5 L1624.3,2841.1 L1625.1,2841.6 L1626.0,2840.8 L1626.8,2839.8 L1627.6,2840.3 L1628.5,2840.8 L1629.3,2840.5 L1630.1,2840.9 L1631.0,2841.5 L1631.8,2842.0 L1632.6,2841.7 L1633.5,2840.9 L1634.3,2841.2 L1635.1,2841.8 L1636.0,2841.2 L1636.8,2841.2 L1637.6,2841.1 L1638.5,2841.3 L1639.3,2841.8 L1640.1,2841.9 L1641.0,2842.4 L1641.8,2841.6 L1642.6,2840.9 L1643.5,2841.4 L1644.3,2841.8 L1645.1,2841.7 L1646.0,2841.3 L1646.8,2841.8 L1647.6,2841.9 L1648.4,2841.4 L1649.3,2840.9 L1650.1,2840.9 L1650.9,2840.9 L1651.8,2841.9 L1652.6,2842.3 L1653.4,2840.9 L1654.3,2841.6 L1655.1,2842.2 L1655.9,2841.2 L1656.8,2840.7 L1657.6,2841.1 L1658.4,2841.5 L1659.3,2841.7 L1660.1,2841.4 L1660.9,2841.8 L1661.8,2842.3 L1662.6,2841.6 L1663.4,2841.5 L1664.3,2841.8 L1665.1,2841.9 L1665.9,2841.2 L1666.8,2841.8 L1667.6,2842.6 L1668.4,2842.1 L1669.3,2842.2 L1670.1,2842.2 L1670.9,2842.3 L1671.8,2842.0 L1672.6,2841.3 L1673.4,2841.0 L1674.3,2841.8 L1675.1,2842.1 L1675.9,2841.8 L1676.8,2842.2 L1677.6,2842.6 L1678.4,2842.6 L1679.3,2841.1 L1680.1,2841.6 L1680.9,2842.2 L1681.7,2841.0 L1682.6,2841.8 L1683.4,2841.4 L1684.2,2840.4 L1685.1,2841.3 L1685.9,2842.0 L1686.7,2841.7 L1687.6,2841.5 L1688.4,2841.0 L1689.2,2841.5 L1690.1,2841.4 L1690.9,2840.6 L1691.7,2841.4 L1692.6,2841.8 L1693.4,2841.6 L1694.2,2842.1 L1695.1,2841.7 L1695.9,2841.4 L1696.7,2841.4 L1697.6,2841.2 L1698.4,2841.2 L1699.2,2840.3 L1700.1,2840.5 L1700.9,2842.5 L1701.7,2843.0 L1702.6,2842.2 L1703.4,2842.2 L1704.2,2841.5 L1705.1,2841.9 L1705.9,2842.4 L1706.7,2842.4 L1707.6,2843.3 L1708.4,2843.0 L1709.2,2841.7 L1710.1,2841.1 L1710.9,2841.5 L1711.7,2841.5 L1712.6,2841.3 L1713.4,2840.5 L1714.2,2841.2 L1715.0,2842.4 L1715.9,2841.9 L1716.7,2841.9 L1717.5,2842.2 L1718.4,2841.8 L1719.2,2841.9 L1720.0,2842.0 L1720.9,2841.7 L1721.7,2841.6 L1722.5,2842.0 L1723.4,2843.0 L1724.2,2842.6 L1725.0,2842.1 L1725.9,2841.8 L1726.7,2841.3 L1727.5,2842.3 L1728.4,2842.2 L1729.2,2841.5 L1730.0,2841.3 L1730.9,2841.6 L1731.7,2842.2" fill="none" stroke="#000000" stroke-width="4.6" stroke-linejoin="round"/>
</g>
<path d="M108.3,1571.5 V2849.2 H1731.7 V1571.5" fill="none" stroke="#111" stroke-width="3.8" stroke-linejoin="miter"/>
<line x1="191.6" y1="2849.2" x2="191.6" y2="2863.2" stroke="#111" stroke-width="3.6"/>
<line x1="316.4" y1="2849.2" x2="316.4" y2="2875.7" stroke="#111" stroke-width="3.6"/>
<text x="316.4" y="2952.3" text-anchor="middle" class="t" style="font-size:77px">300</text>
<line x1="441.3" y1="2849.2" x2="441.3" y2="2863.2" stroke="#111" stroke-width="3.6"/>
<line x1="566.2" y1="2849.2" x2="566.2" y2="2875.7" stroke="#111" stroke-width="3.6"/>
<text x="566.2" y="2952.3" text-anchor="middle" class="t" style="font-size:77px">600</text>
<line x1="691.1" y1="2849.2" x2="691.1" y2="2863.2" stroke="#111" stroke-width="3.6"/>
<line x1="815.9" y1="2849.2" x2="815.9" y2="2875.7" stroke="#111" stroke-width="3.6"/>
<text x="815.9" y="2952.3" text-anchor="middle" class="t" style="font-size:77px">900</text>
<line x1="940.8" y1="2849.2" x2="940.8" y2="2863.2" stroke="#111" stroke-width="3.6"/>
<line x1="1065.7" y1="2849.2" x2="1065.7" y2="2875.7" stroke="#111" stroke-width="3.6"/>
<text x="1065.7" y="2952.3" text-anchor="middle" class="t" style="font-size:77px">1200</text>
<line x1="1190.6" y1="2849.2" x2="1190.6" y2="2863.2" stroke="#111" stroke-width="3.6"/>
<line x1="1315.4" y1="2849.2" x2="1315.4" y2="2875.7" stroke="#111" stroke-width="3.6"/>
<text x="1315.4" y="2952.3" text-anchor="middle" class="t" style="font-size:77px">1500</text>
<line x1="1440.3" y1="2849.2" x2="1440.3" y2="2863.2" stroke="#111" stroke-width="3.6"/>
<line x1="1565.2" y1="2849.2" x2="1565.2" y2="2875.7" stroke="#111" stroke-width="3.6"/>
<text x="1565.2" y="2952.3" text-anchor="middle" class="t" style="font-size:77px">1800</text>
<line x1="1690.1" y1="2849.2" x2="1690.1" y2="2863.2" stroke="#111" stroke-width="3.6"/>
<text y="3052.0" class="t"><tspan x="604.7">Raman</tspan><tspan x="869.2">shift</tspan><tspan x="1036.8" y="3045.0" font-size="70">(</tspan><tspan x="1059.4" y="3052.0">cm</tspan><tspan x="1154.8" y="3021.0" font-size="52">&#8722;</tspan><tspan x="1184.2" font-size="52">1</tspan><tspan x="1211.7" y="3045.0" font-size="70">)</tspan></text>
<text transform="translate(77.2,2536.0) rotate(-90)" class="yl">Intensity (arb. unit)</text>
<text x="247.0" y="1678.0" class="pl" letter-spacing="2.2"><tspan font-size="82">(</tspan><tspan dy="3.5">b</tspan><tspan dy="-3.5" font-size="82">)</tspan></text>
<rect x="1072.0" y="1571.5" width="660.6" height="553.8" fill="#fff" stroke="#666" stroke-width="2"/>
<line x1="108.3" y1="1571.5" x2="1731.7" y2="1571.5" stroke="#111" stroke-width="3.8" stroke-linecap="square"/>
<text x="1100.7" y="1680.5" class="lt">VACNT</text>
<text x="1402.5" y="1680.5" class="lt">500°C</text>
<text x="1632.0" y="1680.5" class="lt">O</text>
<text x="1694.3" y="1701.3" class="lt" style="font-size:56.5px">2</text>
<line x1="1097.8" y1="1773.4" x2="1252.9" y2="1773.4" stroke="#1c7a1c" stroke-width="4" stroke-linecap="round"/>
<text x="1271.8" y="1796.7" class="lt2">200nm V</text>
<line x1="1097.8" y1="1876.0" x2="1252.9" y2="1876.0" stroke="#0000f0" stroke-width="4" stroke-linecap="round"/>
<text x="1271.8" y="1899.3" class="lt2">150nm V</text>
<line x1="1097.8" y1="1978.7" x2="1252.9" y2="1978.7" stroke="#f00000" stroke-width="4" stroke-linecap="round"/>
<text x="1271.8" y="2002.0" class="lt2">100nm V</text>
<line x1="1097.8" y1="2082.0" x2="1252.9" y2="2082.0" stroke="#000000" stroke-width="4" stroke-linecap="round"/>
<text x="1271.8" y="2105.3" class="lt2">50nm V</text>
</svg></body></html>
